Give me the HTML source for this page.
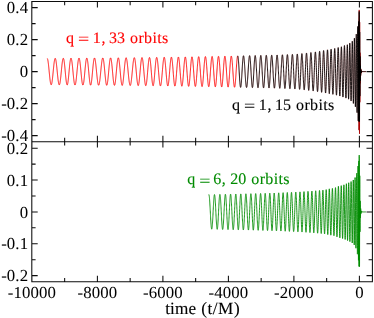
<!DOCTYPE html>
<html lang="en"><head><meta charset="utf-8"><title>waveforms</title>
<style>html,body{margin:0;padding:0;background:#fff}svg{display:block}</style></head>
<body>
<svg width="374" height="318" viewBox="0 0 374 318">
<rect width="374" height="318" fill="#fff"/>
<path d="M47.20 58.48L47.26 58.50L47.33 58.54L47.39 58.62L47.45 58.73L47.51 58.87L47.58 59.05L47.64 59.25L47.70 59.48L47.76 59.75L47.83 60.04L47.89 60.36L47.95 60.71L48.01 61.08L48.08 61.48L48.14 61.90L48.20 62.35L48.26 62.82L48.33 63.31L48.39 63.83L48.45 64.36L48.51 64.90L48.58 65.47L48.64 66.05L48.70 66.64L48.76 67.25L48.83 67.86L48.89 68.49L48.95 69.12L49.01 69.76L49.08 70.40L49.14 71.05L49.20 71.70L49.26 72.34L49.33 72.99L49.39 73.63L49.45 74.27L49.51 74.90L49.58 75.52L49.64 76.13L49.70 76.74L49.76 77.33L49.83 77.90L49.89 78.46L49.95 79.01L50.01 79.53L50.08 80.04L50.14 80.53L50.20 80.99L50.26 81.43L50.33 81.85L50.39 82.25L50.45 82.62L50.51 82.96L50.58 83.27L50.64 83.56L50.70 83.81L50.76 84.04L50.83 84.24L50.89 84.41L50.95 84.54L51.01 84.65L51.08 84.72L51.14 84.77L51.20 84.78L51.26 84.75L51.33 84.70L51.39 84.62L51.45 84.50L51.51 84.35L51.58 84.18L51.64 83.97L51.70 83.73L51.76 83.46L51.83 83.17L51.89 82.85L51.95 82.50L52.01 82.12L52.08 81.72L52.14 81.29L52.20 80.84L52.26 80.37L52.33 79.88L52.39 79.36L52.45 78.83L52.51 78.28L52.58 77.72L52.64 77.14L52.70 76.55L52.76 75.94L52.83 75.33L52.89 74.70L52.95 74.07L53.01 73.44L53.08 72.79L53.14 72.15L53.20 71.50L53.26 70.86L53.33 70.21L53.39 69.57L53.45 68.94L53.51 68.31L53.58 67.69L53.64 67.07L53.70 66.47L53.76 65.88L53.83 65.31L53.89 64.75L53.95 64.20L54.01 63.68L54.08 63.17L54.14 62.68L54.20 62.22L54.26 61.77L54.33 61.35L54.39 60.96L54.45 60.58L54.51 60.24L54.58 59.92L54.64 59.63L54.70 59.37L54.76 59.14L54.83 58.94L54.89 58.77L54.95 58.63L55.01 58.52L55.08 58.44L55.14 58.39L55.20 58.37L55.26 58.39L55.33 58.43L55.39 58.51L55.45 58.62L55.51 58.76L55.58 58.93L55.64 59.13L55.70 59.36L55.76 59.61L55.83 59.90L55.89 60.21L55.95 60.55L56.01 60.92L56.08 61.31L56.14 61.72L56.20 62.16L56.26 62.62L56.33 63.10L56.39 63.60L56.45 64.12L56.51 64.66L56.58 65.21L56.64 65.78L56.70 66.36L56.76 66.95L56.83 67.55L56.89 68.17L56.95 68.79L57.01 69.41L57.08 70.05L57.14 70.68L57.20 71.32L57.26 71.96L57.33 72.59L57.39 73.23L57.45 73.86L57.51 74.48L57.58 75.10L57.64 75.71L57.70 76.32L57.76 76.91L57.83 77.48L57.89 78.05L57.95 78.60L58.01 79.13L58.08 79.65L58.14 80.15L58.20 80.62L58.26 81.08L58.33 81.52L58.39 81.93L58.45 82.32L58.51 82.68L58.58 83.02L58.64 83.33L58.70 83.62L58.76 83.87L58.83 84.10L58.89 84.30L58.95 84.47L59.01 84.61L59.08 84.73L59.14 84.81L59.20 84.86L59.26 84.88L59.33 84.87L59.39 84.82L59.45 84.75L59.51 84.65L59.58 84.52L59.64 84.35L59.70 84.16L59.76 83.94L59.83 83.69L59.89 83.41L59.95 83.10L60.01 82.77L60.08 82.41L60.14 82.02L60.20 81.62L60.26 81.18L60.33 80.73L60.39 80.25L60.45 79.75L60.51 79.24L60.58 78.70L60.64 78.15L60.70 77.59L60.76 77.00L60.83 76.41L60.89 75.80L60.95 75.19L61.01 74.56L61.08 73.93L61.14 73.29L61.20 72.65L61.26 72.00L61.33 71.36L61.39 70.71L61.45 70.07L61.51 69.43L61.58 68.79L61.64 68.16L61.70 67.54L61.76 66.92L61.83 66.32L61.89 65.73L61.95 65.15L62.01 64.59L62.08 64.04L62.14 63.52L62.20 63.01L62.26 62.52L62.33 62.05L62.39 61.61L62.45 61.19L62.51 60.79L62.58 60.42L62.64 60.08L62.70 59.76L62.76 59.48L62.83 59.22L62.89 58.99L62.95 58.79L63.01 58.63L63.08 58.49L63.14 58.39L63.20 58.32L63.26 58.29L63.33 58.28L63.39 58.31L63.45 58.37L63.51 58.47L63.58 58.60L63.64 58.76L63.70 58.95L63.76 59.17L63.83 59.43L63.89 59.72L63.95 60.03L64.01 60.38L64.08 60.76L64.14 61.16L64.20 61.59L64.26 62.05L64.33 62.53L64.39 63.03L64.45 63.56L64.51 64.11L64.58 64.68L64.64 65.26L64.70 65.87L64.76 66.49L64.83 67.12L64.89 67.76L64.95 68.42L65.01 69.08L65.08 69.75L65.14 70.43L65.20 71.11L65.26 71.79L65.33 72.47L65.39 73.15L65.45 73.82L65.51 74.49L65.58 75.16L65.64 75.81L65.70 76.45L65.76 77.09L65.83 77.70L65.89 78.30L65.95 78.89L66.01 79.45L66.08 80.00L66.14 80.52L66.20 81.02L66.26 81.49L66.33 81.94L66.39 82.36L66.45 82.76L66.51 83.12L66.58 83.45L66.64 83.75L66.70 84.02L66.76 84.26L66.83 84.46L66.89 84.63L66.95 84.77L67.01 84.87L67.08 84.93L67.14 84.96L67.20 84.95L67.26 84.91L67.33 84.83L67.39 84.72L67.45 84.57L67.51 84.39L67.58 84.17L67.64 83.92L67.70 83.64L67.76 83.33L67.83 82.98L67.89 82.61L67.95 82.20L68.01 81.77L68.08 81.31L68.14 80.82L68.20 80.31L68.26 79.78L68.33 79.22L68.39 78.65L68.45 78.06L68.51 77.45L68.58 76.82L68.64 76.18L68.70 75.53L68.76 74.87L68.83 74.20L68.89 73.52L68.95 72.84L69.01 72.16L69.08 71.47L69.14 70.79L69.20 70.11L69.26 69.43L69.33 68.76L69.39 68.09L69.45 67.44L69.51 66.79L69.58 66.16L69.64 65.55L69.70 64.95L69.76 64.36L69.83 63.80L69.89 63.26L69.95 62.74L70.01 62.24L70.08 61.77L70.14 61.32L70.20 60.90L70.26 60.50L70.33 60.14L70.39 59.80L70.45 59.50L70.51 59.22L70.58 58.98L70.64 58.77L70.70 58.59L70.76 58.45L70.83 58.34L70.89 58.26L70.95 58.22L71.01 58.20L71.08 58.23L71.14 58.28L71.20 58.37L71.26 58.50L71.33 58.65L71.39 58.84L71.45 59.06L71.51 59.30L71.58 59.58L71.64 59.89L71.70 60.23L71.76 60.60L71.83 60.99L71.89 61.41L71.95 61.85L72.01 62.32L72.08 62.81L72.14 63.32L72.20 63.85L72.26 64.39L72.33 64.96L72.39 65.54L72.45 66.14L72.51 66.75L72.58 67.37L72.64 68.00L72.70 68.64L72.76 69.29L72.83 69.94L72.89 70.59L72.95 71.25L73.01 71.91L73.08 72.57L73.14 73.22L73.20 73.87L73.26 74.52L73.33 75.15L73.39 75.78L73.45 76.40L73.51 77.01L73.58 77.60L73.64 78.18L73.70 78.75L73.76 79.29L73.83 79.82L73.89 80.33L73.95 80.82L74.01 81.28L74.08 81.73L74.14 82.14L74.20 82.54L74.26 82.90L74.33 83.24L74.39 83.56L74.45 83.84L74.51 84.09L74.58 84.32L74.64 84.51L74.70 84.68L74.76 84.81L74.83 84.91L74.89 84.98L74.95 85.02L75.01 85.03L75.08 85.00L75.14 84.95L75.20 84.86L75.26 84.74L75.33 84.59L75.39 84.41L75.45 84.19L75.51 83.95L75.58 83.68L75.64 83.38L75.70 83.05L75.76 82.70L75.83 82.31L75.89 81.91L75.95 81.48L76.01 81.02L76.08 80.54L76.14 80.04L76.20 79.52L76.26 78.99L76.33 78.43L76.39 77.86L76.45 77.27L76.51 76.67L76.58 76.06L76.64 75.43L76.70 74.80L76.76 74.16L76.83 73.51L76.89 72.86L76.95 72.20L77.01 71.54L77.08 70.89L77.14 70.23L77.20 69.58L77.26 68.93L77.33 68.29L77.39 67.65L77.45 67.03L77.51 66.41L77.58 65.81L77.64 65.22L77.70 64.64L77.76 64.09L77.83 63.55L77.89 63.03L77.95 62.53L78.01 62.05L78.08 61.59L78.14 61.16L78.20 60.76L78.26 60.38L78.33 60.02L78.39 59.70L78.45 59.40L78.51 59.13L78.58 58.90L78.64 58.69L78.70 58.52L78.76 58.38L78.83 58.27L78.89 58.19L78.95 58.15L79.01 58.14L79.08 58.16L79.14 58.22L79.20 58.30L79.26 58.43L79.33 58.58L79.39 58.77L79.45 58.99L79.51 59.24L79.58 59.52L79.64 59.83L79.70 60.17L79.76 60.54L79.83 60.94L79.89 61.36L79.95 61.81L80.01 62.28L80.08 62.78L80.14 63.30L80.20 63.84L80.26 64.40L80.33 64.98L80.39 65.57L80.45 66.18L80.51 66.81L80.58 67.44L80.64 68.09L80.70 68.74L80.76 69.41L80.83 70.08L80.89 70.75L80.95 71.42L81.01 72.10L81.08 72.77L81.14 73.45L81.20 74.11L81.26 74.77L81.33 75.43L81.39 76.07L81.45 76.71L81.51 77.33L81.58 77.93L81.64 78.52L81.70 79.09L81.76 79.65L81.83 80.18L81.89 80.69L81.95 81.18L82.01 81.65L82.08 82.09L82.14 82.50L82.20 82.89L82.26 83.25L82.33 83.57L82.39 83.87L82.45 84.14L82.51 84.37L82.58 84.58L82.64 84.75L82.70 84.88L82.76 84.99L82.83 85.06L82.89 85.09L82.95 85.09L83.01 85.06L83.08 84.99L83.14 84.89L83.20 84.75L83.26 84.58L83.33 84.38L83.39 84.14L83.45 83.88L83.51 83.58L83.58 83.25L83.64 82.89L83.70 82.50L83.76 82.08L83.83 81.64L83.89 81.17L83.95 80.68L84.01 80.17L84.08 79.63L84.14 79.07L84.20 78.49L84.26 77.90L84.33 77.28L84.39 76.66L84.45 76.02L84.51 75.37L84.58 74.71L84.64 74.04L84.70 73.36L84.76 72.68L84.83 72.00L84.89 71.32L84.95 70.63L85.01 69.95L85.08 69.28L85.14 68.61L85.20 67.94L85.26 67.29L85.33 66.65L85.39 66.02L85.45 65.40L85.51 64.80L85.58 64.22L85.64 63.65L85.70 63.11L85.76 62.59L85.83 62.09L85.89 61.62L85.95 61.17L86.01 60.74L86.08 60.35L86.14 59.98L86.20 59.65L86.26 59.34L86.33 59.07L86.39 58.83L86.45 58.62L86.51 58.44L86.58 58.30L86.64 58.19L86.70 58.12L86.76 58.08L86.83 58.08L86.89 58.11L86.95 58.18L87.01 58.28L87.08 58.41L87.14 58.58L87.20 58.78L87.26 59.02L87.33 59.29L87.39 59.59L87.45 59.92L87.51 60.28L87.58 60.68L87.64 61.10L87.70 61.55L87.76 62.03L87.83 62.53L87.89 63.05L87.95 63.60L88.01 64.17L88.08 64.76L88.14 65.37L88.20 65.99L88.26 66.63L88.33 67.29L88.39 67.95L88.45 68.63L88.51 69.31L88.58 70.00L88.64 70.70L88.70 71.39L88.76 72.09L88.83 72.79L88.89 73.48L88.95 74.17L89.01 74.85L89.08 75.52L89.14 76.19L89.20 76.84L89.26 77.48L89.33 78.10L89.39 78.70L89.45 79.29L89.51 79.85L89.58 80.40L89.64 80.92L89.70 81.41L89.76 81.88L89.83 82.32L89.89 82.74L89.95 83.12L90.01 83.47L90.08 83.79L90.14 84.08L90.20 84.34L90.26 84.56L90.33 84.75L90.39 84.90L90.45 85.02L90.51 85.10L90.58 85.14L90.64 85.15L90.70 85.12L90.76 85.06L90.83 84.96L90.89 84.83L90.95 84.66L91.01 84.45L91.08 84.22L91.14 83.95L91.20 83.64L91.26 83.31L91.33 82.94L91.39 82.54L91.45 82.12L91.51 81.67L91.58 81.19L91.64 80.69L91.70 80.16L91.76 79.61L91.83 79.04L91.89 78.45L91.95 77.84L92.01 77.22L92.08 76.58L92.14 75.93L92.20 75.27L92.26 74.60L92.33 73.93L92.39 73.25L92.45 72.56L92.51 71.87L92.58 71.18L92.64 70.49L92.70 69.81L92.76 69.13L92.83 68.46L92.89 67.80L92.95 67.14L93.01 66.50L93.08 65.88L93.14 65.26L93.20 64.67L93.26 64.09L93.33 63.53L93.39 62.99L93.45 62.48L93.51 61.99L93.58 61.52L93.64 61.08L93.70 60.66L93.76 60.28L93.83 59.92L93.89 59.59L93.95 59.29L94.01 59.02L94.08 58.78L94.14 58.57L94.20 58.40L94.26 58.26L94.33 58.15L94.39 58.07L94.45 58.03L94.51 58.02L94.58 58.04L94.64 58.10L94.70 58.19L94.76 58.31L94.83 58.46L94.89 58.64L94.95 58.85L95.01 59.09L95.08 59.36L95.14 59.66L95.20 59.99L95.26 60.34L95.33 60.72L95.39 61.12L95.45 61.55L95.51 62.00L95.58 62.47L95.64 62.97L95.70 63.48L95.76 64.01L95.83 64.55L95.89 65.12L95.95 65.69L96.01 66.28L96.08 66.88L96.14 67.49L96.20 68.11L96.26 68.74L96.33 69.37L96.39 70.01L96.45 70.65L96.51 71.29L96.58 71.93L96.64 72.57L96.70 73.21L96.76 73.84L96.83 74.47L96.89 75.09L96.95 75.71L97.01 76.31L97.08 76.90L97.14 77.48L97.20 78.05L97.26 78.61L97.33 79.14L97.39 79.66L97.45 80.17L97.51 80.65L97.58 81.12L97.64 81.56L97.70 81.98L97.76 82.38L97.83 82.76L97.89 83.11L97.95 83.43L98.01 83.73L98.08 84.01L98.14 84.25L98.20 84.47L98.26 84.66L98.33 84.83L98.39 84.96L98.45 85.07L98.51 85.14L98.58 85.19L98.64 85.21L98.70 85.20L98.76 85.16L98.83 85.09L98.89 84.99L98.95 84.86L99.01 84.70L99.08 84.51L99.14 84.30L99.20 84.06L99.26 83.79L99.33 83.50L99.39 83.18L99.45 82.83L99.51 82.46L99.58 82.07L99.64 81.65L99.70 81.21L99.76 80.75L99.83 80.28L99.89 79.78L99.95 79.26L100.01 78.73L100.08 78.18L100.14 77.61L100.20 77.03L100.26 76.44L100.33 75.84L100.39 75.23L100.45 74.61L100.51 73.99L100.58 73.36L100.64 72.72L100.70 72.08L100.76 71.44L100.83 70.80L100.89 70.16L100.95 69.52L101.01 68.89L101.08 68.26L101.14 67.64L101.20 67.03L101.26 66.43L101.33 65.84L101.39 65.26L101.45 64.69L101.51 64.14L101.58 63.61L101.64 63.09L101.70 62.59L101.76 62.11L101.83 61.66L101.89 61.22L101.95 60.81L102.01 60.42L102.08 60.06L102.14 59.72L102.20 59.42L102.26 59.13L102.33 58.88L102.39 58.66L102.45 58.47L102.51 58.30L102.58 58.17L102.64 58.07L102.70 58.00L102.76 57.97L102.83 57.96L102.89 57.99L102.95 58.05L103.01 58.15L103.08 58.27L103.14 58.43L103.20 58.62L103.26 58.84L103.33 59.10L103.39 59.38L103.45 59.69L103.51 60.03L103.58 60.40L103.64 60.80L103.70 61.23L103.76 61.68L103.83 62.15L103.89 62.65L103.95 63.17L104.01 63.71L104.08 64.27L104.14 64.85L104.20 65.45L104.26 66.06L104.33 66.69L104.39 67.33L104.45 67.98L104.51 68.64L104.58 69.31L104.64 69.98L104.70 70.66L104.76 71.34L104.83 72.02L104.89 72.70L104.95 73.38L105.01 74.06L105.08 74.73L105.14 75.39L105.20 76.04L105.26 76.68L105.33 77.31L105.39 77.93L105.45 78.53L105.51 79.11L105.58 79.68L105.64 80.22L105.70 80.74L105.76 81.24L105.83 81.72L105.89 82.17L105.95 82.59L106.01 82.99L106.08 83.35L106.14 83.69L106.20 84.00L106.26 84.27L106.33 84.51L106.39 84.72L106.45 84.90L106.51 85.04L106.58 85.15L106.64 85.22L106.70 85.26L106.76 85.26L106.83 85.23L106.89 85.17L106.95 85.06L107.01 84.93L107.08 84.76L107.14 84.55L107.20 84.31L107.26 84.04L107.33 83.74L107.39 83.40L107.45 83.04L107.51 82.65L107.58 82.22L107.64 81.77L107.70 81.29L107.76 80.79L107.83 80.27L107.89 79.72L107.95 79.15L108.01 78.56L108.08 77.95L108.14 77.33L108.20 76.69L108.26 76.04L108.33 75.37L108.39 74.70L108.45 74.02L108.51 73.33L108.58 72.64L108.64 71.94L108.70 71.25L108.76 70.55L108.83 69.86L108.89 69.17L108.95 68.49L109.01 67.81L109.08 67.15L109.14 66.50L109.20 65.86L109.26 65.23L109.33 64.62L109.39 64.03L109.45 63.46L109.51 62.91L109.58 62.39L109.64 61.89L109.70 61.41L109.76 60.96L109.83 60.53L109.89 60.14L109.95 59.77L110.01 59.44L110.08 59.13L110.14 58.86L110.20 58.62L110.26 58.42L110.33 58.24L110.39 58.11L110.45 58.01L110.51 57.94L110.58 57.91L110.64 57.91L110.70 57.95L110.76 58.02L110.83 58.13L110.89 58.27L110.95 58.45L111.01 58.66L111.08 58.91L111.14 59.18L111.20 59.49L111.26 59.83L111.33 60.21L111.39 60.61L111.45 61.04L111.51 61.49L111.58 61.98L111.64 62.48L111.70 63.02L111.76 63.57L111.83 64.15L111.89 64.74L111.95 65.36L112.01 65.99L112.08 66.63L112.14 67.29L112.20 67.96L112.26 68.63L112.33 69.32L112.39 70.01L112.45 70.71L112.51 71.41L112.58 72.11L112.64 72.81L112.70 73.50L112.76 74.19L112.83 74.88L112.89 75.55L112.95 76.22L113.01 76.87L113.08 77.51L113.14 78.14L113.20 78.74L113.26 79.33L113.33 79.90L113.39 80.45L113.45 80.98L113.51 81.48L113.58 81.95L113.64 82.40L113.70 82.82L113.76 83.21L113.83 83.57L113.89 83.89L113.95 84.19L114.01 84.45L114.08 84.68L114.14 84.88L114.20 85.04L114.26 85.16L114.33 85.25L114.39 85.31L114.45 85.33L114.51 85.31L114.58 85.26L114.64 85.17L114.70 85.04L114.76 84.88L114.83 84.69L114.89 84.46L114.95 84.20L115.01 83.90L115.08 83.57L115.14 83.22L115.20 82.83L115.26 82.41L115.33 81.96L115.39 81.49L115.45 80.99L115.51 80.46L115.58 79.91L115.64 79.35L115.70 78.76L115.76 78.15L115.83 77.52L115.89 76.88L115.95 76.23L116.01 75.56L116.08 74.88L116.14 74.20L116.20 73.51L116.26 72.81L116.33 72.11L116.39 71.41L116.45 70.71L116.51 70.01L116.58 69.31L116.64 68.63L116.70 67.95L116.76 67.27L116.83 66.62L116.89 65.97L116.95 65.34L117.01 64.72L117.08 64.12L117.14 63.55L117.20 62.99L117.26 62.45L117.33 61.94L117.39 61.46L117.45 61.00L117.51 60.57L117.58 60.16L117.64 59.79L117.70 59.45L117.76 59.13L117.83 58.85L117.89 58.61L117.95 58.39L118.01 58.21L118.08 58.07L118.14 57.96L118.20 57.89L118.26 57.85L118.33 57.84L118.39 57.87L118.45 57.94L118.51 58.04L118.58 58.18L118.64 58.35L118.70 58.55L118.76 58.79L118.83 59.07L118.89 59.37L118.95 59.70L119.01 60.07L119.08 60.47L119.14 60.89L119.20 61.34L119.26 61.82L119.33 62.33L119.39 62.86L119.45 63.41L119.51 63.98L119.58 64.57L119.64 65.18L119.70 65.81L119.76 66.45L119.83 67.11L119.89 67.77L119.95 68.45L120.01 69.13L120.08 69.82L120.14 70.52L120.20 71.22L120.26 71.92L120.33 72.62L120.39 73.31L120.45 74.01L120.51 74.69L120.58 75.37L120.64 76.04L120.70 76.70L120.76 77.34L120.83 77.97L120.89 78.58L120.95 79.17L121.01 79.75L121.08 80.30L121.14 80.83L121.20 81.34L121.26 81.82L121.33 82.28L121.39 82.71L121.45 83.11L121.51 83.48L121.58 83.82L121.64 84.13L121.70 84.40L121.76 84.65L121.83 84.86L121.89 85.03L121.95 85.18L122.01 85.28L122.08 85.35L122.14 85.39L122.20 85.39L122.26 85.36L122.33 85.29L122.39 85.18L122.45 85.04L122.51 84.87L122.58 84.66L122.64 84.42L122.70 84.15L122.76 83.85L122.83 83.51L122.89 83.14L122.95 82.75L123.01 82.33L123.08 81.87L123.14 81.40L123.20 80.90L123.26 80.37L123.33 79.83L123.39 79.26L123.45 78.67L123.51 78.07L123.58 77.45L123.64 76.81L123.70 76.16L123.76 75.51L123.83 74.84L123.89 74.16L123.95 73.48L124.01 72.79L124.08 72.10L124.14 71.41L124.20 70.72L124.26 70.03L124.33 69.35L124.39 68.67L124.45 68.00L124.51 67.34L124.58 66.69L124.64 66.05L124.70 65.43L124.76 64.82L124.83 64.23L124.89 63.66L124.95 63.11L125.01 62.57L125.08 62.07L125.14 61.58L125.20 61.12L125.26 60.69L125.33 60.28L125.39 59.90L125.45 59.55L125.51 59.23L125.58 58.94L125.64 58.68L125.70 58.45L125.76 58.25L125.83 58.09L125.89 57.96L125.95 57.86L126.01 57.80L126.08 57.77L126.14 57.77L126.20 57.81L126.26 57.88L126.33 57.98L126.39 58.11L126.45 58.28L126.51 58.48L126.58 58.71L126.64 58.96L126.70 59.25L126.76 59.57L126.83 59.92L126.89 60.29L126.95 60.69L127.01 61.11L127.08 61.56L127.14 62.03L127.20 62.52L127.26 63.04L127.33 63.57L127.39 64.12L127.45 64.69L127.51 65.27L127.58 65.87L127.64 66.48L127.70 67.10L127.76 67.73L127.83 68.37L127.89 69.02L127.95 69.67L128.01 70.33L128.07 70.99L128.14 71.65L128.20 72.31L128.26 72.96L128.32 73.62L128.39 74.27L128.45 74.91L128.51 75.55L128.57 76.17L128.64 76.79L128.70 77.39L128.76 77.98L128.82 78.56L128.89 79.12L128.95 79.66L129.01 80.19L129.07 80.69L129.14 81.18L129.20 81.64L129.26 82.08L129.32 82.50L129.39 82.89L129.45 83.26L129.51 83.60L129.57 83.92L129.64 84.21L129.70 84.47L129.76 84.70L129.82 84.90L129.89 85.07L129.95 85.21L130.01 85.33L130.07 85.41L130.14 85.46L130.20 85.48L130.26 85.47L130.32 85.42L130.39 85.35L130.45 85.25L130.51 85.11L130.57 84.95L130.64 84.75L130.70 84.53L130.76 84.28L130.82 84.00L130.89 83.69L130.95 83.35L131.01 82.99L131.07 82.60L131.14 82.19L131.20 81.75L131.26 81.29L131.32 80.81L131.39 80.31L131.45 79.78L131.51 79.24L131.57 78.68L131.64 78.11L131.70 77.52L131.76 76.91L131.82 76.30L131.89 75.67L131.95 75.03L132.01 74.39L132.07 73.74L132.14 73.08L132.20 72.42L132.26 71.75L132.32 71.09L132.39 70.43L132.45 69.76L132.51 69.11L132.57 68.45L132.64 67.81L132.70 67.17L132.76 66.54L132.82 65.92L132.89 65.32L132.95 64.73L133.01 64.15L133.07 63.59L133.14 63.05L133.20 62.53L133.26 62.03L133.32 61.55L133.39 61.09L133.45 60.66L133.51 60.26L133.57 59.88L133.64 59.53L133.70 59.20L133.76 58.91L133.82 58.64L133.89 58.41L133.95 58.21L134.01 58.04L134.07 57.90L134.14 57.79L134.20 57.72L134.26 57.68L134.32 57.68L134.39 57.71L134.45 57.77L134.51 57.87L134.57 58.00L134.64 58.17L134.70 58.37L134.76 58.60L134.82 58.86L134.89 59.16L134.95 59.48L135.01 59.84L135.07 60.23L135.14 60.64L135.20 61.08L135.26 61.55L135.32 62.05L135.39 62.57L135.45 63.11L135.51 63.67L135.57 64.26L135.64 64.86L135.70 65.48L135.76 66.12L135.82 66.77L135.89 67.43L135.95 68.11L136.01 68.79L136.07 69.48L136.14 70.18L136.20 70.88L136.26 71.58L136.32 72.29L136.39 72.99L136.45 73.69L136.51 74.39L136.57 75.08L136.64 75.76L136.70 76.43L136.76 77.08L136.82 77.73L136.89 78.36L136.95 78.97L137.01 79.56L137.07 80.13L137.14 80.68L137.20 81.21L137.26 81.72L137.32 82.19L137.39 82.64L137.45 83.06L137.51 83.46L137.57 83.82L137.64 84.15L137.70 84.45L137.76 84.71L137.82 84.94L137.89 85.13L137.95 85.29L138.01 85.42L138.07 85.50L138.14 85.56L138.20 85.57L138.26 85.55L138.32 85.49L138.39 85.39L138.45 85.26L138.51 85.10L138.57 84.89L138.64 84.65L138.70 84.38L138.76 84.07L138.82 83.73L138.89 83.36L138.95 82.96L139.01 82.53L139.07 82.06L139.14 81.57L139.20 81.06L139.26 80.51L139.32 79.95L139.39 79.36L139.45 78.75L139.51 78.12L139.57 77.48L139.64 76.81L139.70 76.14L139.76 75.45L139.82 74.75L139.89 74.05L139.95 73.33L140.01 72.61L140.07 71.89L140.14 71.17L140.20 70.45L140.26 69.73L140.32 69.02L140.39 68.31L140.45 67.61L140.51 66.92L140.57 66.25L140.64 65.59L140.70 64.94L140.76 64.31L140.82 63.70L140.89 63.12L140.95 62.55L141.01 62.01L141.07 61.50L141.14 61.01L141.20 60.55L141.26 60.12L141.32 59.72L141.39 59.35L141.45 59.01L141.51 58.71L141.57 58.44L141.64 58.21L141.70 58.01L141.76 57.85L141.82 57.73L141.89 57.64L141.95 57.59L142.01 57.58L142.07 57.61L142.14 57.67L142.20 57.77L142.26 57.91L142.32 58.08L142.39 58.29L142.45 58.54L142.51 58.82L142.57 59.13L142.64 59.48L142.70 59.86L142.76 60.27L142.82 60.71L142.89 61.19L142.95 61.69L143.01 62.21L143.07 62.76L143.14 63.34L143.20 63.94L143.26 64.56L143.32 65.19L143.39 65.85L143.45 66.52L143.51 67.20L143.57 67.90L143.64 68.61L143.70 69.32L143.76 70.04L143.82 70.77L143.89 71.50L143.95 72.23L144.01 72.95L144.07 73.68L144.14 74.40L144.20 75.11L144.26 75.81L144.32 76.50L144.39 77.18L144.45 77.84L144.51 78.49L144.57 79.11L144.64 79.72L144.70 80.31L144.76 80.87L144.82 81.41L144.89 81.92L144.95 82.40L145.01 82.86L145.07 83.28L145.14 83.67L145.20 84.03L145.26 84.36L145.32 84.65L145.39 84.91L145.45 85.13L145.51 85.31L145.57 85.46L145.64 85.56L145.70 85.63L145.76 85.67L145.82 85.66L145.89 85.61L145.95 85.53L146.01 85.41L146.07 85.25L146.14 85.05L146.20 84.82L146.26 84.55L146.32 84.24L146.39 83.90L146.45 83.53L146.51 83.12L146.57 82.68L146.64 82.21L146.70 81.71L146.76 81.18L146.82 80.63L146.89 80.05L146.95 79.45L147.01 78.82L147.07 78.18L147.14 77.51L147.20 76.83L147.26 76.14L147.32 75.43L147.39 74.71L147.45 73.98L147.51 73.24L147.57 72.50L147.64 71.76L147.70 71.02L147.76 70.28L147.82 69.54L147.89 68.80L147.95 68.08L148.01 67.36L148.07 66.65L148.14 65.96L148.20 65.29L148.26 64.63L148.32 63.99L148.39 63.37L148.45 62.77L148.51 62.20L148.57 61.65L148.64 61.14L148.70 60.65L148.76 60.19L148.82 59.77L148.89 59.37L148.95 59.02L149.01 58.69L149.07 58.41L149.14 58.16L149.20 57.95L149.26 57.78L149.32 57.64L149.39 57.55L149.45 57.50L149.51 57.48L149.57 57.51L149.64 57.58L149.70 57.69L149.76 57.83L149.82 58.02L149.89 58.25L149.95 58.52L150.01 58.82L150.07 59.16L150.14 59.54L150.20 59.96L150.26 60.40L150.32 60.89L150.39 61.40L150.45 61.94L150.51 62.51L150.57 63.11L150.64 63.74L150.70 64.39L150.76 65.06L150.82 65.75L150.89 66.46L150.95 67.18L151.01 67.92L151.07 68.67L151.14 69.43L151.20 70.20L151.26 70.97L151.32 71.74L151.39 72.51L151.45 73.28L151.51 74.05L151.57 74.81L151.64 75.56L151.70 76.30L151.76 77.02L151.82 77.73L151.89 78.42L151.95 79.09L152.01 79.74L152.07 80.37L152.14 80.96L152.20 81.53L152.26 82.07L152.32 82.58L152.39 83.06L152.45 83.50L152.51 83.90L152.57 84.27L152.64 84.60L152.70 84.89L152.76 85.14L152.82 85.35L152.89 85.52L152.95 85.64L153.01 85.72L153.07 85.76L153.14 85.76L153.20 85.71L153.26 85.62L153.32 85.49L153.39 85.32L153.45 85.10L153.51 84.85L153.57 84.55L153.64 84.21L153.70 83.84L153.76 83.43L153.82 82.98L153.89 82.50L153.95 81.99L154.01 81.44L154.07 80.86L154.14 80.26L154.20 79.63L154.26 78.98L154.32 78.30L154.39 77.61L154.45 76.89L154.51 76.16L154.57 75.42L154.64 74.67L154.70 73.91L154.76 73.14L154.82 72.36L154.89 71.59L154.95 70.81L155.01 70.04L155.07 69.27L155.14 68.51L155.20 67.76L155.26 67.02L155.32 66.29L155.39 65.58L155.45 64.89L155.51 64.22L155.57 63.57L155.64 62.95L155.70 62.35L155.76 61.78L155.82 61.24L155.89 60.73L155.95 60.25L156.01 59.80L156.07 59.39L156.14 59.02L156.20 58.68L156.26 58.38L156.32 58.12L156.39 57.89L156.45 57.71L156.51 57.57L156.57 57.46L156.64 57.40L156.70 57.38L156.76 57.40L156.82 57.46L156.89 57.56L156.95 57.70L157.01 57.88L157.07 58.10L157.14 58.35L157.20 58.64L157.26 58.97L157.32 59.34L157.39 59.74L157.45 60.17L157.51 60.63L157.57 61.12L157.64 61.64L157.70 62.19L157.76 62.77L157.82 63.37L157.89 63.99L157.95 64.63L158.01 65.29L158.07 65.97L158.14 66.66L158.20 67.37L158.26 68.09L158.32 68.81L158.39 69.55L158.45 70.29L158.51 71.03L158.57 71.77L158.64 72.52L158.70 73.26L158.76 73.99L158.82 74.72L158.89 75.44L158.95 76.15L159.01 76.85L159.07 77.53L159.14 78.20L159.20 78.85L159.26 79.47L159.32 80.08L159.39 80.67L159.45 81.23L159.51 81.76L159.57 82.27L159.64 82.74L159.70 83.19L159.76 83.61L159.82 83.99L159.89 84.34L159.95 84.66L160.01 84.94L160.07 85.18L160.14 85.39L160.20 85.56L160.26 85.70L160.32 85.79L160.39 85.85L160.45 85.87L160.51 85.85L160.57 85.80L160.64 85.70L160.70 85.57L160.76 85.40L160.82 85.19L160.89 84.95L160.95 84.67L161.01 84.36L161.07 84.01L161.14 83.62L161.20 83.21L161.26 82.76L161.32 82.28L161.39 81.78L161.45 81.25L161.51 80.69L161.57 80.10L161.64 79.49L161.70 78.86L161.76 78.21L161.82 77.55L161.89 76.86L161.95 76.16L162.01 75.45L162.07 74.73L162.14 74.00L162.20 73.26L162.26 72.52L162.32 71.77L162.39 71.03L162.45 70.28L162.51 69.54L162.57 68.80L162.64 68.07L162.70 67.35L162.76 66.64L162.82 65.94L162.89 65.26L162.95 64.59L163.01 63.95L163.07 63.32L163.14 62.72L163.20 62.14L163.26 61.59L163.32 61.06L163.39 60.56L163.45 60.10L163.51 59.66L163.57 59.26L163.64 58.89L163.70 58.56L163.76 58.26L163.82 58.00L163.89 57.78L163.95 57.60L164.01 57.46L164.07 57.35L164.14 57.29L164.20 57.27L164.26 57.29L164.32 57.35L164.39 57.45L164.45 57.59L164.51 57.78L164.57 58.00L164.64 58.26L164.70 58.56L164.76 58.90L164.82 59.27L164.89 59.68L164.95 60.12L165.01 60.60L165.07 61.11L165.14 61.65L165.20 62.22L165.26 62.82L165.32 63.44L165.39 64.09L165.45 64.76L165.51 65.44L165.57 66.15L165.64 66.88L165.70 67.61L165.76 68.36L165.82 69.12L165.89 69.89L165.95 70.66L166.01 71.44L166.07 72.22L166.14 72.99L166.20 73.76L166.26 74.53L166.32 75.28L166.39 76.03L166.45 76.77L166.51 77.49L166.57 78.19L166.64 78.87L166.70 79.53L166.76 80.17L166.82 80.79L166.89 81.37L166.95 81.93L167.01 82.46L167.07 82.96L167.14 83.42L167.20 83.85L167.26 84.24L167.32 84.60L167.39 84.91L167.45 85.19L167.51 85.43L167.57 85.62L167.64 85.78L167.70 85.89L167.76 85.96L167.82 85.98L167.89 85.97L167.95 85.91L168.01 85.81L168.07 85.66L168.14 85.48L168.20 85.25L168.26 84.98L168.32 84.67L168.39 84.32L168.45 83.93L168.51 83.51L168.57 83.05L168.64 82.55L168.70 82.02L168.76 81.47L168.82 80.88L168.89 80.26L168.95 79.61L169.01 78.95L169.07 78.26L169.14 77.54L169.20 76.82L169.26 76.07L169.32 75.31L169.39 74.54L169.45 73.76L169.51 72.97L169.57 72.18L169.64 71.39L169.70 70.60L169.76 69.81L169.82 69.02L169.89 68.25L169.95 67.48L170.01 66.72L170.07 65.98L170.14 65.26L170.20 64.55L170.26 63.87L170.32 63.21L170.39 62.58L170.45 61.97L170.51 61.39L170.57 60.84L170.64 60.33L170.70 59.85L170.76 59.40L170.82 58.99L170.89 58.62L170.95 58.29L171.01 58.00L171.07 57.76L171.14 57.55L171.20 57.39L171.26 57.27L171.32 57.19L171.39 57.16L171.45 57.17L171.51 57.23L171.57 57.33L171.64 57.47L171.70 57.66L171.76 57.89L171.82 58.16L171.89 58.48L171.95 58.83L172.01 59.23L172.07 59.66L172.14 60.13L172.20 60.64L172.26 61.17L172.32 61.75L172.39 62.35L172.45 62.98L172.51 63.64L172.57 64.32L172.64 65.03L172.70 65.76L172.76 66.50L172.82 67.26L172.89 68.04L172.95 68.82L173.01 69.62L173.07 70.42L173.14 71.23L173.20 72.04L173.26 72.84L173.32 73.65L173.39 74.44L173.45 75.23L173.51 76.01L173.57 76.77L173.64 77.52L173.70 78.25L173.76 78.96L173.82 79.65L173.89 80.31L173.95 80.94L174.01 81.55L174.07 82.12L174.14 82.67L174.20 83.17L174.26 83.64L174.32 84.08L174.39 84.47L174.45 84.83L174.51 85.14L174.57 85.41L174.64 85.63L174.70 85.82L174.76 85.95L174.82 86.05L174.89 86.09L174.95 86.09L175.01 86.05L175.07 85.96L175.14 85.82L175.20 85.64L175.26 85.41L175.32 85.15L175.39 84.83L175.45 84.48L175.51 84.08L175.57 83.65L175.64 83.18L175.70 82.67L175.76 82.12L175.82 81.54L175.89 80.93L175.95 80.29L176.01 79.62L176.07 78.93L176.14 78.21L176.20 77.47L176.26 76.72L176.32 75.94L176.39 75.16L176.45 74.36L176.51 73.55L176.57 72.73L176.64 71.92L176.70 71.10L176.76 70.28L176.82 69.46L176.89 68.66L176.95 67.86L177.01 67.07L177.07 66.30L177.14 65.54L177.20 64.81L177.26 64.09L177.32 63.40L177.39 62.74L177.45 62.10L177.51 61.49L177.57 60.92L177.64 60.38L177.70 59.87L177.76 59.40L177.82 58.98L177.89 58.59L177.95 58.24L178.01 57.93L178.07 57.67L178.14 57.46L178.20 57.29L178.26 57.16L178.32 57.08L178.39 57.05L178.45 57.06L178.51 57.12L178.57 57.22L178.64 57.38L178.70 57.57L178.76 57.81L178.82 58.10L178.89 58.43L178.95 58.80L179.01 59.21L179.07 59.66L179.14 60.15L179.20 60.68L179.26 61.24L179.32 61.84L179.39 62.46L179.45 63.12L179.51 63.80L179.57 64.51L179.64 65.24L179.70 65.99L179.76 66.76L179.82 67.54L179.89 68.34L179.95 69.15L180.01 69.96L180.07 70.78L180.14 71.61L180.20 72.43L180.26 73.26L180.32 74.07L180.39 74.88L180.45 75.68L180.51 76.47L180.57 77.24L180.64 77.99L180.70 78.72L180.76 79.43L180.82 80.12L180.89 80.78L180.95 81.41L181.01 82.00L181.07 82.57L181.14 83.10L181.20 83.59L181.26 84.04L181.32 84.46L181.39 84.83L181.45 85.16L181.51 85.45L181.57 85.69L181.64 85.89L181.70 86.04L181.76 86.14L181.82 86.20L181.89 86.21L181.95 86.17L182.01 86.09L182.07 85.96L182.14 85.78L182.20 85.56L182.26 85.29L182.32 84.98L182.39 84.63L182.45 84.23L182.51 83.79L182.57 83.31L182.64 82.79L182.70 82.24L182.76 81.65L182.82 81.03L182.89 80.38L182.95 79.70L183.01 78.99L183.07 78.26L183.14 77.50L183.20 76.73L183.26 75.94L183.32 75.13L183.39 74.32L183.45 73.49L183.51 72.66L183.57 71.82L183.64 70.98L183.70 70.15L183.76 69.32L183.82 68.49L183.89 67.68L183.95 66.88L184.01 66.09L184.07 65.32L184.14 64.57L184.20 63.85L184.26 63.14L184.32 62.47L184.39 61.83L184.45 61.22L184.51 60.64L184.57 60.10L184.64 59.59L184.70 59.13L184.76 58.70L184.82 58.32L184.89 57.99L184.95 57.69L185.01 57.45L185.07 57.25L185.14 57.10L185.20 56.99L185.26 56.94L185.32 56.93L185.39 56.97L185.45 57.07L185.51 57.21L185.57 57.40L185.64 57.63L185.70 57.92L185.76 58.25L185.82 58.62L185.89 59.04L185.95 59.50L186.01 60.00L186.07 60.54L186.14 61.12L186.20 61.74L186.26 62.39L186.32 63.07L186.39 63.78L186.45 64.52L186.51 65.28L186.57 66.06L186.64 66.86L186.70 67.68L186.76 68.51L186.82 69.36L186.89 70.21L186.95 71.07L187.01 71.93L187.07 72.78L187.14 73.64L187.20 74.49L187.26 75.33L187.32 76.15L187.39 76.96L187.45 77.76L187.51 78.53L187.57 79.28L187.64 80.00L187.70 80.69L187.76 81.36L187.82 81.99L187.89 82.58L187.95 83.14L188.01 83.66L188.07 84.13L188.14 84.56L188.20 84.95L188.26 85.29L188.32 85.59L188.39 85.84L188.45 86.03L188.51 86.18L188.57 86.28L188.64 86.33L188.70 86.32L188.76 86.27L188.82 86.16L188.89 86.00L188.95 85.80L189.01 85.54L189.07 85.24L189.14 84.89L189.20 84.49L189.26 84.05L189.32 83.56L189.39 83.04L189.45 82.47L189.51 81.86L189.57 81.22L189.64 80.55L189.70 79.85L189.76 79.11L189.82 78.35L189.89 77.57L189.95 76.76L190.01 75.94L190.07 75.11L190.14 74.26L190.20 73.40L190.26 72.53L190.32 71.66L190.39 70.79L190.45 69.93L190.51 69.07L190.57 68.22L190.64 67.38L190.70 66.55L190.76 65.74L190.82 64.96L190.89 64.19L190.95 63.45L191.01 62.74L191.07 62.06L191.14 61.42L191.20 60.80L191.26 60.23L191.32 59.69L191.39 59.20L191.45 58.75L191.51 58.34L191.57 57.98L191.64 57.66L191.70 57.40L191.76 57.18L191.82 57.01L191.89 56.89L191.95 56.83L192.01 56.81L192.07 56.85L192.14 56.93L192.20 57.07L192.26 57.25L192.32 57.49L192.39 57.77L192.45 58.10L192.51 58.48L192.57 58.90L192.64 59.37L192.70 59.87L192.76 60.42L192.82 61.01L192.89 61.63L192.95 62.29L193.01 62.98L193.07 63.70L193.14 64.45L193.20 65.22L193.26 66.01L193.32 66.82L193.39 67.65L193.45 68.50L193.51 69.35L193.57 70.21L193.64 71.08L193.70 71.95L193.76 72.81L193.82 73.68L193.89 74.53L193.95 75.38L194.01 76.21L194.07 77.03L194.14 77.83L194.20 78.61L194.26 79.36L194.32 80.09L194.39 80.79L194.45 81.46L194.51 82.09L194.57 82.69L194.64 83.25L194.70 83.77L194.76 84.24L194.82 84.68L194.89 85.07L194.95 85.41L195.01 85.71L195.07 85.95L195.14 86.15L195.20 86.30L195.26 86.40L195.32 86.45L195.39 86.44L195.45 86.39L195.51 86.28L195.57 86.12L195.64 85.92L195.70 85.66L195.76 85.36L195.82 85.01L195.89 84.61L195.95 84.17L196.01 83.68L196.07 83.16L196.14 82.59L196.20 81.99L196.26 81.35L196.32 80.67L196.39 79.97L196.45 79.24L196.51 78.48L196.57 77.69L196.64 76.89L196.70 76.06L196.76 75.23L196.82 74.37L196.89 73.51L196.95 72.65L197.01 71.77L197.07 70.90L197.14 70.03L197.20 69.17L197.26 68.31L197.32 67.47L197.39 66.64L197.45 65.82L197.51 65.03L197.57 64.26L197.64 63.51L197.70 62.79L197.76 62.10L197.82 61.44L197.89 60.82L197.95 60.24L198.01 59.69L198.07 59.19L198.14 58.72L198.20 58.31L198.26 57.93L198.32 57.61L198.39 57.33L198.45 57.10L198.51 56.92L198.57 56.79L198.64 56.72L198.70 56.69L198.76 56.71L198.82 56.79L198.89 56.92L198.95 57.09L199.01 57.32L199.07 57.59L199.14 57.92L199.20 58.29L199.26 58.71L199.32 59.17L199.39 59.67L199.45 60.22L199.51 60.80L199.57 61.42L199.64 62.08L199.70 62.77L199.76 63.49L199.82 64.24L199.89 65.01L199.95 65.80L200.01 66.62L200.07 67.45L200.14 68.30L200.20 69.16L200.26 70.03L200.32 70.90L200.39 71.78L200.45 72.65L200.51 73.52L200.57 74.39L200.64 75.24L200.70 76.09L200.76 76.91L200.82 77.72L200.89 78.51L200.95 79.28L201.01 80.02L201.07 80.73L201.14 81.41L201.20 82.05L201.26 82.66L201.32 83.23L201.39 83.77L201.45 84.26L201.51 84.70L201.57 85.10L201.64 85.46L201.70 85.77L201.76 86.03L201.82 86.24L201.89 86.40L201.95 86.51L202.01 86.56L202.07 86.57L202.14 86.52L202.20 86.43L202.26 86.28L202.32 86.08L202.39 85.84L202.45 85.54L202.51 85.20L202.57 84.80L202.64 84.37L202.70 83.89L202.76 83.36L202.82 82.80L202.89 82.20L202.95 81.56L203.01 80.89L203.07 80.18L203.14 79.45L203.20 78.69L203.26 77.90L203.32 77.09L203.39 76.27L203.45 75.43L203.51 74.57L203.57 73.70L203.64 72.83L203.70 71.95L203.76 71.07L203.82 70.19L203.89 69.32L203.95 68.46L204.01 67.60L204.07 66.76L204.14 65.94L204.20 65.13L204.26 64.35L204.32 63.59L204.39 62.86L204.45 62.16L204.51 61.49L204.57 60.85L204.64 60.26L204.70 59.70L204.76 59.18L204.82 58.71L204.89 58.28L204.95 57.89L205.01 57.55L205.07 57.26L205.14 57.02L205.20 56.83L205.26 56.69L205.32 56.60L205.39 56.56L205.45 56.58L205.51 56.64L205.57 56.76L205.64 56.93L205.70 57.15L205.76 57.41L205.82 57.73L205.89 58.09L205.95 58.50L206.01 58.96L206.07 59.45L206.14 59.99L206.20 60.57L206.26 61.19L206.32 61.84L206.39 62.52L206.45 63.23L206.51 63.98L206.57 64.75L206.64 65.54L206.70 66.35L206.76 67.18L206.82 68.02L206.89 68.88L206.95 69.75L207.01 70.62L207.07 71.50L207.14 72.37L207.20 73.25L207.26 74.12L207.32 74.98L207.39 75.83L207.45 76.66L207.51 77.48L207.57 78.27L207.64 79.05L207.70 79.80L207.76 80.52L207.82 81.22L207.89 81.88L207.95 82.50L208.01 83.09L208.07 83.64L208.14 84.15L208.20 84.62L208.26 85.04L208.32 85.42L208.39 85.75L208.45 86.03L208.51 86.27L208.57 86.45L208.64 86.59L208.70 86.67L208.76 86.70L208.82 86.68L208.89 86.61L208.95 86.49L209.01 86.32L209.07 86.10L209.14 85.83L209.20 85.51L209.26 85.14L209.32 84.73L209.39 84.27L209.45 83.76L209.51 83.22L209.57 82.64L209.64 82.01L209.70 81.36L209.76 80.66L209.82 79.94L209.89 79.19L209.95 78.41L210.01 77.61L210.07 76.78L210.14 75.94L210.20 75.08L210.26 74.21L210.32 73.33L210.39 72.44L210.45 71.55L210.51 70.66L210.57 69.77L210.64 68.89L210.70 68.02L210.76 67.16L210.82 66.31L210.89 65.48L210.95 64.67L211.01 63.89L211.07 63.13L211.14 62.40L211.20 61.70L211.26 61.04L211.32 60.41L211.39 59.82L211.45 59.28L211.51 58.77L211.57 58.31L211.64 57.90L211.70 57.54L211.76 57.22L211.82 56.96L211.89 56.75L211.95 56.59L212.01 56.49L212.07 56.44L212.14 56.44L212.20 56.50L212.26 56.61L212.32 56.78L212.39 57.00L212.45 57.28L212.51 57.60L212.57 57.98L212.64 58.41L212.70 58.89L212.76 59.41L212.82 59.98L212.89 60.59L212.95 61.24L213.01 61.94L213.07 62.66L213.14 63.42L213.20 64.22L213.26 65.04L213.32 65.88L213.39 66.75L213.45 67.63L213.51 68.53L213.57 69.45L213.64 70.37L213.70 71.29L213.76 72.22L213.82 73.15L213.89 74.07L213.95 74.99L214.01 75.89L214.07 76.77L214.14 77.64L214.20 78.48L214.26 79.30L214.32 80.09L214.39 80.85L214.45 81.58L214.51 82.26L214.57 82.91L214.64 83.52L214.70 84.08L214.76 84.59L214.82 85.06L214.89 85.47L214.95 85.83L215.01 86.14L215.07 86.39L215.14 86.59L215.20 86.72L215.26 86.81L215.32 86.83L215.39 86.80L215.45 86.70L215.51 86.55L215.57 86.35L215.64 86.08L215.70 85.77L215.76 85.39L215.82 84.97L215.89 84.49L215.95 83.97L216.01 83.39L216.07 82.77L216.14 82.11L216.20 81.41L216.26 80.67L216.32 79.90L216.39 79.09L216.45 78.26L216.51 77.40L216.57 76.52L216.64 75.61L216.70 74.70L216.76 73.77L216.82 72.83L216.89 71.89L216.95 70.95L217.01 70.01L217.07 69.07L217.14 68.15L217.20 67.24L217.26 66.34L217.32 65.47L217.39 64.62L217.45 63.79L217.51 63.00L217.57 62.23L217.64 61.51L217.70 60.82L217.76 60.17L217.82 59.57L217.89 59.01L217.95 58.50L218.01 58.04L218.07 57.63L218.14 57.27L218.20 56.97L218.26 56.73L218.32 56.53L218.39 56.40L218.45 56.33L218.51 56.31L218.57 56.35L218.64 56.44L218.70 56.60L218.76 56.81L218.82 57.07L218.89 57.39L218.95 57.77L219.01 58.19L219.07 58.67L219.14 59.19L219.20 59.77L219.26 60.38L219.32 61.04L219.39 61.74L219.45 62.48L219.51 63.25L219.57 64.05L219.64 64.88L219.70 65.74L219.76 66.62L219.82 67.51L219.89 68.43L219.95 69.35L220.01 70.29L220.07 71.22L220.14 72.16L220.20 73.10L220.26 74.04L220.32 74.96L220.39 75.87L220.45 76.77L220.51 77.64L220.57 78.50L220.64 79.32L220.70 80.12L220.76 80.89L220.82 81.62L220.89 82.31L220.95 82.97L221.01 83.58L221.07 84.15L221.14 84.67L221.20 85.14L221.26 85.56L221.32 85.92L221.39 86.24L221.45 86.49L221.51 86.70L221.57 86.84L221.64 86.93L221.70 86.96L221.76 86.93L221.82 86.85L221.89 86.70L221.95 86.50L222.01 86.25L222.07 85.94L222.14 85.57L222.20 85.15L222.26 84.69L222.32 84.17L222.39 83.60L222.45 82.99L222.51 82.34L222.57 81.64L222.64 80.91L222.70 80.14L222.76 79.34L222.82 78.52L222.89 77.66L222.95 76.78L223.01 75.89L223.07 74.97L223.14 74.04L223.20 73.11L223.26 72.17L223.32 71.22L223.39 70.28L223.45 69.34L223.51 68.41L223.57 67.49L223.64 66.59L223.70 65.71L223.76 64.84L223.82 64.01L223.89 63.20L223.95 62.42L224.01 61.68L224.07 60.98L224.14 60.31L224.20 59.69L224.26 59.11L224.32 58.58L224.39 58.10L224.45 57.66L224.51 57.29L224.57 56.96L224.64 56.69L224.70 56.48L224.76 56.32L224.82 56.22L224.89 56.18L224.95 56.19L225.01 56.27L225.07 56.40L225.14 56.59L225.20 56.83L225.26 57.13L225.32 57.49L225.39 57.90L225.45 58.36L225.51 58.87L225.57 59.43L225.64 60.03L225.70 60.68L225.76 61.37L225.82 62.10L225.89 62.86L225.95 63.66L226.01 64.49L226.07 65.34L226.14 66.22L226.20 67.11L226.26 68.03L226.32 68.96L226.39 69.90L226.45 70.84L226.51 71.79L226.57 72.74L226.64 73.68L226.70 74.62L226.76 75.54L226.82 76.45L226.89 77.34L226.95 78.21L227.01 79.06L227.07 79.88L227.14 80.66L227.20 81.42L227.26 82.13L227.32 82.81L227.39 83.44L227.45 84.03L227.51 84.57L227.57 85.07L227.64 85.51L227.70 85.90L227.76 86.24L227.82 86.52L227.89 86.75L227.95 86.92L228.01 87.03L228.07 87.09L228.14 87.08L228.20 87.02L228.26 86.90L228.32 86.72L228.39 86.48L228.45 86.19L228.51 85.85L228.57 85.45L228.64 84.99L228.70 84.49L228.76 83.94L228.82 83.34L228.89 82.70L228.95 82.02L229.01 81.29L229.07 80.53L229.14 79.74L229.20 78.91L229.26 78.06L229.32 77.18L229.39 76.29L229.45 75.37L229.51 74.44L229.57 73.50L229.64 72.55L229.70 71.60L229.76 70.65L229.82 69.70L229.89 68.76L229.95 67.83L230.01 66.91L230.07 66.01L230.14 65.13L230.20 64.28L230.26 63.45L230.32 62.65L230.39 61.89L230.45 61.16L230.51 60.48L230.57 59.83L230.64 59.23L230.70 58.67L230.76 58.17L230.82 57.71L230.89 57.31L230.95 56.96L231.01 56.66L231.07 56.42L231.14 56.24L231.20 56.12L231.26 56.05L231.32 56.05L231.39 56.10L231.45 56.21L231.51 56.37L231.57 56.60L231.64 56.88L231.70 57.21L231.76 57.60L231.82 58.04L231.89 58.53L231.95 59.07L232.01 59.65L232.07 60.28L232.14 60.95L232.20 61.65L232.26 62.40L232.32 63.18L232.39 63.98L232.45 64.82L232.51 65.68L232.57 66.56L232.64 67.46L232.70 68.38L232.76 69.31L232.82 70.24L232.89 71.18L232.95 72.12L233.01 73.06L233.07 74.00L233.14 74.92L233.20 75.84L233.26 76.73L233.32 77.61L233.39 78.47L233.45 79.30L233.51 80.11L233.57 80.88L233.64 81.62L233.70 82.33L233.76 82.99L233.82 83.62L233.89 84.20L233.95 84.73L234.01 85.22L234.07 85.66L234.14 86.04L234.20 86.38L234.26 86.66L234.32 86.88L234.39 87.05L234.45 87.17L234.51 87.22L234.57 87.22L234.64 87.16L234.70 87.04L234.76 86.87L234.82 86.64L234.89 86.36L234.95 86.01L235.01 85.62L235.07 85.17L235.14 84.68L235.20 84.13L235.26 83.54L235.32 82.90L235.39 82.22L235.45 81.49L235.51 80.73L235.57 79.94L235.64 79.11L235.70 78.25L235.76 77.37L235.82 76.47L235.89 75.54L235.95 74.60L236.01 73.64L236.07 72.68L236.14 71.71L236.20 70.74L236.26 69.77L236.32 68.81L236.39 67.85L236.45 66.91L236.51 65.99L236.57 65.08L236.64 64.20L236.70 63.35L236.76 62.53L236.82 61.75L236.89 61.00L236.95 60.29L237.01 59.63L237.07 59.01L237.14 58.44L237.20 57.92L237.26 57.46L237.32 57.06L237.39 56.71L237.45 56.42L237.51 56.20L237.57 56.04L237.64 55.94L237.70 55.90L237.76 55.94" fill="none" stroke="#ff0000" stroke-width="0.95" stroke-linejoin="round"/>
<path d="M237.70 55.90L237.76 55.94L237.82 56.03L237.89 56.20L237.95 56.42L238.01 56.72L238.07 57.07L238.14 57.49L238.20 57.98L238.26 58.52L238.32 59.12L238.39 59.78L238.45 60.49L238.51 61.25L238.57 62.05L238.64 62.91L238.70 63.80L238.76 64.73L238.82 65.69L238.89 66.68L238.95 67.69L239.01 68.72L239.07 69.77L239.14 70.83L239.20 71.89L239.26 72.96L239.32 74.02L239.39 75.07L239.45 76.10L239.51 77.12L239.57 78.11L239.64 79.07L239.70 80.00L239.76 80.89L239.82 81.74L239.89 82.54L239.95 83.29L240.01 83.99L240.07 84.62L240.14 85.20L240.20 85.72L240.26 86.16L240.32 86.54L240.39 86.85L240.45 87.09L240.51 87.25L240.57 87.34L240.64 87.35L240.70 87.29L240.76 87.16L240.82 86.95L240.89 86.66L240.95 86.31L241.01 85.88L241.07 85.39L241.14 84.83L241.20 84.21L241.26 83.53L241.32 82.79L241.39 82.00L241.45 81.16L241.51 80.28L241.57 79.35L241.64 78.39L241.70 77.40L241.76 76.38L241.82 75.33L241.89 74.27L241.95 73.20L242.01 72.12L242.07 71.04L242.14 69.97L242.20 68.90L242.26 67.85L242.32 66.81L242.39 65.80L242.45 64.81L242.51 63.86L242.57 62.94L242.64 62.07L242.70 61.24L242.76 60.46L242.82 59.73L242.89 59.05L242.95 58.43L243.01 57.88L243.07 57.38L243.14 56.95L243.20 56.59L243.26 56.29L243.32 56.06L243.39 55.90L243.45 55.81L243.51 55.79L243.57 55.83L243.64 55.95L243.70 56.13L243.76 56.38L243.82 56.69L243.89 57.07L243.95 57.51L244.01 58.01L244.07 58.56L244.14 59.17L244.20 59.83L244.26 60.54L244.32 61.29L244.39 62.09L244.45 62.92L244.51 63.79L244.57 64.69L244.64 65.62L244.70 66.57L244.76 67.55L244.82 68.53L244.89 69.53L244.95 70.54L245.01 71.55L245.07 72.56L245.14 73.57L245.20 74.56L245.26 75.55L245.32 76.52L245.39 77.46L245.45 78.39L245.51 79.28L245.57 80.15L245.64 80.98L245.70 81.77L245.76 82.52L245.82 83.23L245.89 83.89L245.95 84.50L246.01 85.06L246.07 85.56L246.14 86.01L246.20 86.41L246.26 86.74L246.32 87.01L246.39 87.22L246.45 87.37L246.51 87.45L246.57 87.48L246.64 87.43L246.70 87.33L246.76 87.16L246.82 86.93L246.89 86.64L246.95 86.28L247.01 85.87L247.07 85.40L247.14 84.88L247.20 84.30L247.26 83.66L247.32 82.98L247.39 82.26L247.45 81.48L247.51 80.67L247.57 79.82L247.64 78.94L247.70 78.02L247.76 77.08L247.82 76.11L247.89 75.13L247.95 74.13L248.01 73.11L248.07 72.09L248.14 71.07L248.20 70.04L248.26 69.02L248.32 68.01L248.39 67.02L248.45 66.04L248.51 65.08L248.57 64.15L248.64 63.25L248.70 62.38L248.76 61.55L248.82 60.77L248.89 60.02L248.95 59.33L249.01 58.69L249.07 58.10L249.14 57.57L249.20 57.10L249.26 56.69L249.32 56.35L249.39 56.08L249.45 55.87L249.51 55.73L249.57 55.67L249.64 55.68L249.70 55.75L249.76 55.90L249.82 56.13L249.89 56.42L249.95 56.78L250.01 57.21L250.07 57.71L250.14 58.28L250.20 58.91L250.26 59.60L250.32 60.34L250.39 61.14L250.45 62.00L250.51 62.89L250.57 63.83L250.64 64.81L250.70 65.83L250.76 66.87L250.82 67.93L250.89 69.02L250.95 70.12L251.01 71.23L251.07 72.34L251.14 73.45L251.20 74.55L251.26 75.64L251.32 76.71L251.39 77.76L251.45 78.77L251.51 79.76L251.57 80.70L251.64 81.60L251.70 82.45L251.76 83.25L251.82 83.99L251.89 84.67L251.95 85.29L252.01 85.84L252.07 86.32L252.14 86.72L252.20 87.05L252.26 87.31L252.32 87.48L252.39 87.58L252.45 87.59L252.51 87.52L252.57 87.38L252.64 87.15L252.70 86.85L252.76 86.47L252.82 86.01L252.89 85.48L252.95 84.89L253.01 84.22L253.07 83.49L253.14 82.70L253.20 81.85L253.26 80.95L253.32 80.01L253.39 79.02L253.45 77.99L253.51 76.93L253.57 75.85L253.64 74.74L253.70 73.61L253.76 72.48L253.82 71.34L253.89 70.21L253.95 69.08L254.01 67.96L254.07 66.86L254.14 65.79L254.20 64.75L254.26 63.74L254.32 62.77L254.39 61.84L254.45 60.96L254.51 60.14L254.57 59.38L254.64 58.67L254.70 58.03L254.76 57.46L254.82 56.96L254.89 56.54L254.95 56.18L255.01 55.91L255.07 55.71L255.14 55.59L255.20 55.55L255.26 55.59L255.32 55.70L255.39 55.90L255.45 56.17L255.51 56.52L255.57 56.94L255.64 57.43L255.70 58.00L255.76 58.63L255.82 59.32L255.89 60.07L255.95 60.88L256.01 61.75L256.07 62.66L256.14 63.61L256.20 64.61L256.26 65.63L256.32 66.69L256.39 67.77L256.45 68.87L256.51 69.99L256.57 71.11L256.64 72.23L256.70 73.35L256.76 74.47L256.82 75.56L256.89 76.64L256.95 77.70L257.01 78.73L257.07 79.72L257.14 80.67L257.20 81.57L257.26 82.43L257.32 83.24L257.39 83.99L257.45 84.68L257.51 85.30L257.57 85.86L257.64 86.35L257.70 86.77L257.76 87.11L257.82 87.38L257.89 87.56L257.95 87.68L258.01 87.71L258.07 87.66L258.14 87.54L258.20 87.34L258.26 87.06L258.32 86.70L258.39 86.27L258.45 85.77L258.51 85.20L258.57 84.56L258.64 83.86L258.70 83.10L258.76 82.28L258.82 81.41L258.89 80.49L258.95 79.52L259.01 78.52L259.07 77.48L259.14 76.41L259.20 75.32L259.26 74.21L259.32 73.09L259.39 71.96L259.45 70.82L259.51 69.69L259.57 68.57L259.64 67.46L259.70 66.38L259.76 65.32L259.82 64.28L259.89 63.29L259.95 62.34L260.01 61.43L260.07 60.57L260.14 59.76L260.20 59.02L260.26 58.33L260.32 57.71L260.39 57.16L260.45 56.69L260.51 56.28L260.57 55.96L260.64 55.71L260.70 55.54L260.76 55.44L260.82 55.44L260.89 55.51L260.95 55.66L261.01 55.89L261.07 56.20L261.14 56.59L261.20 57.05L261.26 57.59L261.32 58.20L261.39 58.87L261.45 59.61L261.51 60.41L261.57 61.27L261.64 62.18L261.70 63.13L261.76 64.13L261.82 65.17L261.89 66.24L261.95 67.34L262.01 68.46L262.07 69.59L262.14 70.74L262.20 71.89L262.26 73.04L262.32 74.18L262.39 75.31L262.45 76.42L262.51 77.51L262.57 78.57L262.64 79.59L262.70 80.58L262.76 81.52L262.82 82.41L262.89 83.24L262.95 84.02L263.01 84.73L263.07 85.37L263.14 85.95L263.20 86.46L263.26 86.88L263.32 87.23L263.39 87.51L263.45 87.70L263.51 87.81L263.57 87.83L263.64 87.78L263.70 87.64L263.76 87.42L263.82 87.11L263.89 86.73L263.95 86.28L264.01 85.74L264.07 85.14L264.14 84.46L264.20 83.72L264.26 82.91L264.32 82.05L264.39 81.14L264.45 80.17L264.51 79.16L264.57 78.11L264.64 77.03L264.70 75.92L264.76 74.79L264.82 73.64L264.89 72.47L264.95 71.31L265.01 70.14L265.07 68.99L265.14 67.84L265.20 66.71L265.26 65.61L265.32 64.54L265.39 63.51L265.45 62.51L265.51 61.57L265.57 60.67L265.64 59.83L265.70 59.05L265.76 58.34L265.82 57.69L265.89 57.12L265.95 56.62L266.01 56.19L266.07 55.85L266.14 55.59L266.20 55.41L266.26 55.32L266.32 55.31L266.39 55.38L266.45 55.54L266.51 55.78L266.57 56.11L266.64 56.51L266.70 57.00L266.76 57.56L266.82 58.20L266.89 58.90L266.95 59.67L267.01 60.51L267.07 61.40L267.14 62.35L267.20 63.35L267.26 64.39L267.32 65.46L267.39 66.58L267.45 67.71L267.51 68.87L267.57 70.05L267.64 71.23L267.70 72.42L267.76 73.60L267.82 74.77L267.89 75.93L267.95 77.06L268.01 78.16L268.07 79.23L268.14 80.26L268.20 81.25L268.26 82.18L268.32 83.06L268.39 83.88L268.45 84.64L268.51 85.32L268.57 85.93L268.64 86.47L268.70 86.93L268.76 87.31L268.82 87.60L268.89 87.81L268.95 87.93L269.01 87.97L269.07 87.92L269.14 87.78L269.20 87.56L269.26 87.25L269.32 86.86L269.39 86.38L269.45 85.83L269.51 85.21L269.57 84.51L269.64 83.74L269.70 82.90L269.76 82.01L269.82 81.06L269.89 80.06L269.95 79.02L270.01 77.93L270.07 76.81L270.14 75.67L270.20 74.50L270.26 73.32L270.32 72.12L270.39 70.93L270.45 69.73L270.51 68.55L270.57 67.38L270.64 66.24L270.70 65.12L270.76 64.04L270.82 63.00L270.89 62.00L270.95 61.06L271.01 60.17L271.07 59.34L271.14 58.57L271.20 57.88L271.26 57.26L271.32 56.71L271.39 56.24L271.45 55.86L271.51 55.55L271.57 55.34L271.64 55.20L271.70 55.16L271.76 55.20L271.82 55.33L271.89 55.54L271.95 55.84L272.01 56.22L272.07 56.69L272.14 57.23L272.20 57.85L272.26 58.54L272.32 59.30L272.39 60.12L272.45 61.01L272.51 61.95L272.57 62.94L272.64 63.97L272.70 65.05L272.76 66.16L272.82 67.30L272.89 68.47L272.95 69.65L273.01 70.84L273.07 72.03L273.14 73.22L273.20 74.41L273.26 75.58L273.32 76.73L273.39 77.85L273.45 78.94L273.51 79.99L273.57 81.00L273.64 81.96L273.70 82.86L273.76 83.71L273.82 84.49L273.89 85.20L273.95 85.84L274.01 86.41L274.07 86.90L274.14 87.31L274.20 87.64L274.26 87.88L274.32 88.04L274.39 88.11L274.45 88.10L274.51 88.00L274.57 87.81L274.64 87.53L274.70 87.18L274.76 86.74L274.82 86.22L274.89 85.62L274.95 84.95L275.01 84.20L275.07 83.40L275.14 82.52L275.20 81.59L275.26 80.61L275.32 79.58L275.39 78.51L275.45 77.40L275.51 76.25L275.57 75.09L275.64 73.90L275.70 72.70L275.76 71.50L275.82 70.29L275.89 69.09L275.95 67.91L276.01 66.74L276.07 65.60L276.14 64.48L276.20 63.41L276.26 62.38L276.32 61.40L276.39 60.47L276.45 59.60L276.51 58.80L276.57 58.06L276.64 57.39L276.70 56.80L276.76 56.29L276.82 55.86L276.89 55.52L276.95 55.26L277.01 55.09L277.07 55.01L277.14 55.01L277.20 55.11L277.26 55.29L277.32 55.57L277.39 55.93L277.45 56.37L277.51 56.89L277.57 57.50L277.64 58.18L277.70 58.93L277.76 59.75L277.82 60.63L277.89 61.58L277.95 62.57L278.01 63.62L278.07 64.71L278.14 65.83L278.20 66.99L278.26 68.17L278.32 69.37L278.39 70.59L278.45 71.81L278.51 73.03L278.57 74.24L278.64 75.43L278.70 76.61L278.76 77.76L278.82 78.88L278.89 79.96L278.95 81.00L279.01 81.98L279.07 82.91L279.14 83.78L279.20 84.58L279.26 85.32L279.32 85.98L279.39 86.56L279.45 87.06L279.51 87.48L279.57 87.82L279.64 88.06L279.70 88.22L279.76 88.29L279.82 88.26L279.89 88.15L279.95 87.94L280.01 87.65L280.07 87.27L280.14 86.80L280.20 86.25L280.26 85.62L280.32 84.91L280.39 84.12L280.45 83.27L280.51 82.35L280.57 81.38L280.64 80.34L280.70 79.26L280.76 78.14L280.82 76.97L280.89 75.78L280.95 74.56L281.01 73.33L281.07 72.08L281.14 70.83L281.20 69.58L281.26 68.34L281.32 67.12L281.39 65.93L281.45 64.76L281.51 63.63L281.57 62.55L281.64 61.51L281.70 60.53L281.76 59.61L281.82 58.76L281.89 57.98L281.95 57.28L282.01 56.66L282.07 56.12L282.14 55.68L282.20 55.32L282.26 55.06L282.32 54.89L282.39 54.82L282.45 54.85L282.51 54.97L282.57 55.19L282.64 55.51L282.70 55.93L282.76 56.43L282.82 57.03L282.89 57.72L282.95 58.49L283.01 59.33L283.07 60.26L283.14 61.25L283.20 62.30L283.26 63.42L283.32 64.58L283.39 65.79L283.45 67.03L283.51 68.30L283.57 69.60L283.64 70.91L283.70 72.22L283.76 73.54L283.82 74.84L283.89 76.12L283.95 77.38L284.01 78.60L284.07 79.78L284.14 80.91L284.20 81.99L284.26 83.00L284.32 83.94L284.39 84.81L284.45 85.60L284.51 86.30L284.57 86.90L284.64 87.42L284.70 87.83L284.76 88.15L284.82 88.36L284.89 88.46L284.95 88.46L285.01 88.36L285.07 88.15L285.14 87.84L285.20 87.42L285.26 86.91L285.32 86.30L285.39 85.59L285.45 84.80L285.51 83.92L285.57 82.97L285.64 81.95L285.70 80.86L285.76 79.71L285.82 78.51L285.89 77.26L285.95 75.98L286.01 74.68L286.07 73.35L286.14 72.01L286.20 70.67L286.26 69.34L286.32 68.01L286.39 66.72L286.45 65.45L286.51 64.22L286.57 63.04L286.64 61.91L286.70 60.84L286.76 59.83L286.82 58.91L286.89 58.06L286.95 57.29L287.01 56.62L287.07 56.04L287.14 55.55L287.20 55.17L287.26 54.88L287.32 54.70L287.39 54.63L287.45 54.65L287.51 54.79L287.57 55.02L287.64 55.36L287.70 55.80L287.76 56.34L287.82 56.97L287.89 57.69L287.95 58.49L288.01 59.38L288.07 60.34L288.14 61.37L288.20 62.47L288.26 63.62L288.32 64.81L288.39 66.06L288.45 67.33L288.51 68.63L288.57 69.95L288.64 71.28L288.70 72.62L288.76 73.94L288.82 75.26L288.89 76.55L288.95 77.81L289.01 79.03L289.07 80.21L289.14 81.33L289.20 82.40L289.26 83.40L289.32 84.33L289.39 85.18L289.45 85.95L289.51 86.63L289.57 87.22L289.64 87.71L289.70 88.11L289.76 88.40L289.82 88.59L289.89 88.68L289.95 88.66L290.01 88.54L290.07 88.31L290.14 87.98L290.20 87.55L290.26 87.02L290.32 86.40L290.39 85.69L290.45 84.88L290.51 84.00L290.57 83.04L290.64 82.01L290.70 80.91L290.76 79.76L290.82 78.55L290.89 77.30L290.95 76.01L291.01 74.70L291.07 73.37L291.14 72.02L291.20 70.67L291.26 69.33L291.32 68.00L291.39 66.69L291.45 65.41L291.51 64.17L291.57 62.97L291.64 61.83L291.70 60.74L291.76 59.73L291.82 58.78L291.89 57.92L291.95 57.14L292.01 56.45L292.07 55.85L292.14 55.36L292.20 54.96L292.26 54.67L292.32 54.48L292.39 54.40L292.45 54.43L292.51 54.57L292.57 54.81L292.64 55.16L292.70 55.62L292.76 56.17L292.82 56.82L292.89 57.56L292.95 58.40L293.01 59.31L293.07 60.30L293.14 61.36L293.20 62.49L293.26 63.68L293.32 64.91L293.39 66.19L293.45 67.50L293.51 68.84L293.57 70.19L293.64 71.56L293.70 72.92L293.76 74.28L293.82 75.63L293.89 76.94L293.95 78.23L294.01 79.47L294.07 80.67L294.14 81.81L294.20 82.89L294.26 83.89L294.32 84.82L294.39 85.67L294.45 86.43L294.51 87.10L294.57 87.67L294.64 88.13L294.70 88.50L294.76 88.75L294.82 88.90L294.89 88.94L294.95 88.87L295.01 88.69L295.07 88.40L295.14 88.00L295.20 87.50L295.26 86.89L295.32 86.19L295.39 85.39L295.45 84.50L295.51 83.53L295.57 82.48L295.64 81.36L295.70 80.17L295.76 78.93L295.82 77.64L295.89 76.30L295.95 74.94L296.01 73.55L296.07 72.14L296.14 70.73L296.20 69.33L296.26 67.93L296.32 66.56L296.39 65.22L296.45 63.92L296.51 62.67L296.57 61.47L296.64 60.34L296.70 59.29L296.76 58.31L296.82 57.42L296.89 56.63L296.95 55.93L297.01 55.34L297.07 54.86L297.14 54.49L297.20 54.23L297.26 54.10L297.32 54.08L297.39 54.18L297.45 54.41L297.51 54.75L297.57 55.21L297.64 55.78L297.70 56.47L297.76 57.26L297.82 58.16L297.89 59.15L297.95 60.23L298.01 61.39L298.07 62.63L298.14 63.93L298.20 65.29L298.26 66.70L298.32 68.15L298.39 69.62L298.45 71.11L298.51 72.61L298.57 74.10L298.64 75.58L298.70 77.03L298.76 78.44L298.82 79.80L298.89 81.11L298.95 82.35L299.01 83.51L299.07 84.59L299.14 85.57L299.20 86.46L299.26 87.23L299.32 87.89L299.39 88.43L299.45 88.85L299.51 89.14L299.57 89.30L299.64 89.33L299.70 89.23L299.76 89.00L299.82 88.64L299.89 88.15L299.95 87.54L300.01 86.81L300.07 85.97L300.14 85.01L300.20 83.96L300.26 82.82L300.32 81.59L300.39 80.29L300.45 78.92L300.51 77.49L300.57 76.02L300.64 74.52L300.70 72.99L300.76 71.46L300.82 69.92L300.89 68.40L300.95 66.89L301.01 65.43L301.07 64.00L301.14 62.64L301.20 61.34L301.26 60.11L301.32 58.97L301.39 57.92L301.45 56.98L301.51 56.14L301.57 55.41L301.64 54.80L301.70 54.32L301.76 53.96L301.82 53.73L301.89 53.63L301.95 53.67L302.01 53.83L302.07 54.12L302.14 54.54L302.20 55.08L302.26 55.75L302.32 56.52L302.39 57.41L302.45 58.40L302.51 59.49L302.57 60.66L302.64 61.91L302.70 63.24L302.76 64.62L302.82 66.06L302.89 67.53L302.95 69.04L303.01 70.56L303.07 72.09L303.14 73.62L303.20 75.14L303.26 76.63L303.32 78.09L303.39 79.50L303.45 80.86L303.51 82.15L303.57 83.37L303.64 84.50L303.70 85.54L303.76 86.48L303.82 87.32L303.89 88.04L303.95 88.65L304.01 89.13L304.07 89.49L304.14 89.72L304.20 89.82L304.26 89.79L304.32 89.63L304.39 89.34L304.45 88.92L304.51 88.37L304.57 87.70L304.64 86.91L304.70 86.02L304.76 85.01L304.82 83.91L304.89 82.72L304.95 81.44L305.01 80.09L305.07 78.68L305.14 77.21L305.20 75.70L305.26 74.16L305.32 72.59L305.39 71.02L305.45 69.45L305.51 67.89L305.57 66.35L305.64 64.86L305.70 63.41L305.76 62.02L305.82 60.69L305.89 59.45L305.95 58.29L306.01 57.24L306.07 56.28L306.14 55.45L306.20 54.73L306.26 54.13L306.32 53.67L306.39 53.34L306.45 53.15L306.51 53.10L306.57 53.19L306.64 53.43L306.70 53.80L306.76 54.31L306.82 54.95L306.89 55.73L306.95 56.63L307.01 57.65L307.07 58.78L307.14 60.01L307.20 61.33L307.26 62.74L307.32 64.22L307.39 65.77L307.45 67.36L307.51 68.98L307.57 70.63L307.64 72.30L307.70 73.95L307.76 75.60L307.82 77.21L307.89 78.78L307.95 80.30L308.01 81.74L308.07 83.11L308.14 84.39L308.20 85.57L308.26 86.63L308.32 87.58L308.39 88.40L308.45 89.08L308.51 89.62L308.57 90.02L308.64 90.27L308.70 90.37L308.76 90.31L308.82 90.11L308.89 89.75L308.95 89.25L309.01 88.60L309.07 87.82L309.14 86.90L309.20 85.86L309.26 84.70L309.32 83.44L309.39 82.08L309.45 80.63L309.51 79.11L309.57 77.53L309.64 75.90L309.70 74.24L309.76 72.55L309.82 70.86L309.89 69.17L309.95 67.50L310.01 65.86L310.07 64.27L310.14 62.74L310.20 61.27L310.26 59.89L310.32 58.61L310.39 57.42L310.45 56.35L310.51 55.40L310.57 54.58L310.64 53.89L310.70 53.34L310.76 52.94L310.82 52.68L310.89 52.56L310.95 52.60L311.01 52.79L311.07 53.11L311.14 53.59L311.20 54.20L311.26 54.94L311.32 55.81L311.39 56.80L311.45 57.90L311.51 59.11L311.57 60.41L311.64 61.80L311.70 63.26L311.76 64.78L311.82 66.35L311.89 67.97L311.95 69.61L312.01 71.26L312.07 72.92L312.14 74.57L312.20 76.20L312.26 77.79L312.32 79.34L312.39 80.83L312.45 82.25L312.51 83.60L312.57 84.86L312.64 86.02L312.70 87.07L312.76 88.01L312.82 88.83L312.89 89.52L312.95 90.08L313.01 90.50L313.07 90.78L313.14 90.92L313.20 90.92L313.26 90.77L313.32 90.48L313.39 90.05L313.45 89.48L313.51 88.78L313.57 87.94L313.64 86.98L313.70 85.91L313.76 84.73L313.82 83.44L313.89 82.06L313.95 80.60L314.01 79.07L314.07 77.48L314.14 75.85L314.20 74.17L314.26 72.48L314.32 70.77L314.39 69.07L314.45 67.38L314.51 65.72L314.57 64.10L314.64 62.53L314.70 61.03L314.76 59.62L314.82 58.29L314.89 57.06L314.95 55.94L315.01 54.95L315.07 54.08L315.14 53.35L315.20 52.77L315.26 52.34L315.32 52.06L315.39 51.94L315.45 51.97L315.51 52.17L315.57 52.53L315.64 53.05L315.70 53.72L315.76 54.54L315.82 55.50L315.89 56.60L315.95 57.83L316.01 59.17L316.07 60.62L316.14 62.17L316.20 63.80L316.26 65.49L316.32 67.25L316.39 69.04L316.45 70.86L316.51 72.69L316.57 74.51L316.64 76.31L316.70 78.08L316.76 79.79L316.82 81.44L316.89 83.01L316.95 84.48L317.01 85.84L317.07 87.08L317.14 88.19L317.20 89.16L317.26 89.97L317.32 90.63L317.39 91.12L317.45 91.45L317.51 91.60L317.57 91.57L317.64 91.37L317.70 90.99L317.76 90.44L317.82 89.73L317.89 88.85L317.95 87.81L318.01 86.63L318.07 85.32L318.14 83.88L318.20 82.33L318.26 80.68L318.32 78.94L318.39 77.14L318.45 75.28L318.51 73.39L318.57 71.47L318.64 69.56L318.70 67.66L318.76 65.79L318.82 63.98L318.89 62.23L318.95 60.56L319.01 58.99L319.07 57.53L319.14 56.19L319.20 55.00L319.26 53.95L319.32 53.07L319.39 52.35L319.45 51.81L319.51 51.44L319.57 51.27L319.64 51.27L319.70 51.47L319.76 51.85L319.82 52.41L319.89 53.16L319.95 54.07L320.01 55.15L320.07 56.39L320.14 57.77L320.20 59.28L320.26 60.91L320.32 62.65L320.39 64.47L320.45 66.36L320.51 68.31L320.57 70.29L320.64 72.28L320.70 74.28L320.76 76.25L320.82 78.18L320.89 80.06L320.95 81.85L321.01 83.55L321.07 85.14L321.14 86.60L321.20 87.92L321.26 89.09L321.32 90.09L321.39 90.91L321.45 91.55L321.51 92.00L321.57 92.25L321.64 92.30L321.70 92.15L321.76 91.80L321.82 91.25L321.89 90.51L321.95 89.58L322.01 88.48L322.07 87.21L322.14 85.79L322.20 84.23L322.26 82.54L322.32 80.74L322.39 78.85L322.45 76.88L322.51 74.86L322.57 72.81L322.64 70.74L322.70 68.68L322.76 66.64L322.82 64.65L322.89 62.72L322.95 60.88L323.01 59.15L323.07 57.53L323.14 56.05L323.20 54.72L323.26 53.56L323.32 52.57L323.39 51.77L323.45 51.17L323.51 50.77L323.57 50.57L323.64 50.58L323.70 50.80L323.76 51.22L323.82 51.84L323.89 52.66L323.95 53.67L324.01 54.85L324.07 56.20L324.14 57.70L324.20 59.34L324.26 61.10L324.32 62.97L324.39 64.92L324.45 66.94L324.51 69.01L324.57 71.11L324.64 73.21L324.70 75.31L324.76 77.36L324.82 79.37L324.89 81.30L324.95 83.13L325.01 84.86L325.07 86.46L325.14 87.91L325.20 89.20L325.26 90.33L325.32 91.26L325.39 92.01L325.45 92.55L325.51 92.88L325.57 93.00L325.64 92.91L325.70 92.60L325.76 92.09L325.82 91.36L325.89 90.44L325.95 89.32L326.01 88.02L326.07 86.55L326.14 84.92L326.20 83.16L326.26 81.27L326.32 79.28L326.39 77.21L326.45 75.07L326.51 72.89L326.57 70.69L326.64 68.50L326.70 66.33L326.76 64.22L326.82 62.17L326.89 60.22L326.95 58.38L327.01 56.68L327.07 55.13L327.14 53.76L327.20 52.57L327.26 51.58L327.32 50.81L327.39 50.26L327.45 49.94L327.51 49.86L327.57 50.02L327.64 50.41L327.70 51.05L327.76 51.91L327.82 53.00L327.89 54.30L327.95 55.81L328.01 57.50L328.07 59.35L328.14 61.36L328.20 63.48L328.26 65.71L328.32 68.01L328.39 70.36L328.45 72.73L328.51 75.10L328.57 77.43L328.64 79.69L328.70 81.87L328.76 83.93L328.82 85.84L328.89 87.59L328.95 89.15L329.01 90.51L329.07 91.64L329.14 92.53L329.20 93.17L329.26 93.54L329.32 93.66L329.39 93.50L329.45 93.08L329.51 92.40L329.57 91.46L329.64 90.28L329.70 88.87L329.76 87.25L329.82 85.43L329.89 83.44L329.95 81.31L330.01 79.06L330.07 76.71L330.14 74.30L330.20 71.86L330.26 69.41L330.32 66.98L330.39 64.62L330.45 62.33L330.51 60.16L330.57 58.12L330.64 56.25L330.70 54.56L330.76 53.08L330.82 51.82L330.89 50.80L330.95 50.02L331.01 49.51L331.07 49.26L331.14 49.27L331.20 49.55L331.26 50.10L331.32 50.89L331.39 51.94L331.45 53.22L331.51 54.71L331.57 56.41L331.64 58.29L331.70 60.32L331.76 62.49L331.82 64.77L331.89 67.13L331.95 69.55L332.01 72.00L332.07 74.44L332.14 76.85L332.20 79.20L332.26 81.46L332.32 83.61L332.39 85.62L332.45 87.47L332.51 89.13L332.57 90.59L332.64 91.82L332.70 92.82L332.76 93.57L332.82 94.06L332.89 94.29L332.95 94.25L333.01 93.94L333.07 93.37L333.14 92.54L333.20 91.46L333.26 90.14L333.32 88.60L333.39 86.86L333.45 84.93L333.51 82.84L333.57 80.62L333.64 78.28L333.70 75.86L333.76 73.39L333.82 70.88L333.89 68.39L333.95 65.93L334.01 63.53L334.07 61.22L334.14 59.03L334.20 56.99L334.26 55.13L334.32 53.46L334.39 52.00L334.45 50.78L334.51 49.81L334.57 49.10L334.64 48.67L334.70 48.51L334.76 48.64L334.82 49.05L334.89 49.73L334.95 50.68L335.01 51.88L335.07 53.33L335.14 55.00L335.20 56.87L335.26 58.93L335.32 61.14L335.39 63.48L335.45 65.92L335.51 68.44L335.57 71.00L335.64 73.57L335.70 76.12L335.76 78.62L335.82 81.04L335.89 83.35L335.95 85.52L336.01 87.52L336.07 89.34L336.14 90.94L336.20 92.30L336.26 93.42L336.32 94.27L336.39 94.84L336.45 95.12L336.51 95.12L336.57 94.82L336.64 94.23L336.70 93.36L336.76 92.21L336.82 90.80L336.89 89.15L336.95 87.27L337.01 85.18L337.07 82.92L337.14 80.50L337.20 77.96L337.26 75.34L337.32 72.65L337.39 69.95L337.45 67.25L337.51 64.61L337.57 62.04L337.64 59.60L337.70 57.30L337.76 55.18L337.82 53.28L337.89 51.61L337.95 50.20L338.01 49.08L338.07 48.26L338.14 47.76L338.20 47.57L338.26 47.73L338.32 48.21L338.39 49.02L338.45 50.14L338.51 51.58L338.57 53.30L338.64 55.29L338.70 57.51L338.76 59.95L338.82 62.56L338.89 65.31L338.95 68.16L339.01 71.07L339.07 73.99L339.14 76.89L339.20 79.72L339.26 82.44L339.32 85.01L339.39 87.38L339.45 89.53L339.51 91.41L339.57 93.00L339.64 94.27L339.70 95.20L339.76 95.78L339.82 95.99L339.89 95.84L339.95 95.31L340.01 94.41L340.07 93.17L340.14 91.59L340.20 89.70L340.26 87.52L340.32 85.10L340.39 82.46L340.45 79.65L340.51 76.70L340.57 73.67L340.64 70.60L340.70 67.54L340.76 64.54L340.82 61.64L340.89 58.90L340.95 56.34L341.01 54.03L341.07 51.98L341.14 50.24L341.20 48.83L341.26 47.78L341.32 47.10L341.39 46.81L341.45 46.91L341.51 47.40L341.57 48.27L341.64 49.52L341.70 51.11L341.76 53.04L341.82 55.27L341.89 57.77L341.95 60.50L342.01 63.41L342.07 66.47L342.14 69.61L342.20 72.80L342.26 75.98L342.32 79.09L342.39 82.10L342.45 84.94L342.51 87.58L342.57 89.96L342.64 92.05L342.70 93.81L342.76 95.21L342.82 96.23L342.89 96.84L342.95 97.04L343.01 96.82L343.07 96.17L343.14 95.12L343.20 93.67L343.26 91.84L343.32 89.67L343.39 87.19L343.45 84.44L343.51 81.46L343.57 78.31L343.64 75.03L343.70 71.69L343.76 68.33L343.82 65.02L343.89 61.81L343.95 58.75L344.01 55.91L344.07 53.33L344.14 51.06L344.20 49.13L344.26 47.59L344.32 46.46L344.39 45.77L344.45 45.52L344.51 45.73L344.57 46.38L344.64 47.48L344.70 48.99L344.76 50.89L344.82 53.15L344.89 55.73L344.95 58.58L345.01 61.66L345.07 64.92L345.14 68.29L345.20 71.73L345.26 75.17L345.32 78.55L345.39 81.82L345.45 84.93L345.51 87.80L345.57 90.41L345.64 92.69L345.70 94.61L345.76 96.14L345.82 97.24L345.89 97.88L345.95 98.07L346.01 97.78L346.07 97.02L346.14 95.79L346.20 94.13L346.26 92.04L346.32 89.57L346.39 86.76L346.45 83.64L346.51 80.29L346.57 76.75L346.64 73.10L346.70 69.39L346.76 65.71L346.82 62.12L346.89 58.70L346.95 55.51L347.01 52.63L347.07 50.11L347.14 48.02L347.20 46.41L347.26 45.32L347.32 44.78L347.39 44.81L347.45 45.43L347.51 46.65L347.57 48.44L347.64 50.79L347.70 53.65L347.76 56.96L347.82 60.66L347.89 64.65L347.95 68.86L348.01 73.16L348.07 77.46L348.14 81.65L348.20 85.60L348.26 89.22L348.32 92.40L348.39 95.05L348.45 97.10L348.51 98.47L348.57 99.14L348.64 99.07L348.70 98.26L348.76 96.72L348.82 94.50L348.89 91.64L348.95 88.24L349.01 84.37L349.07 80.15L349.14 75.69L349.20 71.11L349.26 66.53L349.32 62.09L349.39 57.89L349.45 54.05L349.51 50.68L349.57 47.85L349.64 45.65L349.70 44.11L349.76 43.28L349.82 43.16L349.89 43.75L349.95 45.04L350.01 46.97L350.07 49.50L350.14 52.56L350.20 56.07L350.26 59.95L350.32 64.11L350.39 68.45L350.45 72.86L350.51 77.25L350.57 81.52L350.64 85.57L350.70 89.30L350.76 92.63L350.82 95.48L350.89 97.79L350.95 99.50L351.01 100.57L351.07 100.96L351.14 100.67L351.20 99.68L351.26 98.03L351.32 95.73L351.39 92.83L351.45 89.40L351.51 85.51L351.57 81.24L351.64 76.69L351.70 71.97L351.76 67.20L351.82 62.50L351.89 57.99L351.95 53.79L352.01 50.03L352.07 46.81L352.14 44.24L352.20 42.41L352.26 41.40L352.32 41.25L352.39 41.99L352.45 43.63L352.51 46.14L352.57 49.46L352.64 53.52L352.70 58.19L352.76 63.34L352.82 68.82L352.89 74.45L352.95 80.04L353.01 85.42L353.07 90.38L353.14 94.74L353.20 98.35L353.26 101.07L353.32 102.77L353.39 103.39L353.45 102.87L353.51 101.22L353.57 98.48L353.64 94.73L353.70 90.10L353.76 84.74L353.82 78.84L353.89 72.61L353.95 66.30L354.01 60.13L354.07 54.35L354.14 49.17L354.20 44.81L354.26 41.44L354.32 39.21L354.39 38.21L354.45 38.49L354.51 40.04L354.57 42.79L354.64 46.65L354.70 51.48L354.76 57.08L354.82 63.27L354.89 69.82L354.95 76.49L355.01 83.03L355.07 89.20L355.14 94.75L355.20 99.47L355.26 103.14L355.32 105.61L355.39 106.75L355.45 106.46L355.51 104.73L355.57 101.56L355.64 97.05L355.70 91.35L355.76 84.65L355.82 77.22L355.89 69.38L355.95 61.48L356.00 55.38L356.01 53.91L356.02 52.47L356.04 51.06L356.05 49.69L356.06 48.36L356.07 47.07L356.07 47.07L356.09 45.82L356.10 44.62L356.11 43.47L356.12 42.38L356.14 41.34L356.14 41.34L356.15 40.36L356.16 39.45L356.17 38.60L356.19 37.81L356.20 37.10L356.20 37.10L356.21 36.46L356.22 35.89L356.24 35.40L356.25 34.99L356.26 34.66L356.26 34.66L356.27 34.41L356.29 34.24L356.30 34.16L356.31 34.16L356.32 34.25L356.32 34.25L356.34 34.43L356.35 34.69L356.36 35.04L356.37 35.48L356.39 36.00L356.39 36.00L356.40 36.61L356.41 37.31L356.42 38.09L356.44 38.95L356.45 39.89L356.45 39.89L356.46 40.92L356.47 42.02L356.49 43.20L356.50 44.46L356.51 45.79L356.51 45.79L356.52 47.18L356.54 48.65L356.55 50.18L356.56 51.77L356.57 53.42L356.57 53.42L356.59 55.12L356.60 56.88L356.61 58.68L356.62 60.52L356.64 62.40L356.64 62.40L356.65 64.32L356.66 66.26L356.67 68.23L356.69 70.22L356.70 72.23L356.70 72.23L356.71 74.24L356.72 76.26L356.74 78.28L356.75 80.29L356.76 82.29L356.76 82.29L356.77 84.28L356.79 86.24L356.80 88.17L356.81 90.07L356.82 91.92L356.82 91.92L356.84 93.74L356.85 95.50L356.86 97.20L356.87 98.84L356.89 100.42L356.89 100.42L356.90 101.92L356.91 103.34L356.92 104.68L356.94 105.93L356.95 107.09L356.95 107.09L356.96 108.14L356.97 109.10L356.99 109.95L357.00 110.68L357.01 111.30L357.01 111.30L357.02 111.81L357.04 112.19L357.05 112.45L357.06 112.58L357.07 112.58L357.07 112.58L357.09 112.46L357.10 112.20L357.11 111.80L357.12 111.28L357.14 110.62L357.14 110.62L357.15 109.83L357.16 108.90L357.17 107.84L357.19 106.66L357.20 105.34L357.20 105.34L357.21 103.91L357.22 102.35L357.24 100.67L357.25 98.88L357.26 96.98L357.26 96.98L357.27 94.98L357.29 92.88L357.30 90.69L357.31 88.41L357.32 86.05L357.32 86.05L357.34 83.63L357.35 81.14L357.36 78.60L357.37 76.01L357.39 73.38L357.39 73.38L357.40 70.73L357.41 68.07L357.42 65.39L357.44 62.72L357.45 60.07L357.45 60.07L357.46 57.44L357.47 54.84L357.49 52.30L357.50 49.81L357.51 47.39L357.51 47.39L357.52 45.05L357.54 42.81L357.55 40.67L357.56 38.64L357.57 36.73L357.57 36.73L357.59 34.96L357.60 33.33L357.61 31.85L357.62 30.54L357.64 29.39L357.64 29.39L357.65 28.43L357.66 27.65L357.67 27.06L357.69 26.67L357.70 26.48L357.70 26.48L357.71 26.50L357.72 26.72L357.74 27.16L357.75 27.80L357.76 28.66L357.76 28.66L357.77 29.72L357.79 30.99L357.80 32.46L357.81 34.13L357.82 35.99L357.82 35.99L357.84 38.04L357.85 40.27L357.86 42.67L357.87 45.23L357.89 47.95L357.89 47.95L357.90 50.81L357.91 53.79L357.92 56.90L357.94 60.10L357.95 63.40L357.95 63.40L357.96 66.77L357.97 70.19L357.99 73.65L358.00 77.14L358.01 80.62L358.01 80.62L358.02 84.09L358.04 87.52L358.05 90.90L358.06 94.19L358.07 97.39L358.07 97.39L358.09 100.47L358.10 103.41L358.11 106.19L358.12 108.79L358.14 111.18L358.14 111.18L358.15 113.35L358.16 115.29L358.17 116.96L358.19 118.36L358.20 119.47L358.20 119.47L358.21 120.27L358.22 120.75L358.24 120.90L358.25 120.71L358.26 120.17L358.26 120.17L358.27 119.28L358.29 118.04L358.30 116.44L358.31 114.49L358.32 112.18L358.32 112.18L358.34 109.54L358.35 106.58L358.36 103.30L358.37 99.72L358.39 95.88L358.39 95.88L358.40 91.78L358.41 87.46L358.42 82.95L358.44 78.29L358.45 73.51L358.45 73.51L358.46 68.64L358.47 63.74L358.49 58.85L358.50 54.02L358.51 49.29L358.51 49.29L358.52 44.71L358.54 40.33L358.55 36.21L358.56 32.39L358.57 28.92L358.57 28.92L358.59 25.85L358.60 23.23L358.61 21.10L358.62 19.50L358.64 18.45L358.64 18.45L358.65 18.00L358.66 18.17L358.67 19.00L358.69 20.55L358.70 22.87L358.70 22.87L358.71 25.98L358.72 29.88L358.74 34.58L358.75 40.02" fill="none" stroke="#ff0000" stroke-opacity="0.2" stroke-width="1.1" stroke-linejoin="round"/>
<path d="M358.70 22.87L358.71 25.98L358.72 29.88L358.74 34.58L358.75 40.02L358.76 46.16L358.76 46.16L358.77 52.93L358.79 60.21L358.80 67.88L358.81 75.79L358.82 83.79L358.82 83.79L358.84 91.69L358.85 99.32L358.86 106.48L358.87 112.99L358.89 118.66L358.89 118.66L358.90 123.34L358.91 126.88L358.92 129.17L358.94 130.12L358.95 129.69L358.95 129.69L358.96 127.85L358.97 124.64L358.99 120.12L359.00 114.40L359.01 107.61L359.01 107.61L359.02 99.92L359.04 91.53L359.05 82.64L359.06 73.49L359.07 64.30L359.07 64.30L359.09 55.28L359.10 46.67L359.11 38.65L359.12 31.40L359.14 25.05L359.14 25.05L359.15 19.72L359.16 15.51L359.17 12.46L359.19 10.60L359.20 9.92L359.20 9.92L359.21 10.39L359.22 11.98L359.24 14.67L359.25 18.39L359.26 23.06L359.26 23.06L359.27 28.60L359.29 34.90L359.30 41.84L359.31 49.30L359.32 57.13L359.32 57.13L359.34 65.19L359.35 73.34L359.36 81.44L359.37 89.35L359.39 96.94L359.39 96.94L359.40 104.08L359.41 110.66L359.42 116.57L359.44 121.73L359.45 126.04L359.45 126.04L359.46 129.45L359.47 131.90L359.49 133.37L359.50 133.84L359.51 132.51L359.51 132.51L359.52 128.64L359.54 122.41L359.55 114.08L359.56 103.99L359.57 92.57L359.57 92.57L359.59 80.31L359.60 67.72L359.61 55.80L359.62 45.26L359.64 36.44L359.64 36.44L359.65 29.60L359.66 24.91L359.67 22.43L359.69 22.13L359.70 23.88L359.70 23.88L359.71 27.49L359.72 32.71L359.74 39.21L359.75 46.65L359.76 54.67L359.76 54.67L359.77 62.90L359.79 70.99L359.80 78.62L359.81 85.49L359.82 91.38L359.82 91.38L359.84 96.09L359.85 99.51L359.86 101.57L359.87 102.27L359.89 101.67L359.89 101.67L359.90 99.86L359.91 96.99L359.92 93.25L359.94 88.85L359.95 84.00L359.95 84.00L359.96 78.94L359.97 73.88L359.99 69.03L360.00 64.58L360.01 60.69L360.01 60.69L360.02 57.49L360.04 55.06L360.05 53.46L360.06 52.70L360.07 52.77L360.07 52.77L360.09 53.62L360.10 55.15L360.11 57.27L360.12 59.85L360.14 62.75L360.14 62.75L360.15 65.85L360.16 69.00L360.17 72.06L360.19 74.92L360.20 77.47L360.20 77.47L360.21 79.62L360.22 81.31L360.24 82.50L360.25 83.17L360.26 83.32L360.26 83.32L360.27 82.97L360.29 82.18L360.30 81.00L360.31 79.51L360.32 77.78L360.32 77.78L360.34 75.90L360.35 73.96L360.36 72.03L360.37 70.21L360.39 68.55L360.39 68.55L360.40 67.12L360.41 65.96L360.42 65.11L360.44 64.57L360.45 64.35L360.45 64.35L360.46 64.45L360.47 64.84L360.49 65.48L360.50 66.33L360.51 67.35L360.51 67.35L360.52 68.49L360.54 69.68L360.55 70.88L360.56 72.04L360.57 73.11L360.57 73.11L360.59 74.05L360.60 74.83L360.61 75.43L360.62 75.84L360.64 76.05L360.64 76.05L360.65 76.07L360.66 75.89L360.67 75.55L360.69 75.07L360.70 74.48L360.70 74.48L360.71 73.80L360.72 73.07L360.74 72.33L360.75 71.60L360.76 70.92L360.76 70.92L360.77 70.30L360.79 69.78L360.80 69.36L360.81 69.06L360.82 68.88L360.82 68.88L360.84 68.83L360.85 68.89L360.86 69.06L360.87 69.33L360.89 69.67L360.89 69.67L360.90 70.07L360.91 70.51L360.92 70.97L360.94 71.43L360.95 71.86L360.95 71.86L360.96 72.26L360.97 72.61L360.99 72.90L361.00 73.11L361.01 73.25L361.01 73.25L361.02 73.31L361.04 73.30L361.05 73.22L361.06 73.07L361.07 72.88L361.07 72.88L361.09 72.64L361.10 72.38L361.11 72.10L361.12 71.81L361.14 71.54L361.14 71.54L361.15 71.28L361.16 71.05L361.17 70.86L361.19 70.71L361.20 70.61L361.20 70.61L361.21 70.55L361.22 70.54L361.24 70.58L361.25 70.65L361.26 70.76L361.26 70.76L361.27 70.90L361.29 71.05L361.30 71.22L361.31 71.40L361.32 71.57L361.32 71.57L361.34 71.74L361.35 71.89L361.36 72.01L361.37 72.12L361.39 72.19L361.39 72.19L361.40 72.24L361.41 72.26L361.42 72.24L361.44 72.21L361.45 72.15L361.45 72.15L361.46 72.07L361.47 71.98L361.49 71.87L361.51 71.66L361.57 71.25L361.64 71.25L361.70 71.54L361.76 71.81L361.82 71.83L361.89 71.65L361.95 71.48L362.01 71.45L362.07 71.56L362.14 71.67L362.20 71.69L362.26 71.63L362.32 71.56L362.39 71.54L362.45 71.58L362.51 71.62L362.57 71.64L362.64 71.62L362.70 71.59L362.76 71.58L362.82 71.59L362.89 71.61L362.95 71.61L363.01 71.61L363.07 71.60L363.14 71.59L363.20 71.59L363.26 71.60L363.32 71.61L363.39 71.60L363.45 71.60L363.51 71.60L363.57 71.60L363.64 71.60L363.70 71.60L363.76 71.60L363.82 71.60L363.89 71.60L363.95 71.60L364.01 71.60L364.07 71.60L364.14 71.60L364.20 71.60L364.26 71.60L364.32 71.60L364.39 71.60L364.45 71.60L364.51 71.60L364.57 71.60L364.64 71.60L364.70 71.60L364.76 71.60L364.82 71.60L364.89 71.60L364.95 71.60L365.01 71.60L365.07 71.60L365.14 71.60L365.20 71.60L365.26 71.60L365.32 71.60L365.39 71.60L365.45 71.60L365.51 71.60L365.57 71.60L365.64 71.60L365.70 71.60L365.76 71.60L365.82 71.60L365.89 71.60L365.95 71.60" fill="none" stroke="#a80000" stroke-width="0.85" stroke-linejoin="round"/>
<path d="M237.70 55.90L237.76 55.94L237.82 56.03L237.89 56.20L237.95 56.42L238.01 56.72L238.07 57.07L238.14 57.49L238.20 57.98L238.26 58.52L238.32 59.12L238.39 59.78L238.45 60.49L238.51 61.25L238.57 62.05L238.64 62.91L238.70 63.80L238.76 64.73L238.82 65.69L238.89 66.68L238.95 67.69L239.01 68.72L239.07 69.77L239.14 70.83L239.20 71.89L239.26 72.96L239.32 74.02L239.39 75.07L239.45 76.10L239.51 77.12L239.57 78.11L239.64 79.07L239.70 80.00L239.76 80.89L239.82 81.74L239.89 82.54L239.95 83.29L240.01 83.99L240.07 84.62L240.14 85.20L240.20 85.72L240.26 86.16L240.32 86.54L240.39 86.85L240.45 87.09L240.51 87.25L240.57 87.34L240.64 87.35L240.70 87.29L240.76 87.16L240.82 86.95L240.89 86.66L240.95 86.31L241.01 85.88L241.07 85.39L241.14 84.83L241.20 84.21L241.26 83.53L241.32 82.79L241.39 82.00L241.45 81.16L241.51 80.28L241.57 79.35L241.64 78.39L241.70 77.40L241.76 76.38L241.82 75.33L241.89 74.27L241.95 73.20L242.01 72.12L242.07 71.04L242.14 69.97L242.20 68.90L242.26 67.85L242.32 66.81L242.39 65.80L242.45 64.81L242.51 63.86L242.57 62.94L242.64 62.07L242.70 61.24L242.76 60.46L242.82 59.73L242.89 59.05L242.95 58.43L243.01 57.88L243.07 57.38L243.14 56.95L243.20 56.59L243.26 56.29L243.32 56.06L243.39 55.90L243.45 55.81L243.51 55.79L243.57 55.83L243.64 55.95L243.70 56.13L243.76 56.38L243.82 56.69L243.89 57.07L243.95 57.51L244.01 58.01L244.07 58.56L244.14 59.17L244.20 59.83L244.26 60.54L244.32 61.29L244.39 62.09L244.45 62.92L244.51 63.79L244.57 64.69L244.64 65.62L244.70 66.57L244.76 67.55L244.82 68.53L244.89 69.53L244.95 70.54L245.01 71.55L245.07 72.56L245.14 73.57L245.20 74.56L245.26 75.55L245.32 76.52L245.39 77.46L245.45 78.39L245.51 79.28L245.57 80.15L245.64 80.98L245.70 81.77L245.76 82.52L245.82 83.23L245.89 83.89L245.95 84.50L246.01 85.06L246.07 85.56L246.14 86.01L246.20 86.41L246.26 86.74L246.32 87.01L246.39 87.22L246.45 87.37L246.51 87.45L246.57 87.48L246.64 87.43L246.70 87.33L246.76 87.16L246.82 86.93L246.89 86.64L246.95 86.28L247.01 85.87L247.07 85.40L247.14 84.88L247.20 84.30L247.26 83.66L247.32 82.98L247.39 82.26L247.45 81.48L247.51 80.67L247.57 79.82L247.64 78.94L247.70 78.02L247.76 77.08L247.82 76.11L247.89 75.13L247.95 74.13L248.01 73.11L248.07 72.09L248.14 71.07L248.20 70.04L248.26 69.02L248.32 68.01L248.39 67.02L248.45 66.04L248.51 65.08L248.57 64.15L248.64 63.25L248.70 62.38L248.76 61.55L248.82 60.77L248.89 60.02L248.95 59.33L249.01 58.69L249.07 58.10L249.14 57.57L249.20 57.10L249.26 56.69L249.32 56.35L249.39 56.08L249.45 55.87L249.51 55.73L249.57 55.67L249.64 55.68L249.70 55.75L249.76 55.90L249.82 56.13L249.89 56.42L249.95 56.78L250.01 57.21L250.07 57.71L250.14 58.28L250.20 58.91L250.26 59.60L250.32 60.34L250.39 61.14L250.45 62.00L250.51 62.89L250.57 63.83L250.64 64.81L250.70 65.83L250.76 66.87L250.82 67.93L250.89 69.02L250.95 70.12L251.01 71.23L251.07 72.34L251.14 73.45L251.20 74.55L251.26 75.64L251.32 76.71L251.39 77.76L251.45 78.77L251.51 79.76L251.57 80.70L251.64 81.60L251.70 82.45L251.76 83.25L251.82 83.99L251.89 84.67L251.95 85.29L252.01 85.84L252.07 86.32L252.14 86.72L252.20 87.05L252.26 87.31L252.32 87.48L252.39 87.58L252.45 87.59L252.51 87.52L252.57 87.38L252.64 87.15L252.70 86.85L252.76 86.47L252.82 86.01L252.89 85.48L252.95 84.89L253.01 84.22L253.07 83.49L253.14 82.70L253.20 81.85L253.26 80.95L253.32 80.01L253.39 79.02L253.45 77.99L253.51 76.93L253.57 75.85L253.64 74.74L253.70 73.61L253.76 72.48L253.82 71.34L253.89 70.21L253.95 69.08L254.01 67.96L254.07 66.86L254.14 65.79L254.20 64.75L254.26 63.74L254.32 62.77L254.39 61.84L254.45 60.96L254.51 60.14L254.57 59.38L254.64 58.67L254.70 58.03L254.76 57.46L254.82 56.96L254.89 56.54L254.95 56.18L255.01 55.91L255.07 55.71L255.14 55.59L255.20 55.55L255.26 55.59L255.32 55.70L255.39 55.90L255.45 56.17L255.51 56.52L255.57 56.94L255.64 57.43L255.70 58.00L255.76 58.63L255.82 59.32L255.89 60.07L255.95 60.88L256.01 61.75L256.07 62.66L256.14 63.61L256.20 64.61L256.26 65.63L256.32 66.69L256.39 67.77L256.45 68.87L256.51 69.99L256.57 71.11L256.64 72.23L256.70 73.35L256.76 74.47L256.82 75.56L256.89 76.64L256.95 77.70L257.01 78.73L257.07 79.72L257.14 80.67L257.20 81.57L257.26 82.43L257.32 83.24L257.39 83.99L257.45 84.68L257.51 85.30L257.57 85.86L257.64 86.35L257.70 86.77L257.76 87.11L257.82 87.38L257.89 87.56L257.95 87.68L258.01 87.71L258.07 87.66L258.14 87.54L258.20 87.34L258.26 87.06L258.32 86.70L258.39 86.27L258.45 85.77L258.51 85.20L258.57 84.56L258.64 83.86L258.70 83.10L258.76 82.28L258.82 81.41L258.89 80.49L258.95 79.52L259.01 78.52L259.07 77.48L259.14 76.41L259.20 75.32L259.26 74.21L259.32 73.09L259.39 71.96L259.45 70.82L259.51 69.69L259.57 68.57L259.64 67.46L259.70 66.38L259.76 65.32L259.82 64.28L259.89 63.29L259.95 62.34L260.01 61.43L260.07 60.57L260.14 59.76L260.20 59.02L260.26 58.33L260.32 57.71L260.39 57.16L260.45 56.69L260.51 56.28L260.57 55.96L260.64 55.71L260.70 55.54L260.76 55.44L260.82 55.44L260.89 55.51L260.95 55.66L261.01 55.89L261.07 56.20L261.14 56.59L261.20 57.05L261.26 57.59L261.32 58.20L261.39 58.87L261.45 59.61L261.51 60.41L261.57 61.27L261.64 62.18L261.70 63.13L261.76 64.13L261.82 65.17L261.89 66.24L261.95 67.34L262.01 68.46L262.07 69.59L262.14 70.74L262.20 71.89L262.26 73.04L262.32 74.18L262.39 75.31L262.45 76.42L262.51 77.51L262.57 78.57L262.64 79.59L262.70 80.58L262.76 81.52L262.82 82.41L262.89 83.24L262.95 84.02L263.01 84.73L263.07 85.37L263.14 85.95L263.20 86.46L263.26 86.88L263.32 87.23L263.39 87.51L263.45 87.70L263.51 87.81L263.57 87.83L263.64 87.78L263.70 87.64L263.76 87.42L263.82 87.11L263.89 86.73L263.95 86.28L264.01 85.74L264.07 85.14L264.14 84.46L264.20 83.72L264.26 82.91L264.32 82.05L264.39 81.14L264.45 80.17L264.51 79.16L264.57 78.11L264.64 77.03L264.70 75.92L264.76 74.79L264.82 73.64L264.89 72.47L264.95 71.31L265.01 70.14L265.07 68.99L265.14 67.84L265.20 66.71L265.26 65.61L265.32 64.54L265.39 63.51L265.45 62.51L265.51 61.57L265.57 60.67L265.64 59.83L265.70 59.05L265.76 58.34L265.82 57.69L265.89 57.12L265.95 56.62L266.01 56.19L266.07 55.85L266.14 55.59L266.20 55.41L266.26 55.32L266.32 55.31L266.39 55.38L266.45 55.54L266.51 55.78L266.57 56.11L266.64 56.51L266.70 57.00L266.76 57.56L266.82 58.20L266.89 58.90L266.95 59.67L267.01 60.51L267.07 61.40L267.14 62.35L267.20 63.35L267.26 64.39L267.32 65.46L267.39 66.58L267.45 67.71L267.51 68.87L267.57 70.05L267.64 71.23L267.70 72.42L267.76 73.60L267.82 74.77L267.89 75.93L267.95 77.06L268.01 78.16L268.07 79.23L268.14 80.26L268.20 81.25L268.26 82.18L268.32 83.06L268.39 83.88L268.45 84.64L268.51 85.32L268.57 85.93L268.64 86.47L268.70 86.93L268.76 87.31L268.82 87.60L268.89 87.81L268.95 87.93L269.01 87.97L269.07 87.92L269.14 87.78L269.20 87.56L269.26 87.25L269.32 86.86L269.39 86.38L269.45 85.83L269.51 85.21L269.57 84.51L269.64 83.74L269.70 82.90L269.76 82.01L269.82 81.06L269.89 80.06L269.95 79.02L270.01 77.93L270.07 76.81L270.14 75.67L270.20 74.50L270.26 73.32L270.32 72.12L270.39 70.93L270.45 69.73L270.51 68.55L270.57 67.38L270.64 66.24L270.70 65.12L270.76 64.04L270.82 63.00L270.89 62.00L270.95 61.06L271.01 60.17L271.07 59.34L271.14 58.57L271.20 57.88L271.26 57.26L271.32 56.71L271.39 56.24L271.45 55.86L271.51 55.55L271.57 55.34L271.64 55.20L271.70 55.16L271.76 55.20L271.82 55.33L271.89 55.54L271.95 55.84L272.01 56.22L272.07 56.69L272.14 57.23L272.20 57.85L272.26 58.54L272.32 59.30L272.39 60.12L272.45 61.01L272.51 61.95L272.57 62.94L272.64 63.97L272.70 65.05L272.76 66.16L272.82 67.30L272.89 68.47L272.95 69.65L273.01 70.84L273.07 72.03L273.14 73.22L273.20 74.41L273.26 75.58L273.32 76.73L273.39 77.85L273.45 78.94L273.51 79.99L273.57 81.00L273.64 81.96L273.70 82.86L273.76 83.71L273.82 84.49L273.89 85.20L273.95 85.84L274.01 86.41L274.07 86.90L274.14 87.31L274.20 87.64L274.26 87.88L274.32 88.04L274.39 88.11L274.45 88.10L274.51 88.00L274.57 87.81L274.64 87.53L274.70 87.18L274.76 86.74L274.82 86.22L274.89 85.62L274.95 84.95L275.01 84.20L275.07 83.40L275.14 82.52L275.20 81.59L275.26 80.61L275.32 79.58L275.39 78.51L275.45 77.40L275.51 76.25L275.57 75.09L275.64 73.90L275.70 72.70L275.76 71.50L275.82 70.29L275.89 69.09L275.95 67.91L276.01 66.74L276.07 65.60L276.14 64.48L276.20 63.41L276.26 62.38L276.32 61.40L276.39 60.47L276.45 59.60L276.51 58.80L276.57 58.06L276.64 57.39L276.70 56.80L276.76 56.29L276.82 55.86L276.89 55.52L276.95 55.26L277.01 55.09L277.07 55.01L277.14 55.01L277.20 55.11L277.26 55.29L277.32 55.57L277.39 55.93L277.45 56.37L277.51 56.89L277.57 57.50L277.64 58.18L277.70 58.93L277.76 59.75L277.82 60.63L277.89 61.58L277.95 62.57L278.01 63.62L278.07 64.71L278.14 65.83L278.20 66.99L278.26 68.17L278.32 69.37L278.39 70.59L278.45 71.81L278.51 73.03L278.57 74.24L278.64 75.43L278.70 76.61L278.76 77.76L278.82 78.88L278.89 79.96L278.95 81.00L279.01 81.98L279.07 82.91L279.14 83.78L279.20 84.58L279.26 85.32L279.32 85.98L279.39 86.56L279.45 87.06L279.51 87.48L279.57 87.82L279.64 88.06L279.70 88.22L279.76 88.29L279.82 88.26L279.89 88.15L279.95 87.94L280.01 87.65L280.07 87.27L280.14 86.80L280.20 86.25L280.26 85.62L280.32 84.91L280.39 84.12L280.45 83.27L280.51 82.35L280.57 81.38L280.64 80.34L280.70 79.26L280.76 78.14L280.82 76.97L280.89 75.78L280.95 74.56L281.01 73.33L281.07 72.08L281.14 70.83L281.20 69.58L281.26 68.34L281.32 67.12L281.39 65.93L281.45 64.76L281.51 63.63L281.57 62.55L281.64 61.51L281.70 60.53L281.76 59.61L281.82 58.76L281.89 57.98L281.95 57.28L282.01 56.66L282.07 56.12L282.14 55.68L282.20 55.32L282.26 55.06L282.32 54.89L282.39 54.82L282.45 54.85L282.51 54.97L282.57 55.19L282.64 55.51L282.70 55.93L282.76 56.43L282.82 57.03L282.89 57.72L282.95 58.49L283.01 59.33L283.07 60.26L283.14 61.25L283.20 62.30L283.26 63.42L283.32 64.58L283.39 65.79L283.45 67.03L283.51 68.30L283.57 69.60L283.64 70.91L283.70 72.22L283.76 73.54L283.82 74.84L283.89 76.12L283.95 77.38L284.01 78.60L284.07 79.78L284.14 80.91L284.20 81.99L284.26 83.00L284.32 83.94L284.39 84.81L284.45 85.60L284.51 86.30L284.57 86.90L284.64 87.42L284.70 87.83L284.76 88.15L284.82 88.36L284.89 88.46L284.95 88.46L285.01 88.36L285.07 88.15L285.14 87.84L285.20 87.42L285.26 86.91L285.32 86.30L285.39 85.59L285.45 84.80L285.51 83.92L285.57 82.97L285.64 81.95L285.70 80.86L285.76 79.71L285.82 78.51L285.89 77.26L285.95 75.98L286.01 74.68L286.07 73.35L286.14 72.01L286.20 70.67L286.26 69.34L286.32 68.01L286.39 66.72L286.45 65.45L286.51 64.22L286.57 63.04L286.64 61.91L286.70 60.84L286.76 59.83L286.82 58.91L286.89 58.06L286.95 57.29L287.01 56.62L287.07 56.04L287.14 55.55L287.20 55.17L287.26 54.88L287.32 54.70L287.39 54.63L287.45 54.65L287.51 54.79L287.57 55.02L287.64 55.36L287.70 55.80L287.76 56.34L287.82 56.97L287.89 57.69L287.95 58.49L288.01 59.38L288.07 60.34L288.14 61.37L288.20 62.47L288.26 63.62L288.32 64.81L288.39 66.06L288.45 67.33L288.51 68.63L288.57 69.95L288.64 71.28L288.70 72.62L288.76 73.94L288.82 75.26L288.89 76.55L288.95 77.81L289.01 79.03L289.07 80.21L289.14 81.33L289.20 82.40L289.26 83.40L289.32 84.33L289.39 85.18L289.45 85.95L289.51 86.63L289.57 87.22L289.64 87.71L289.70 88.11L289.76 88.40L289.82 88.59L289.89 88.68L289.95 88.66L290.01 88.54L290.07 88.31L290.14 87.98L290.20 87.55L290.26 87.02L290.32 86.40L290.39 85.69L290.45 84.88L290.51 84.00L290.57 83.04L290.64 82.01L290.70 80.91L290.76 79.76L290.82 78.55L290.89 77.30L290.95 76.01L291.01 74.70L291.07 73.37L291.14 72.02L291.20 70.67L291.26 69.33L291.32 68.00L291.39 66.69L291.45 65.41L291.51 64.17L291.57 62.97L291.64 61.83L291.70 60.74L291.76 59.73L291.82 58.78L291.89 57.92L291.95 57.14L292.01 56.45L292.07 55.85L292.14 55.36L292.20 54.96L292.26 54.67L292.32 54.48L292.39 54.40L292.45 54.43L292.51 54.57L292.57 54.81L292.64 55.16L292.70 55.62L292.76 56.17L292.82 56.82L292.89 57.56L292.95 58.40L293.01 59.31L293.07 60.30L293.14 61.36L293.20 62.49L293.26 63.68L293.32 64.91L293.39 66.19L293.45 67.50L293.51 68.84L293.57 70.19L293.64 71.56L293.70 72.92L293.76 74.28L293.82 75.63L293.89 76.94L293.95 78.23L294.01 79.47L294.07 80.67L294.14 81.81L294.20 82.89L294.26 83.89L294.32 84.82L294.39 85.67L294.45 86.43L294.51 87.10L294.57 87.67L294.64 88.13L294.70 88.50L294.76 88.75L294.82 88.90L294.89 88.94L294.95 88.87L295.01 88.69L295.07 88.40L295.14 88.00L295.20 87.50L295.26 86.89L295.32 86.19L295.39 85.39L295.45 84.50L295.51 83.53L295.57 82.48L295.64 81.36L295.70 80.17L295.76 78.93L295.82 77.64L295.89 76.30L295.95 74.94L296.01 73.55L296.07 72.14L296.14 70.73L296.20 69.33L296.26 67.93L296.32 66.56L296.39 65.22L296.45 63.92L296.51 62.67L296.57 61.47L296.64 60.34L296.70 59.29L296.76 58.31L296.82 57.42L296.89 56.63L296.95 55.93L297.01 55.34L297.07 54.86L297.14 54.49L297.20 54.23L297.26 54.10L297.32 54.08L297.39 54.18L297.45 54.41L297.51 54.75L297.57 55.21L297.64 55.78L297.70 56.47L297.76 57.26L297.82 58.16L297.89 59.15L297.95 60.23L298.01 61.39L298.07 62.63L298.14 63.93L298.20 65.29L298.26 66.70L298.32 68.15L298.39 69.62L298.45 71.11L298.51 72.61L298.57 74.10L298.64 75.58L298.70 77.03L298.76 78.44L298.82 79.80L298.89 81.11L298.95 82.35L299.01 83.51L299.07 84.59L299.14 85.57L299.20 86.46L299.26 87.23L299.32 87.89L299.39 88.43L299.45 88.85L299.51 89.14L299.57 89.30L299.64 89.33L299.70 89.23L299.76 89.00L299.82 88.64L299.89 88.15L299.95 87.54L300.01 86.81L300.07 85.97L300.14 85.01L300.20 83.96L300.26 82.82L300.32 81.59L300.39 80.29L300.45 78.92L300.51 77.49L300.57 76.02L300.64 74.52L300.70 72.99L300.76 71.46L300.82 69.92L300.89 68.40L300.95 66.89L301.01 65.43L301.07 64.00L301.14 62.64L301.20 61.34L301.26 60.11L301.32 58.97L301.39 57.92L301.45 56.98L301.51 56.14L301.57 55.41L301.64 54.80L301.70 54.32L301.76 53.96L301.82 53.73L301.89 53.63L301.95 53.67L302.01 53.83L302.07 54.12L302.14 54.54L302.20 55.08L302.26 55.75L302.32 56.52L302.39 57.41L302.45 58.40L302.51 59.49L302.57 60.66L302.64 61.91L302.70 63.24L302.76 64.62L302.82 66.06L302.89 67.53L302.95 69.04L303.01 70.56L303.07 72.09L303.14 73.62L303.20 75.14L303.26 76.63L303.32 78.09L303.39 79.50L303.45 80.86L303.51 82.15L303.57 83.37L303.64 84.50L303.70 85.54L303.76 86.48L303.82 87.32L303.89 88.04L303.95 88.65L304.01 89.13L304.07 89.49L304.14 89.72L304.20 89.82L304.26 89.79L304.32 89.63L304.39 89.34L304.45 88.92L304.51 88.37L304.57 87.70L304.64 86.91L304.70 86.02L304.76 85.01L304.82 83.91L304.89 82.72L304.95 81.44L305.01 80.09L305.07 78.68L305.14 77.21L305.20 75.70L305.26 74.16L305.32 72.59L305.39 71.02L305.45 69.45L305.51 67.89L305.57 66.35L305.64 64.86L305.70 63.41L305.76 62.02L305.82 60.69L305.89 59.45L305.95 58.29L306.01 57.24L306.07 56.28L306.14 55.45L306.20 54.73L306.26 54.13L306.32 53.67L306.39 53.34L306.45 53.15L306.51 53.10L306.57 53.19L306.64 53.43L306.70 53.80L306.76 54.31L306.82 54.95L306.89 55.73L306.95 56.63L307.01 57.65L307.07 58.78L307.14 60.01L307.20 61.33L307.26 62.74L307.32 64.22L307.39 65.77L307.45 67.36L307.51 68.98L307.57 70.63L307.64 72.30L307.70 73.95L307.76 75.60L307.82 77.21L307.89 78.78L307.95 80.30L308.01 81.74L308.07 83.11L308.14 84.39L308.20 85.57L308.26 86.63L308.32 87.58L308.39 88.40L308.45 89.08L308.51 89.62L308.57 90.02L308.64 90.27L308.70 90.37L308.76 90.31L308.82 90.11L308.89 89.75L308.95 89.25L309.01 88.60L309.07 87.82L309.14 86.90L309.20 85.86L309.26 84.70L309.32 83.44L309.39 82.08L309.45 80.63L309.51 79.11L309.57 77.53L309.64 75.90L309.70 74.24L309.76 72.55L309.82 70.86L309.89 69.17L309.95 67.50L310.01 65.86L310.07 64.27L310.14 62.74L310.20 61.27L310.26 59.89L310.32 58.61L310.39 57.42L310.45 56.35L310.51 55.40L310.57 54.58L310.64 53.89L310.70 53.34L310.76 52.94L310.82 52.68L310.89 52.56L310.95 52.60L311.01 52.79L311.07 53.11L311.14 53.59L311.20 54.20L311.26 54.94L311.32 55.81L311.39 56.80L311.45 57.90L311.51 59.11L311.57 60.41L311.64 61.80L311.70 63.26L311.76 64.78L311.82 66.35L311.89 67.97L311.95 69.61L312.01 71.26L312.07 72.92L312.14 74.57L312.20 76.20L312.26 77.79L312.32 79.34L312.39 80.83L312.45 82.25L312.51 83.60L312.57 84.86L312.64 86.02L312.70 87.07L312.76 88.01L312.82 88.83L312.89 89.52L312.95 90.08L313.01 90.50L313.07 90.78L313.14 90.92L313.20 90.92L313.26 90.77L313.32 90.48L313.39 90.05L313.45 89.48L313.51 88.78L313.57 87.94L313.64 86.98L313.70 85.91L313.76 84.73L313.82 83.44L313.89 82.06L313.95 80.60L314.01 79.07L314.07 77.48L314.14 75.85L314.20 74.17L314.26 72.48L314.32 70.77L314.39 69.07L314.45 67.38L314.51 65.72L314.57 64.10L314.64 62.53L314.70 61.03L314.76 59.62L314.82 58.29L314.89 57.06L314.95 55.94L315.01 54.95L315.07 54.08L315.14 53.35L315.20 52.77L315.26 52.34L315.32 52.06L315.39 51.94L315.45 51.97L315.51 52.17L315.57 52.53L315.64 53.05L315.70 53.72L315.76 54.54L315.82 55.50L315.89 56.60L315.95 57.83L316.01 59.17L316.07 60.62L316.14 62.17L316.20 63.80L316.26 65.49L316.32 67.25L316.39 69.04L316.45 70.86L316.51 72.69L316.57 74.51L316.64 76.31L316.70 78.08L316.76 79.79L316.82 81.44L316.89 83.01L316.95 84.48L317.01 85.84L317.07 87.08L317.14 88.19L317.20 89.16L317.26 89.97L317.32 90.63L317.39 91.12L317.45 91.45L317.51 91.60L317.57 91.57L317.64 91.37L317.70 90.99L317.76 90.44L317.82 89.73L317.89 88.85L317.95 87.81L318.01 86.63L318.07 85.32L318.14 83.88L318.20 82.33L318.26 80.68L318.32 78.94L318.39 77.14L318.45 75.28L318.51 73.39L318.57 71.47L318.64 69.56L318.70 67.66L318.76 65.79L318.82 63.98L318.89 62.23L318.95 60.56L319.01 58.99L319.07 57.53L319.14 56.19L319.20 55.00L319.26 53.95L319.32 53.07L319.39 52.35L319.45 51.81L319.51 51.44L319.57 51.27L319.64 51.27L319.70 51.47L319.76 51.85L319.82 52.41L319.89 53.16L319.95 54.07L320.01 55.15L320.07 56.39L320.14 57.77L320.20 59.28L320.26 60.91L320.32 62.65L320.39 64.47L320.45 66.36L320.51 68.31L320.57 70.29L320.64 72.28L320.70 74.28L320.76 76.25L320.82 78.18L320.89 80.06L320.95 81.85L321.01 83.55L321.07 85.14L321.14 86.60L321.20 87.92L321.26 89.09L321.32 90.09L321.39 90.91L321.45 91.55L321.51 92.00L321.57 92.25L321.64 92.30L321.70 92.15L321.76 91.80L321.82 91.25L321.89 90.51L321.95 89.58L322.01 88.48L322.07 87.21L322.14 85.79L322.20 84.23L322.26 82.54L322.32 80.74L322.39 78.85L322.45 76.88L322.51 74.86L322.57 72.81L322.64 70.74L322.70 68.68L322.76 66.64L322.82 64.65L322.89 62.72L322.95 60.88L323.01 59.15L323.07 57.53L323.14 56.05L323.20 54.72L323.26 53.56L323.32 52.57L323.39 51.77L323.45 51.17L323.51 50.77L323.57 50.57L323.64 50.58L323.70 50.80L323.76 51.22L323.82 51.84L323.89 52.66L323.95 53.67L324.01 54.85L324.07 56.20L324.14 57.70L324.20 59.34L324.26 61.10L324.32 62.97L324.39 64.92L324.45 66.94L324.51 69.01L324.57 71.11L324.64 73.21L324.70 75.31L324.76 77.36L324.82 79.37L324.89 81.30L324.95 83.13L325.01 84.86L325.07 86.46L325.14 87.91L325.20 89.20L325.26 90.33L325.32 91.26L325.39 92.01L325.45 92.55L325.51 92.88L325.57 93.00L325.64 92.91L325.70 92.60L325.76 92.09L325.82 91.36L325.89 90.44L325.95 89.32L326.01 88.02L326.07 86.55L326.14 84.92L326.20 83.16L326.26 81.27L326.32 79.28L326.39 77.21L326.45 75.07L326.51 72.89L326.57 70.69L326.64 68.50L326.70 66.33L326.76 64.22L326.82 62.17L326.89 60.22L326.95 58.38L327.01 56.68L327.07 55.13L327.14 53.76L327.20 52.57L327.26 51.58L327.32 50.81L327.39 50.26L327.45 49.94L327.51 49.86L327.57 50.02L327.64 50.41L327.70 51.05L327.76 51.91L327.82 53.00L327.89 54.30L327.95 55.81L328.01 57.50L328.07 59.35L328.14 61.36L328.20 63.48L328.26 65.71L328.32 68.01L328.39 70.36L328.45 72.73L328.51 75.10L328.57 77.43L328.64 79.69L328.70 81.87L328.76 83.93L328.82 85.84L328.89 87.59L328.95 89.15L329.01 90.51L329.07 91.64L329.14 92.53L329.20 93.17L329.26 93.54L329.32 93.66L329.39 93.50L329.45 93.08L329.51 92.40L329.57 91.46L329.64 90.28L329.70 88.87L329.76 87.25L329.82 85.43L329.89 83.44L329.95 81.31L330.01 79.06L330.07 76.71L330.14 74.30L330.20 71.86L330.26 69.41L330.32 66.98L330.39 64.62L330.45 62.33L330.51 60.16L330.57 58.12L330.64 56.25L330.70 54.56L330.76 53.08L330.82 51.82L330.89 50.80L330.95 50.02L331.01 49.51L331.07 49.26L331.14 49.27L331.20 49.55L331.26 50.10L331.32 50.89L331.39 51.94L331.45 53.22L331.51 54.71L331.57 56.41L331.64 58.29L331.70 60.32L331.76 62.49L331.82 64.77L331.89 67.13L331.95 69.55L332.01 72.00L332.07 74.44L332.14 76.85L332.20 79.20L332.26 81.46L332.32 83.61L332.39 85.62L332.45 87.47L332.51 89.13L332.57 90.59L332.64 91.82L332.70 92.82L332.76 93.57L332.82 94.06L332.89 94.29L332.95 94.25L333.01 93.94L333.07 93.37L333.14 92.54L333.20 91.46L333.26 90.14L333.32 88.60L333.39 86.86L333.45 84.93L333.51 82.84L333.57 80.62L333.64 78.28L333.70 75.86L333.76 73.39L333.82 70.88L333.89 68.39L333.95 65.93L334.01 63.53L334.07 61.22L334.14 59.03L334.20 56.99L334.26 55.13L334.32 53.46L334.39 52.00L334.45 50.78L334.51 49.81L334.57 49.10L334.64 48.67L334.70 48.51L334.76 48.64L334.82 49.05L334.89 49.73L334.95 50.68L335.01 51.88L335.07 53.33L335.14 55.00L335.20 56.87L335.26 58.93L335.32 61.14L335.39 63.48L335.45 65.92L335.51 68.44L335.57 71.00L335.64 73.57L335.70 76.12L335.76 78.62L335.82 81.04L335.89 83.35L335.95 85.52L336.01 87.52L336.07 89.34L336.14 90.94L336.20 92.30L336.26 93.42L336.32 94.27L336.39 94.84L336.45 95.12L336.51 95.12L336.57 94.82L336.64 94.23L336.70 93.36L336.76 92.21L336.82 90.80L336.89 89.15L336.95 87.27L337.01 85.18L337.07 82.92L337.14 80.50L337.20 77.96L337.26 75.34L337.32 72.65L337.39 69.95L337.45 67.25L337.51 64.61L337.57 62.04L337.64 59.60L337.70 57.30L337.76 55.18L337.82 53.28L337.89 51.61L337.95 50.20L338.01 49.08L338.07 48.26L338.14 47.76L338.20 47.57L338.26 47.73L338.32 48.21L338.39 49.02L338.45 50.14L338.51 51.58L338.57 53.30L338.64 55.29L338.70 57.51L338.76 59.95L338.82 62.56L338.89 65.31L338.95 68.16L339.01 71.07L339.07 73.99L339.14 76.89L339.20 79.72L339.26 82.44L339.32 85.01L339.39 87.38L339.45 89.53L339.51 91.41L339.57 93.00L339.64 94.27L339.70 95.20L339.76 95.78L339.82 95.99L339.89 95.84L339.95 95.31L340.01 94.41L340.07 93.17L340.14 91.59L340.20 89.70L340.26 87.52L340.32 85.10L340.39 82.46L340.45 79.65L340.51 76.70L340.57 73.67L340.64 70.60L340.70 67.54L340.76 64.54L340.82 61.64L340.89 58.90L340.95 56.34L341.01 54.03L341.07 51.98L341.14 50.24L341.20 48.83L341.26 47.78L341.32 47.10L341.39 46.81L341.45 46.91L341.51 47.40L341.57 48.27L341.64 49.52L341.70 51.11L341.76 53.04L341.82 55.27L341.89 57.77L341.95 60.50L342.01 63.41L342.07 66.47L342.14 69.61L342.20 72.80L342.26 75.98L342.32 79.09L342.39 82.10L342.45 84.94L342.51 87.58L342.57 89.96L342.64 92.05L342.70 93.81L342.76 95.21L342.82 96.23L342.89 96.84L342.95 97.04L343.01 96.82L343.07 96.17L343.14 95.12L343.20 93.67L343.26 91.84L343.32 89.67L343.39 87.19L343.45 84.44L343.51 81.46L343.57 78.31L343.64 75.03L343.70 71.69L343.76 68.33L343.82 65.02L343.89 61.81L343.95 58.75L344.01 55.91L344.07 53.33L344.14 51.06L344.20 49.13L344.26 47.59L344.32 46.46L344.39 45.77L344.45 45.52L344.51 45.73L344.57 46.38L344.64 47.48L344.70 48.99L344.76 50.89L344.82 53.15L344.89 55.73L344.95 58.58L345.01 61.66L345.07 64.92L345.14 68.29L345.20 71.73L345.26 75.17L345.32 78.55L345.39 81.82L345.45 84.93L345.51 87.80L345.57 90.41L345.64 92.69L345.70 94.61L345.76 96.14L345.82 97.24L345.89 97.88L345.95 98.07L346.01 97.78L346.07 97.02L346.14 95.79L346.20 94.13L346.26 92.04L346.32 89.57L346.39 86.76L346.45 83.64L346.51 80.29L346.57 76.75L346.64 73.10L346.70 69.39L346.76 65.71L346.82 62.12L346.89 58.70L346.95 55.51L347.01 52.63L347.07 50.11L347.14 48.02L347.20 46.41L347.26 45.32L347.32 44.78L347.39 44.81L347.45 45.43L347.51 46.65L347.57 48.44L347.64 50.79L347.70 53.65L347.76 56.96L347.82 60.66L347.89 64.65L347.95 68.86L348.01 73.16L348.07 77.46L348.14 81.65L348.20 85.60L348.26 89.22L348.32 92.40L348.39 95.05L348.45 97.10L348.51 98.47L348.57 99.14L348.64 99.07L348.70 98.26L348.76 96.72L348.82 94.50L348.89 91.64L348.95 88.24L349.01 84.37L349.07 80.15L349.14 75.69L349.20 71.11L349.26 66.53L349.32 62.09L349.39 57.89L349.45 54.05L349.51 50.68L349.57 47.85L349.64 45.65L349.70 44.11L349.76 43.28L349.82 43.16L349.89 43.75L349.95 45.04L350.01 46.97L350.07 49.50L350.14 52.56L350.20 56.07L350.26 59.95L350.32 64.11L350.39 68.45L350.45 72.86L350.51 77.25L350.57 81.52L350.64 85.57L350.70 89.30L350.76 92.63L350.82 95.48L350.89 97.79L350.95 99.50L351.01 100.57L351.07 100.96L351.14 100.67L351.20 99.68L351.26 98.03L351.32 95.73L351.39 92.83L351.45 89.40L351.51 85.51L351.57 81.24L351.64 76.69L351.70 71.97L351.76 67.20L351.82 62.50L351.89 57.99L351.95 53.79L352.01 50.03L352.07 46.81L352.14 44.24L352.20 42.41L352.26 41.40L352.32 41.25L352.39 41.99L352.45 43.63L352.51 46.14L352.57 49.46L352.64 53.52L352.70 58.19L352.76 63.34L352.82 68.82L352.89 74.45L352.95 80.04L353.01 85.42L353.07 90.38L353.14 94.74L353.20 98.35L353.26 101.07L353.32 102.77L353.39 103.39L353.45 102.87L353.51 101.22L353.57 98.48L353.64 94.73L353.70 90.10L353.76 84.74L353.82 78.84L353.89 72.61L353.95 66.30L354.01 60.13L354.07 54.35L354.14 49.17L354.20 44.81L354.26 41.44L354.32 39.21L354.39 38.21L354.45 38.49L354.51 40.04L354.57 42.79L354.64 46.65L354.70 51.48L354.76 57.08L354.82 63.27L354.89 69.82L354.95 76.49L355.01 83.03L355.07 89.20L355.14 94.75L355.20 99.47L355.26 103.14L355.32 105.61L355.39 106.75L355.45 106.46L355.51 104.73L355.57 101.56L355.64 97.05L355.70 91.35L355.76 84.65L355.82 77.22L355.89 69.38L355.95 61.48L356.00 55.38L356.01 53.91L356.02 52.47L356.04 51.06L356.05 49.69L356.06 48.36L356.07 47.07L356.07 47.07L356.09 45.82L356.10 44.62L356.11 43.47L356.12 42.38L356.14 41.34L356.14 41.34L356.15 40.36L356.16 39.45L356.17 38.60L356.19 37.81L356.20 37.10L356.20 37.10L356.21 36.46L356.22 35.89L356.24 35.40L356.25 34.99L356.26 34.66L356.26 34.66L356.27 34.41L356.29 34.24L356.30 34.16L356.31 34.16L356.32 34.25L356.32 34.25L356.34 34.43L356.35 34.69L356.36 35.04L356.37 35.48L356.39 36.00L356.39 36.00L356.40 36.61L356.41 37.31L356.42 38.09L356.44 38.95L356.45 39.89L356.45 39.89L356.46 40.92L356.47 42.02L356.49 43.20L356.50 44.46L356.51 45.79L356.51 45.79L356.52 47.18L356.54 48.65L356.55 50.18L356.56 51.77L356.57 53.42L356.57 53.42L356.59 55.12L356.60 56.88L356.61 58.68L356.62 60.52L356.64 62.40L356.64 62.40L356.65 64.32L356.66 66.26L356.67 68.23L356.69 70.22L356.70 72.23L356.70 72.23L356.71 74.24L356.72 76.26L356.74 78.28L356.75 80.29L356.76 82.29L356.76 82.29L356.77 84.28L356.79 86.24L356.80 88.17L356.81 90.07L356.82 91.92L356.82 91.92L356.84 93.74L356.85 95.50L356.86 97.20L356.87 98.84L356.89 100.42L356.89 100.42L356.90 101.92L356.91 103.34L356.92 104.68L356.94 105.93L356.95 107.09L356.95 107.09L356.96 108.14L356.97 109.10L356.99 109.95L357.00 110.68L357.01 111.30L357.01 111.30L357.02 111.81L357.04 112.19L357.05 112.45L357.06 112.58L357.07 112.58L357.07 112.58L357.09 112.46L357.10 112.20L357.11 111.80L357.12 111.28L357.14 110.62L357.14 110.62L357.15 109.83L357.16 108.90L357.17 107.84L357.19 106.66L357.20 105.34L357.20 105.34L357.21 103.91L357.22 102.35L357.24 100.67L357.25 98.88L357.26 96.98L357.26 96.98L357.27 94.98L357.29 92.88L357.30 90.69L357.31 88.41L357.32 86.05L357.32 86.05L357.34 83.63L357.35 81.14L357.36 78.60L357.37 76.01L357.39 73.38L357.39 73.38L357.40 70.73L357.41 68.07L357.42 65.39L357.44 62.72L357.45 60.07L357.45 60.07L357.46 57.44L357.47 54.84L357.49 52.30L357.50 49.81L357.51 47.39L357.51 47.39L357.52 45.05L357.54 42.81L357.55 40.67L357.56 38.64L357.57 36.73L357.57 36.73L357.59 34.96L357.60 33.33L357.61 31.85L357.62 30.54L357.64 29.39L357.64 29.39L357.65 28.43L357.66 27.65L357.67 27.06L357.69 26.67L357.70 26.48L357.70 26.48L357.71 26.50L357.72 26.72L357.74 27.16L357.75 27.80L357.76 28.66L357.76 28.66L357.77 29.72L357.79 30.99L357.80 32.46L357.81 34.13L357.82 35.99L357.82 35.99L357.84 38.04L357.85 40.27L357.86 42.67L357.87 45.23L357.89 47.95L357.89 47.95L357.90 50.81L357.91 53.79L357.92 56.90L357.94 60.10L357.95 63.40L357.95 63.40L357.96 66.77L357.97 70.19L357.99 73.65L358.00 77.14L358.01 80.62L358.01 80.62L358.02 84.09L358.04 87.52L358.05 90.90L358.06 94.19L358.07 97.39L358.07 97.39L358.09 100.47L358.10 103.41L358.11 106.19L358.12 108.79L358.14 111.18L358.14 111.18L358.15 113.35L358.16 115.29L358.17 116.96L358.19 118.36L358.20 119.47L358.20 119.47L358.21 120.27L358.22 120.75L358.24 120.90L358.25 120.71L358.26 120.17L358.26 120.17L358.27 119.28L358.29 118.04L358.30 116.44L358.31 114.49L358.32 112.18L358.32 112.18L358.34 109.54L358.35 106.58L358.36 103.30L358.37 99.72L358.39 95.88L358.39 95.88L358.40 91.78L358.41 87.46L358.42 82.95L358.44 78.29L358.45 73.51L358.45 73.51L358.46 68.64L358.47 63.74L358.49 58.85L358.50 54.02L358.51 49.41L358.51 49.41L358.52 45.00L358.54 40.83L358.55 36.97L358.56 33.44L358.57 30.29L358.57 30.29L358.59 27.57L358.60 25.31L358.61 23.54L358.62 22.29L358.64 21.58L358.64 21.58L358.65 21.45L358.66 21.89L358.67 22.94L358.69 24.66L358.70 27.05L358.70 27.05L358.71 30.13L358.72 33.91L358.74 38.34L358.75 43.40L358.76 49.03L358.76 49.03L358.77 55.13L358.79 61.61L358.80 68.35L358.81 75.23L358.82 82.09L358.82 82.09L358.84 88.79L358.85 95.16L358.86 101.27L358.87 106.83L358.89 111.69L358.89 111.69L358.90 115.71L358.91 118.76L358.92 120.75L358.94 121.60L358.95 121.26L358.95 121.26L358.96 119.73L358.97 117.01L358.99 113.17L359.00 108.30L359.01 102.50L359.01 102.50L359.02 95.92L359.04 88.73L359.05 81.10L359.06 73.24L359.07 65.18L359.07 65.18L359.09 57.10L359.10 49.21L359.11 41.69L359.12 34.71L359.14 28.44L359.14 28.44L359.15 23.01L359.16 18.53L359.17 15.08L359.19 12.71L359.20 11.46L359.20 11.46L359.21 12.53L359.22 14.66L359.24 17.79L359.25 21.83L359.26 26.69L359.26 26.69L359.27 32.24L359.29 38.37L359.30 44.95L359.31 51.85L359.32 58.93L359.32 58.93L359.34 66.05L359.35 73.09L359.36 79.93L359.37 86.44L359.39 92.53L359.39 92.53L359.40 98.10L359.41 103.08L359.42 107.58L359.44 111.70L359.45 115.15L359.45 115.15L359.46 117.88L359.47 119.84L359.49 121.02L359.50 121.39L359.51 120.33L359.51 120.33L359.52 117.24L359.54 112.25L359.55 105.58L359.56 97.51L359.57 88.38L359.57 88.38L359.59 78.57L359.60 68.50L359.61 58.96L359.62 50.53L359.64 43.47L359.64 43.47L359.65 38.00L359.66 34.25L359.67 32.27L359.69 32.02L359.70 33.42L359.70 33.42L359.71 36.32L359.72 40.49L359.74 45.69L359.75 51.64L359.76 58.06L359.76 58.06L359.77 64.64L359.79 71.11L359.80 77.22L359.81 82.72L359.82 87.42L359.82 87.42L359.84 91.19L359.85 93.93L359.86 95.58L359.87 96.14L359.89 95.65L359.89 95.65L359.90 94.21L359.91 91.91L359.92 88.92L359.94 85.40L359.95 81.52L359.95 81.52L359.96 77.47L359.97 73.42L359.99 69.54L360.00 65.98L360.01 62.87L360.01 62.87L360.02 60.31L360.04 58.37L360.05 57.09L360.06 56.48L360.07 56.54L360.07 56.54L360.09 57.21L360.10 58.44L360.11 60.13L360.12 62.20L360.14 64.52L360.14 64.52L360.15 67.00L360.16 69.52L360.17 71.97L360.19 74.26L360.20 76.29L360.20 76.29L360.21 78.02L360.22 79.37L360.24 80.32L360.25 80.85L360.26 80.97L360.26 80.97L360.27 80.70L360.29 80.07L360.30 79.12L360.31 77.93L360.32 76.54L360.32 76.54L360.34 75.04L360.35 73.48L360.36 71.95L360.37 70.49L360.39 69.16L360.39 69.16L360.40 68.02L360.41 67.09L360.42 66.40L360.44 65.98L360.45 65.80L360.45 65.80L360.46 65.88L360.47 66.19L360.49 66.70L360.50 67.39L360.51 68.20L360.51 68.20L360.52 69.11L360.54 70.06L360.55 71.02L360.56 71.95L360.57 72.80L360.57 72.80L360.59 73.56L360.60 74.19L360.61 74.67L360.62 74.99L360.64 75.16L360.64 75.16L360.65 75.17L360.66 75.03L360.67 74.76L360.69 74.38L360.70 73.90L360.70 73.90L360.71 73.36L360.72 72.78L360.74 72.18L360.75 71.60L360.76 71.05L360.76 71.05L360.77 70.56L360.79 70.14L360.80 69.81L360.81 69.57L360.82 69.43L360.82 69.43L360.84 69.38L360.85 69.43L360.86 69.57L360.87 69.78L360.89 70.06L360.89 70.06L360.90 70.38L360.91 70.73L360.92 71.10L360.94 71.46L360.95 71.81L360.95 71.81L360.96 72.13L360.97 72.41L360.99 72.64L361.00 72.81L361.01 72.92L361.01 72.92L361.02 72.97L361.04 72.96L361.05 72.89L361.06 72.78L361.07 72.62L361.07 72.62L361.09 72.43L361.10 72.22L361.11 72.00L361.12 71.77L361.14 71.55L361.14 71.55L361.15 71.34L361.16 71.16L361.17 71.01L361.19 70.89L361.20 70.81L361.20 70.81L361.21 70.76L361.22 70.75L361.24 70.78L361.25 70.84L361.26 70.93L361.26 70.93L361.27 71.04L361.29 71.16L361.30 71.30L361.31 71.44L361.32 71.58L361.32 71.58L361.34 71.71L361.35 71.83L361.36 71.93L361.37 72.01L361.39 72.07L361.39 72.07L361.40 72.11L361.41 72.12L361.42 72.12L361.44 72.09L361.45 72.04L361.45 72.04L361.46 71.98L361.47 71.90L361.49 71.82L361.51 71.65L361.57 71.32L361.64 71.32L361.70 71.55L361.76 71.76L361.82 71.78L361.89 71.64L361.95 71.51L362.01 71.48L362.07 71.57L362.14 71.65L362.20 71.67L362.26 71.63L362.32 71.57L362.39 71.55L362.45 71.58L362.51 71.62L362.57 71.63L362.64 71.61L362.70 71.59L362.76 71.58L362.82 71.59L362.89 71.60L362.95 71.61L363.01 71.61L363.07 71.60L363.14 71.59L363.20 71.60L363.26 71.60L363.32 71.60L363.39 71.60L363.45 71.60L363.51 71.60L363.57 71.60L363.64 71.60L363.70 71.60L363.76 71.60L363.82 71.60L363.89 71.60L363.95 71.60L364.01 71.60L364.07 71.60L364.14 71.60L364.20 71.60L364.26 71.60L364.32 71.60L364.39 71.60L364.45 71.60L364.51 71.60L364.57 71.60L364.64 71.60L364.70 71.60L364.76 71.60L364.82 71.60L364.89 71.60L364.95 71.60L365.01 71.60L365.07 71.60L365.14 71.60L365.20 71.60L365.26 71.60L365.32 71.60L365.39 71.60L365.45 71.60L365.51 71.60L365.57 71.60L365.64 71.60L365.70 71.60L365.76 71.60L365.82 71.60L365.89 71.60L365.95 71.60" fill="none" stroke="#000" stroke-width="0.88" stroke-linejoin="round"/>
<path d="M208.70 195.12L208.76 194.90L208.82 194.76L208.89 194.70L208.95 194.73L209.01 194.83L209.07 195.01L209.14 195.28L209.20 195.62L209.26 196.05L209.32 196.54L209.39 197.11L209.45 197.76L209.51 198.47L209.57 199.24L209.64 200.08L209.70 200.97L209.76 201.91L209.82 202.91L209.89 203.94L209.95 205.02L210.01 206.13L210.07 207.27L210.14 208.43L210.20 209.61L210.26 210.80L210.32 212.00L210.39 213.20L210.45 214.39L210.51 215.57L210.57 216.73L210.64 217.87L210.70 218.99L210.76 220.07L210.82 221.11L210.89 222.10L210.95 223.05L211.01 223.94L211.07 224.78L211.14 225.55L211.20 226.26L211.26 226.89L211.32 227.46L211.39 227.95L211.45 228.36L211.51 228.69L211.57 228.93L211.64 229.10L211.70 229.18L211.76 229.17L211.82 229.08L211.89 228.91L211.95 228.65L212.01 228.31L212.07 227.88L212.14 227.38L212.20 226.80L212.26 226.15L212.32 225.42L212.39 224.63L212.45 223.78L212.51 222.86L212.57 221.89L212.64 220.87L212.70 219.80L212.76 218.70L212.82 217.56L212.89 216.39L212.95 215.20L213.01 213.99L213.07 212.77L213.14 211.54L213.20 210.32L213.26 209.10L213.32 207.89L213.39 206.71L213.45 205.55L213.51 204.42L213.57 203.33L213.64 202.28L213.70 201.28L213.76 200.33L213.82 199.44L213.89 198.61L213.95 197.85L214.01 197.16L214.07 196.55L214.14 196.01L214.20 195.55L214.26 195.18L214.32 194.89L214.39 194.68L214.45 194.56L214.51 194.54L214.57 194.60L214.64 194.75L214.70 194.98L214.76 195.31L214.82 195.72L214.89 196.21L214.95 196.79L215.01 197.44L215.07 198.17L215.14 198.97L215.20 199.84L215.26 200.77L215.32 201.77L215.39 202.81L215.45 203.91L215.51 205.05L215.57 206.22L215.64 207.43L215.70 208.66L215.76 209.90L215.82 211.16L215.89 212.43L215.95 213.69L216.01 214.94L216.07 216.18L216.14 217.40L216.20 218.59L216.26 219.74L216.32 220.86L216.39 221.92L216.45 222.94L216.51 223.89L216.57 224.78L216.64 225.61L216.70 226.36L216.76 227.03L216.82 227.62L216.89 228.13L216.95 228.55L217.01 228.89L217.07 229.13L217.14 229.28L217.20 229.34L217.26 229.30L217.32 229.17L217.39 228.95L217.45 228.64L217.51 228.23L217.57 227.74L217.64 227.17L217.70 226.51L217.76 225.77L217.82 224.96L217.89 224.08L217.95 223.14L218.01 222.13L218.07 221.07L218.14 219.96L218.20 218.80L218.26 217.61L218.32 216.39L218.39 215.15L218.45 213.89L218.51 212.62L218.57 211.34L218.64 210.07L218.70 208.81L218.76 207.56L218.82 206.34L218.89 205.15L218.95 203.99L219.01 202.88L219.07 201.81L219.14 200.80L219.20 199.85L219.26 198.96L219.32 198.14L219.39 197.39L219.45 196.72L219.51 196.13L219.57 195.62L219.64 195.20L219.70 194.86L219.76 194.61L219.82 194.46L219.89 194.39L219.95 194.42L220.01 194.54L220.07 194.74L220.14 195.04L220.20 195.42L220.26 195.88L220.32 196.43L220.39 197.05L220.45 197.76L220.51 198.53L220.57 199.37L220.64 200.27L220.70 201.24L220.76 202.25L220.82 203.32L220.89 204.43L220.95 205.57L221.01 206.75L221.07 207.95L221.14 209.17L221.20 210.41L221.26 211.65L221.32 212.89L221.39 214.13L221.45 215.35L221.51 216.56L221.57 217.75L221.64 218.90L221.70 220.03L221.76 221.11L221.82 222.14L221.89 223.12L221.95 224.05L222.01 224.92L222.07 225.72L222.14 226.45L222.20 227.11L222.26 227.69L222.32 228.20L222.39 228.62L222.45 228.96L222.51 229.22L222.57 229.39L222.64 229.47L222.70 229.46L222.76 229.37L222.82 229.19L222.89 228.92L222.95 228.57L223.01 228.13L223.07 227.61L223.14 227.01L223.20 226.34L223.26 225.59L223.32 224.77L223.39 223.89L223.45 222.94L223.51 221.94L223.57 220.89L223.64 219.79L223.70 218.65L223.76 217.48L223.82 216.27L223.89 215.05L223.95 213.80L224.01 212.54L224.07 211.28L224.14 210.03L224.20 208.78L224.26 207.54L224.32 206.32L224.39 205.14L224.45 203.98L224.51 202.87L224.57 201.80L224.64 200.79L224.70 199.82L224.76 198.93L224.82 198.10L224.89 197.34L224.95 196.65L225.01 196.05L225.07 195.53L225.14 195.09L225.20 194.74L225.26 194.49L225.32 194.33L225.39 194.26L225.45 194.29L225.51 194.41L225.57 194.63L225.64 194.94L225.70 195.34L225.76 195.84L225.82 196.42L225.89 197.09L225.95 197.84L226.01 198.67L226.07 199.58L226.14 200.55L226.20 201.59L226.26 202.69L226.32 203.84L226.39 205.03L226.45 206.27L226.51 207.53L226.57 208.83L226.64 210.14L226.70 211.47L226.76 212.79L226.82 214.12L226.89 215.43L226.95 216.73L227.01 217.99L227.07 219.23L227.14 220.42L227.20 221.57L227.26 222.66L227.32 223.69L227.39 224.65L227.45 225.55L227.51 226.36L227.57 227.09L227.64 227.74L227.70 228.29L227.76 228.75L227.82 229.11L227.89 229.38L227.95 229.54L228.01 229.60L228.07 229.56L228.14 229.42L228.20 229.17L228.26 228.83L228.32 228.39L228.39 227.85L228.45 227.22L228.51 226.50L228.57 225.69L228.64 224.81L228.70 223.84L228.76 222.81L228.82 221.72L228.89 220.57L228.95 219.37L229.01 218.12L229.07 216.84L229.14 215.53L229.20 214.20L229.26 212.86L229.32 211.50L229.39 210.16L229.45 208.82L229.51 207.50L229.57 206.21L229.64 204.94L229.70 203.72L229.76 202.55L229.82 201.43L229.89 200.37L229.95 199.38L230.01 198.46L230.07 197.62L230.14 196.86L230.20 196.19L230.26 195.61L230.32 195.12L230.39 194.73L230.45 194.43L230.51 194.24L230.57 194.15L230.64 194.16L230.70 194.27L230.76 194.48L230.82 194.78L230.89 195.19L230.95 195.69L231.01 196.29L231.07 196.97L231.14 197.73L231.20 198.58L231.26 199.50L231.32 200.49L231.39 201.55L231.45 202.66L231.51 203.83L231.57 205.04L231.64 206.29L231.70 207.57L231.76 208.87L231.82 210.20L231.89 211.53L231.95 212.86L232.01 214.19L232.07 215.51L232.14 216.81L232.20 218.08L232.26 219.31L232.32 220.50L232.39 221.65L232.45 222.74L232.51 223.77L232.57 224.73L232.64 225.62L232.70 226.43L232.76 227.16L232.82 227.81L232.89 228.37L232.95 228.83L233.01 229.20L233.07 229.47L233.14 229.64L233.20 229.72L233.26 229.69L233.32 229.56L233.39 229.33L233.45 229.00L233.51 228.58L233.57 228.06L233.64 227.45L233.70 226.75L233.76 225.97L233.82 225.10L233.89 224.16L233.95 223.15L234.01 222.08L234.07 220.95L234.14 219.76L234.20 218.53L234.26 217.26L234.32 215.96L234.39 214.63L234.45 213.29L234.51 211.94L234.57 210.59L234.64 209.24L234.70 207.91L234.76 206.60L234.82 205.32L234.89 204.08L234.95 202.88L235.01 201.73L235.07 200.64L235.14 199.62L235.20 198.66L235.26 197.78L235.32 196.99L235.39 196.28L235.45 195.66L235.51 195.14L235.57 194.71L235.64 194.38L235.70 194.16L235.76 194.04L235.82 194.03L235.89 194.13L235.95 194.33L236.01 194.63L236.07 195.04L236.14 195.55L236.20 196.16L236.26 196.86L236.32 197.66L236.39 198.54L236.45 199.51L236.51 200.55L236.57 201.66L236.64 202.84L236.70 204.07L236.76 205.35L236.82 206.67L236.89 208.03L236.95 209.41L237.01 210.80L237.07 212.21L237.14 213.61L237.20 215.00L237.26 216.38L237.32 217.73L237.39 219.04L237.45 220.31L237.51 221.53L237.57 222.69L237.64 223.79L237.70 224.81L237.76 225.75L237.82 226.60L237.89 227.37L237.95 228.04L238.01 228.60L238.07 229.07L238.14 229.42L238.20 229.67L238.26 229.80L238.32 229.83L238.39 229.74L238.45 229.54L238.51 229.23L238.57 228.81L238.64 228.28L238.70 227.65L238.76 226.93L238.82 226.11L238.89 225.20L238.95 224.20L239.01 223.13L239.07 221.99L239.14 220.79L239.20 219.53L239.26 218.23L239.32 216.88L239.39 215.51L239.45 214.11L239.51 212.70L239.57 211.28L239.64 209.87L239.70 208.47L239.76 207.09L239.82 205.75L239.89 204.44L239.95 203.18L240.01 201.97L240.07 200.82L240.14 199.75L240.20 198.75L240.26 197.83L240.32 197.00L240.39 196.25L240.45 195.61L240.51 195.06L240.57 194.62L240.64 194.29L240.70 194.06L240.76 193.94L240.82 193.92L240.89 194.02L240.95 194.22L241.01 194.53L241.07 194.95L241.14 195.47L241.20 196.08L241.26 196.79L241.32 197.59L241.39 198.47L241.45 199.44L241.51 200.48L241.57 201.58L241.64 202.75L241.70 203.97L241.76 205.24L241.82 206.54L241.89 207.88L241.95 209.24L242.01 210.62L242.07 212.01L242.14 213.39L242.20 214.76L242.26 216.12L242.32 217.45L242.39 218.75L242.45 220.01L242.51 221.22L242.57 222.38L242.64 223.47L242.70 224.50L242.76 225.45L242.82 226.32L242.89 227.11L242.95 227.81L243.01 228.41L243.07 228.92L243.14 229.33L243.20 229.63L243.26 229.84L243.32 229.93L243.39 229.92L243.45 229.81L243.51 229.59L243.57 229.26L243.64 228.84L243.70 228.31L243.76 227.69L243.82 226.98L243.89 226.17L243.95 225.28L244.01 224.32L244.07 223.28L244.14 222.17L244.20 221.00L244.26 219.78L244.32 218.51L244.39 217.20L244.45 215.86L244.51 214.50L244.57 213.12L244.64 211.73L244.70 210.34L244.76 208.96L244.82 207.60L244.89 206.26L244.95 204.95L245.01 203.69L245.07 202.47L245.14 201.31L245.20 200.21L245.26 199.18L245.32 198.22L245.39 197.35L245.45 196.56L245.51 195.86L245.57 195.26L245.64 194.76L245.70 194.36L245.76 194.07L245.82 193.88L245.89 193.81L245.95 193.84L246.01 193.98L246.07 194.23L246.14 194.58L246.20 195.04L246.26 195.61L246.32 196.27L246.39 197.02L246.45 197.87L246.51 198.80L246.57 199.81L246.64 200.89L246.70 202.04L246.76 203.25L246.82 204.52L246.89 205.83L246.95 207.17L247.01 208.55L247.07 209.94L247.14 211.35L247.20 212.76L247.26 214.17L247.32 215.56L247.39 216.93L247.45 218.28L247.51 219.58L247.57 220.84L247.64 222.04L247.70 223.18L247.76 224.26L247.82 225.26L247.89 226.17L247.95 227.01L248.01 227.75L248.07 228.39L248.14 228.93L248.20 229.37L248.26 229.70L248.32 229.93L248.39 230.04L248.45 230.04L248.51 229.93L248.57 229.71L248.64 229.38L248.70 228.94L248.76 228.40L248.82 227.76L248.89 227.01L248.95 226.18L249.01 225.25L249.07 224.24L249.14 223.16L249.20 222.00L249.26 220.78L249.32 219.51L249.39 218.18L249.45 216.82L249.51 215.42L249.57 214.00L249.64 212.57L249.70 211.13L249.76 209.70L249.82 208.28L249.89 206.88L249.95 205.51L250.01 204.18L250.07 202.89L250.14 201.67L250.20 200.50L250.26 199.41L250.32 198.40L250.39 197.47L250.45 196.63L250.51 195.89L250.57 195.25L250.64 194.71L250.70 194.29L250.76 193.97L250.82 193.77L250.89 193.69L250.95 193.72L251.01 193.87L251.07 194.14L251.14 194.52L251.20 195.02L251.26 195.63L251.32 196.34L251.39 197.16L251.45 198.07L251.51 199.07L251.57 200.17L251.64 201.34L251.70 202.58L251.76 203.88L251.82 205.24L251.89 206.64L251.95 208.08L252.01 209.55L252.07 211.03L252.14 212.52L252.20 214.01L252.26 215.49L252.32 216.94L252.39 218.36L252.45 219.74L252.51 221.06L252.57 222.33L252.64 223.52L252.70 224.64L252.76 225.67L252.82 226.61L252.89 227.45L252.95 228.19L253.01 228.81L253.07 229.32L253.14 229.72L253.20 229.99L253.26 230.14L253.32 230.17L253.39 230.07L253.45 229.85L253.51 229.50L253.57 229.04L253.64 228.46L253.70 227.77L253.76 226.96L253.82 226.06L253.89 225.06L253.95 223.97L254.01 222.80L254.07 221.56L254.14 220.25L254.20 218.88L254.26 217.47L254.32 216.02L254.39 214.54L254.45 213.05L254.51 211.54L254.57 210.04L254.64 208.55L254.70 207.09L254.76 205.66L254.82 204.27L254.89 202.93L254.95 201.66L255.01 200.45L255.07 199.32L255.14 198.28L255.20 197.32L255.26 196.47L255.32 195.71L255.39 195.07L255.45 194.53L255.51 194.11L255.57 193.81L255.64 193.63L255.70 193.57L255.76 193.63L255.82 193.81L255.89 194.10L255.95 194.51L256.01 195.04L256.07 195.67L256.14 196.40L256.20 197.24L256.26 198.17L256.32 199.18L256.39 200.28L256.45 201.45L256.51 202.69L256.57 203.98L256.64 205.32L256.70 206.71L256.76 208.13L256.82 209.57L256.89 211.02L256.95 212.48L257.01 213.93L257.07 215.38L257.14 216.80L257.20 218.18L257.26 219.53L257.32 220.83L257.39 222.08L257.45 223.26L257.51 224.37L257.57 225.40L257.64 226.34L257.70 227.20L257.76 227.96L257.82 228.62L257.89 229.17L257.95 229.62L258.01 229.95L258.07 230.18L258.14 230.28L258.20 230.28L258.26 230.15L258.32 229.91L258.39 229.56L258.45 229.10L258.51 228.52L258.57 227.85L258.64 227.07L258.70 226.19L258.76 225.22L258.82 224.17L258.89 223.04L258.95 221.83L259.01 220.57L259.07 219.24L259.14 217.87L259.20 216.45L259.26 215.01L259.32 213.55L259.39 212.07L259.45 210.59L259.51 209.11L259.57 207.65L259.64 206.22L259.70 204.82L259.76 203.47L259.82 202.17L259.89 200.93L259.95 199.76L260.01 198.67L260.07 197.67L260.14 196.76L260.20 195.95L260.26 195.24L260.32 194.65L260.39 194.17L260.45 193.81L260.51 193.57L260.57 193.45L260.64 193.46L260.70 193.60L260.76 193.86L260.82 194.25L260.89 194.76L260.95 195.39L261.01 196.14L261.07 197.00L261.14 197.97L261.20 199.03L261.26 200.19L261.32 201.43L261.39 202.75L261.45 204.13L261.51 205.57L261.57 207.06L261.64 208.59L261.70 210.14L261.76 211.70L261.82 213.27L261.89 214.83L261.95 216.38L262.01 217.89L262.07 219.36L262.14 220.77L262.20 222.13L262.26 223.41L262.32 224.61L262.39 225.71L262.45 226.72L262.51 227.61L262.57 228.40L262.64 229.06L262.70 229.59L262.76 230.00L262.82 230.27L262.89 230.41L262.95 230.41L263.01 230.27L263.07 230.00L263.14 229.59L263.20 229.05L263.26 228.38L263.32 227.59L263.39 226.69L263.45 225.67L263.51 224.55L263.57 223.34L263.64 222.04L263.70 220.66L263.76 219.22L263.82 217.73L263.89 216.19L263.95 214.62L264.01 213.03L264.07 211.43L264.14 209.84L264.20 208.26L264.26 206.70L264.32 205.19L264.39 203.72L264.45 202.32L264.51 200.99L264.57 199.74L264.64 198.58L264.70 197.51L264.76 196.56L264.82 195.71L264.89 194.99L264.95 194.39L265.01 193.92L265.07 193.58L265.14 193.38L265.20 193.31L265.26 193.37L265.32 193.57L265.39 193.91L265.45 194.37L265.51 194.96L265.57 195.68L265.64 196.51L265.70 197.45L265.76 198.49L265.82 199.64L265.89 200.87L265.95 202.18L266.01 203.56L266.07 205.00L266.14 206.49L266.20 208.02L266.26 209.57L266.32 211.15L266.39 212.72L266.45 214.30L266.51 215.85L266.57 217.38L266.64 218.87L266.70 220.31L266.76 221.69L266.82 223.00L266.89 224.23L266.95 225.37L267.01 226.41L267.07 227.35L267.14 228.18L267.20 228.90L267.26 229.49L267.32 229.95L267.39 230.29L267.45 230.49L267.51 230.57L267.57 230.50L267.64 230.30L267.70 229.97L267.76 229.51L267.82 228.92L267.89 228.21L267.95 227.37L268.01 226.43L268.07 225.38L268.14 224.23L268.20 222.99L268.26 221.67L268.32 220.28L268.39 218.82L268.45 217.31L268.51 215.77L268.57 214.19L268.64 212.59L268.70 210.99L268.76 209.39L268.82 207.81L268.89 206.26L268.95 204.74L269.01 203.28L269.07 201.88L269.14 200.56L269.20 199.31L269.26 198.16L269.32 197.11L269.39 196.17L269.45 195.35L269.51 194.65L269.57 194.08L269.64 193.64L269.70 193.35L269.76 193.19L269.82 193.17L269.89 193.30L269.95 193.57L270.01 193.98L270.07 194.53L270.14 195.21L270.20 196.02L270.26 196.96L270.32 198.02L270.39 199.19L270.45 200.45L270.51 201.81L270.57 203.25L270.64 204.76L270.70 206.33L270.76 207.95L270.82 209.59L270.89 211.26L270.95 212.94L271.01 214.60L271.07 216.25L271.14 217.87L271.20 219.44L271.26 220.95L271.32 222.38L271.39 223.74L271.45 225.00L271.51 226.16L271.57 227.20L271.64 228.12L271.70 228.91L271.76 229.56L271.82 230.07L271.89 230.44L271.95 230.65L272.01 230.71L272.07 230.62L272.14 230.38L272.20 229.99L272.26 229.45L272.32 228.77L272.39 227.96L272.45 227.01L272.51 225.94L272.57 224.76L272.64 223.47L272.70 222.09L272.76 220.63L272.82 219.09L272.89 217.50L272.95 215.87L273.01 214.20L273.07 212.51L273.14 210.82L273.20 209.14L273.26 207.48L273.32 205.86L273.39 204.29L273.45 202.78L273.51 201.34L273.57 199.99L273.64 198.73L273.70 197.58L273.76 196.54L273.82 195.62L273.89 194.84L273.95 194.18L274.01 193.67L274.07 193.30L274.14 193.08L274.20 193.01L274.26 193.08L274.32 193.29L274.39 193.66L274.45 194.16L274.51 194.80L274.57 195.57L274.64 196.46L274.70 197.48L274.76 198.60L274.82 199.83L274.89 201.15L274.95 202.55L275.01 204.02L275.07 205.55L275.14 207.13L275.20 208.74L275.26 210.38L275.32 212.03L275.39 213.67L275.45 215.31L275.51 216.91L275.57 218.48L275.64 220.00L275.70 221.46L275.76 222.85L275.82 224.15L275.89 225.36L275.95 226.47L276.01 227.47L276.07 228.35L276.14 229.11L276.20 229.74L276.26 230.23L276.32 230.59L276.39 230.80L276.45 230.88L276.51 230.81L276.57 230.60L276.64 230.25L276.70 229.75L276.76 229.13L276.82 228.37L276.89 227.50L276.95 226.50L277.01 225.39L277.07 224.18L277.14 222.88L277.20 221.49L277.26 220.03L277.32 218.51L277.39 216.93L277.45 215.32L277.51 213.68L277.57 212.03L277.64 210.37L277.70 208.72L277.76 207.10L277.82 205.51L277.89 203.97L277.95 202.49L278.01 201.08L278.07 199.75L278.14 198.51L278.20 197.38L278.26 196.35L278.32 195.45L278.39 194.67L278.45 194.02L278.51 193.51L278.57 193.14L278.64 192.91L278.70 192.84L278.76 192.91L278.82 193.13L278.89 193.49L278.95 194.00L279.01 194.65L279.07 195.43L279.14 196.35L279.20 197.38L279.26 198.53L279.32 199.78L279.39 201.12L279.45 202.55L279.51 204.06L279.57 205.62L279.64 207.24L279.70 208.89L279.76 210.57L279.82 212.25L279.89 213.94L279.95 215.61L280.01 217.25L280.07 218.86L280.14 220.40L280.20 221.89L280.26 223.29L280.32 224.61L280.39 225.82L280.45 226.93L280.51 227.92L280.57 228.79L280.64 229.52L280.70 230.12L280.76 230.57L280.82 230.87L280.89 231.03L280.95 231.03L281.01 230.88L281.07 230.59L281.14 230.14L281.20 229.54L281.26 228.81L281.32 227.94L281.39 226.95L281.45 225.83L281.51 224.60L281.57 223.26L281.64 221.84L281.70 220.33L281.76 218.75L281.82 217.12L281.89 215.44L281.95 213.74L282.01 212.02L282.07 210.29L282.14 208.58L282.20 206.89L282.26 205.24L282.32 203.64L282.39 202.11L282.45 200.65L282.51 199.29L282.57 198.03L282.64 196.88L282.70 195.85L282.76 194.96L282.82 194.20L282.89 193.59L282.95 193.13L283.01 192.82L283.07 192.68L283.14 192.69L283.20 192.86L283.26 193.20L283.32 193.69L283.39 194.34L283.45 195.13L283.51 196.07L283.57 197.14L283.64 198.34L283.70 199.66L283.76 201.09L283.82 202.61L283.89 204.21L283.95 205.88L284.01 207.60L284.07 209.36L284.14 211.15L284.20 212.94L284.26 214.73L284.32 216.50L284.39 218.22L284.45 219.90L284.51 221.50L284.57 223.02L284.64 224.45L284.70 225.77L284.76 226.97L284.82 228.03L284.89 228.96L284.95 229.73L285.01 230.35L285.07 230.81L285.14 231.10L285.20 231.22L285.26 231.17L285.32 230.95L285.39 230.56L285.45 230.01L285.51 229.29L285.57 228.42L285.64 227.41L285.70 226.25L285.76 224.97L285.82 223.57L285.89 222.07L285.95 220.47L286.01 218.81L286.07 217.07L286.14 215.30L286.20 213.49L286.26 211.67L286.32 209.85L286.39 208.04L286.45 206.28L286.51 204.56L286.57 202.90L286.64 201.33L286.70 199.85L286.76 198.48L286.82 197.22L286.89 196.10L286.95 195.11L287.01 194.27L287.07 193.59L287.14 193.07L287.20 192.71L287.26 192.52L287.32 192.50L287.39 192.65L287.45 192.97L287.51 193.45L287.57 194.10L287.64 194.90L287.70 195.85L287.76 196.95L287.82 198.17L287.89 199.52L287.95 200.97L288.01 202.52L288.07 204.16L288.14 205.86L288.20 207.62L288.26 209.42L288.32 211.24L288.39 213.06L288.45 214.88L288.51 216.67L288.57 218.42L288.64 220.11L288.70 221.73L288.76 223.26L288.82 224.70L288.89 226.02L288.95 227.22L289.01 228.28L289.07 229.20L289.14 229.97L289.20 230.58L289.26 231.02L289.32 231.30L289.39 231.41L289.45 231.34L289.51 231.10L289.57 230.70L289.64 230.13L289.70 229.40L289.76 228.52L289.82 227.49L289.89 226.32L289.95 225.03L290.01 223.62L290.07 222.11L290.14 220.52L290.20 218.84L290.26 217.11L290.32 215.33L290.39 213.52L290.45 211.70L290.51 209.88L290.57 208.07L290.64 206.30L290.70 204.58L290.76 202.93L290.82 201.35L290.89 199.86L290.95 198.48L291.01 197.21L291.07 196.07L291.14 195.07L291.20 194.21L291.26 193.51L291.32 192.96L291.39 192.57L291.45 192.35L291.51 192.30L291.57 192.41L291.64 192.69L291.70 193.13L291.76 193.74L291.82 194.49L291.89 195.39L291.95 196.43L292.01 197.60L292.07 198.89L292.14 200.29L292.20 201.78L292.26 203.36L292.32 205.01L292.39 206.72L292.45 208.47L292.51 210.25L292.57 212.04L292.64 213.83L292.70 215.60L292.76 217.34L292.82 219.04L292.89 220.67L292.95 222.24L293.01 223.72L293.07 225.10L293.14 226.37L293.20 227.53L293.26 228.55L293.32 229.44L293.39 230.18L293.45 230.77L293.51 231.21L293.57 231.49L293.64 231.60L293.70 231.56L293.76 231.35L293.82 230.98L293.89 230.46L293.95 229.78L294.01 228.95L294.07 227.99L294.14 226.89L294.20 225.66L294.26 224.32L294.32 222.88L294.39 221.35L294.45 219.73L294.51 218.05L294.57 216.32L294.64 214.55L294.70 212.76L294.76 210.96L294.82 209.16L294.89 207.39L294.95 205.65L295.01 203.96L295.07 202.34L295.14 200.79L295.20 199.34L295.26 197.99L295.32 196.76L295.39 195.65L295.45 194.68L295.51 193.85L295.57 193.18L295.64 192.66L295.70 192.30L295.76 192.11L295.82 192.09L295.89 192.24L295.95 192.56L296.01 193.04L296.07 193.68L296.14 194.48L296.20 195.43L296.26 196.52L296.32 197.74L296.39 199.08L296.45 200.53L296.51 202.08L296.57 203.72L296.64 205.42L296.70 207.18L296.76 208.99L296.82 210.82L296.89 212.65L296.95 214.49L297.01 216.30L297.07 218.08L297.14 219.80L297.20 221.46L297.26 223.03L297.32 224.52L297.39 225.89L297.45 227.15L297.51 228.27L297.57 229.25L297.64 230.09L297.70 230.77L297.76 231.28L297.82 231.63L297.89 231.81L297.95 231.81L298.01 231.64L298.07 231.30L298.14 230.79L298.20 230.12L298.26 229.28L298.32 228.29L298.39 227.16L298.45 225.89L298.51 224.50L298.57 223.00L298.64 221.40L298.70 219.71L298.76 217.95L298.82 216.13L298.89 214.28L298.95 212.40L299.01 210.52L299.07 208.65L299.14 206.80L299.20 204.99L299.26 203.25L299.32 201.58L299.39 200.00L299.45 198.53L299.51 197.17L299.57 195.95L299.64 194.87L299.70 193.94L299.76 193.17L299.82 192.58L299.89 192.16L299.95 191.92L300.01 191.86L300.07 191.98L300.14 192.29L300.20 192.78L300.26 193.45L300.32 194.29L300.39 195.30L300.45 196.46L300.51 197.77L300.57 199.22L300.64 200.78L300.70 202.46L300.76 204.22L300.82 206.06L300.89 207.96L300.95 209.90L301.01 211.86L301.07 213.83L301.14 215.77L301.20 217.69L301.26 219.55L301.32 221.33L301.39 223.03L301.45 224.63L301.51 226.10L301.57 227.44L301.64 228.62L301.70 229.65L301.76 230.51L301.82 231.18L301.89 231.67L301.95 231.96L302.01 232.06L302.07 231.97L302.14 231.68L302.20 231.19L302.26 230.52L302.32 229.66L302.39 228.63L302.45 227.43L302.51 226.09L302.57 224.60L302.64 222.99L302.70 221.27L302.76 219.45L302.82 217.57L302.89 215.62L302.95 213.64L303.01 211.64L303.07 209.65L303.14 207.67L303.20 205.74L303.26 203.87L303.32 202.07L303.39 200.37L303.45 198.79L303.51 197.33L303.57 196.01L303.64 194.85L303.70 193.85L303.76 193.03L303.82 192.39L303.89 191.94L303.95 191.68L304.01 191.62L304.07 191.75L304.14 192.08L304.20 192.59L304.26 193.30L304.32 194.18L304.39 195.23L304.45 196.44L304.51 197.80L304.57 199.30L304.64 200.91L304.70 202.63L304.76 204.44L304.82 206.33L304.89 208.26L304.95 210.23L305.01 212.22L305.07 214.21L305.14 216.17L305.20 218.09L305.26 219.96L305.32 221.75L305.39 223.44L305.45 225.03L305.51 226.49L305.57 227.81L305.64 228.99L305.70 229.99L305.76 230.83L305.82 231.49L305.89 231.95L305.95 232.23L306.01 232.31L306.07 232.20L306.14 231.89L306.20 231.40L306.26 230.71L306.32 229.84L306.39 228.80L306.45 227.60L306.51 226.24L306.57 224.75L306.64 223.13L306.70 221.40L306.76 219.58L306.82 217.69L306.89 215.73L306.95 213.74L307.01 211.73L307.07 209.71L307.14 207.72L307.20 205.77L307.26 203.87L307.32 202.05L307.39 200.32L307.45 198.71L307.51 197.22L307.57 195.87L307.64 194.68L307.70 193.66L307.76 192.81L307.82 192.15L307.89 191.69L307.95 191.42L308.01 191.35L308.07 191.49L308.14 191.83L308.20 192.37L308.26 193.10L308.32 194.02L308.39 195.12L308.45 196.39L308.51 197.81L308.57 199.37L308.64 201.05L308.70 202.85L308.76 204.74L308.82 206.70L308.89 208.72L308.95 210.77L309.01 212.83L309.07 214.88L309.14 216.91L309.20 218.89L309.26 220.80L309.32 222.62L309.39 224.33L309.45 225.92L309.51 227.38L309.57 228.67L309.64 229.80L309.70 230.75L309.76 231.51L309.82 232.07L309.89 232.43L309.95 232.58L310.01 232.52L310.07 232.26L310.14 231.78L310.20 231.11L310.26 230.23L310.32 229.17L310.39 227.94L310.45 226.54L310.51 224.98L310.57 223.30L310.64 221.49L310.70 219.59L310.76 217.60L310.82 215.56L310.89 213.48L310.95 211.37L311.01 209.28L311.07 207.20L311.14 205.18L311.20 203.22L311.26 201.35L311.32 199.58L311.39 197.94L311.45 196.45L311.51 195.11L311.57 193.95L311.64 192.97L311.70 192.18L311.76 191.60L311.82 191.23L311.89 191.07L311.95 191.13L312.01 191.41L312.07 191.90L312.14 192.60L312.20 193.51L312.26 194.60L312.32 195.88L312.39 197.33L312.45 198.94L312.51 200.68L312.57 202.55L312.64 204.51L312.70 206.56L312.76 208.66L312.82 210.80L312.89 212.95L312.95 215.10L313.01 217.21L313.07 219.27L313.14 221.25L313.20 223.14L313.26 224.90L313.32 226.53L313.39 228.00L313.45 229.31L313.51 230.42L313.57 231.34L313.64 232.05L313.70 232.55L313.76 232.82L313.82 232.87L313.89 232.69L313.95 232.30L314.01 231.68L314.07 230.84L314.14 229.81L314.20 228.58L314.26 227.17L314.32 225.59L314.39 223.87L314.45 222.02L314.51 220.06L314.57 218.00L314.64 215.89L314.70 213.73L314.76 211.54L314.82 209.36L314.89 207.21L314.95 205.11L315.01 203.08L315.07 201.14L315.14 199.32L315.20 197.63L315.26 196.10L315.32 194.73L315.39 193.55L315.45 192.57L315.51 191.79L315.57 191.23L315.64 190.88L315.70 190.77L315.76 190.87L315.82 191.20L315.89 191.75L315.95 192.52L316.01 193.48L316.07 194.64L316.14 195.97L316.20 197.48L316.26 199.13L316.32 200.91L316.39 202.81L316.45 204.79L316.51 206.86L316.57 208.97L316.64 211.12L316.70 213.27L316.76 215.41L316.82 217.51L316.89 219.55L316.95 221.52L317.01 223.39L317.07 225.15L317.14 226.76L317.20 228.23L317.26 229.53L317.32 230.65L317.39 231.58L317.45 232.30L317.51 232.82L317.57 233.12L317.64 233.20L317.70 233.05L317.76 232.69L317.82 232.11L317.89 231.32L317.95 230.32L318.01 229.13L318.07 227.75L318.14 226.20L318.20 224.50L318.26 222.66L318.32 220.70L318.39 218.64L318.45 216.50L318.51 214.30L318.57 212.08L318.64 209.84L318.70 207.62L318.76 205.44L318.82 203.33L318.89 201.31L318.95 199.39L319.01 197.62L319.07 195.99L319.14 194.55L319.20 193.30L319.26 192.25L319.32 191.44L319.39 190.86L319.45 190.52L319.51 190.44L319.57 190.61L319.64 191.05L319.70 191.73L319.76 192.67L319.82 193.84L319.89 195.24L319.95 196.86L320.01 198.66L320.07 200.64L320.14 202.77L320.20 205.03L320.26 207.38L320.32 209.79L320.39 212.24L320.45 214.69L320.51 217.11L320.57 219.47L320.64 221.73L320.70 223.88L320.76 225.86L320.82 227.67L320.89 229.27L320.95 230.64L321.01 231.77L321.07 232.62L321.14 233.20L321.20 233.49L321.26 233.49L321.32 233.19L321.39 232.60L321.45 231.73L321.51 230.58L321.57 229.17L321.64 227.53L321.70 225.67L321.76 223.61L321.82 221.39L321.89 219.04L321.95 216.59L322.01 214.07L322.07 211.51L322.14 208.97L322.20 206.46L322.26 204.02L322.32 201.69L322.39 199.51L322.45 197.49L322.51 195.67L322.57 194.08L322.64 192.73L322.70 191.65L322.76 190.85L322.82 190.34L322.89 190.12L322.95 190.21L323.01 190.59L323.07 191.26L323.14 192.22L323.20 193.45L323.26 194.93L323.32 196.65L323.39 198.57L323.45 200.69L323.51 202.96L323.57 205.35L323.64 207.84L323.70 210.38L323.76 212.95L323.82 215.51L323.89 218.02L323.95 220.45L324.01 222.77L324.07 224.93L324.14 226.92L324.20 228.71L324.26 230.26L324.32 231.56L324.39 232.59L324.45 233.33L324.51 233.77L324.57 233.90L324.64 233.73L324.70 233.25L324.76 232.47L324.82 231.39L324.89 230.04L324.95 228.43L325.01 226.58L325.07 224.51L325.14 222.26L325.20 219.86L325.26 217.34L325.32 214.73L325.39 212.08L325.45 209.42L325.51 206.79L325.57 204.22L325.64 201.77L325.70 199.45L325.76 197.31L325.82 195.38L325.89 193.69L325.95 192.26L326.01 191.13L326.07 190.29L326.14 189.78L326.20 189.61L326.26 189.76L326.32 190.25L326.39 191.08L326.45 192.22L326.51 193.67L326.57 195.40L326.64 197.40L326.70 199.63L326.76 202.06L326.82 204.65L326.89 207.36L326.95 210.16L327.01 212.99L327.07 215.81L327.14 218.57L327.20 221.24L327.26 223.77L327.32 226.11L327.39 228.23L327.45 230.09L327.51 231.66L327.57 232.92L327.64 233.84L327.70 234.40L327.76 234.60L327.82 234.43L327.89 233.89L327.95 233.00L328.01 231.75L328.07 230.18L328.14 228.30L328.20 226.16L328.26 223.77L328.32 221.19L328.39 218.46L328.45 215.61L328.51 212.69L328.57 209.77L328.64 206.87L328.70 204.05L328.76 201.36L328.82 198.84L328.89 196.53L328.95 194.47L329.01 192.69L329.07 191.22L329.14 190.08L329.20 189.30L329.26 188.88L329.32 188.83L329.39 189.16L329.45 189.84L329.51 190.89L329.57 192.27L329.64 193.96L329.70 195.95L329.76 198.19L329.82 200.65L329.89 203.30L329.95 206.09L330.01 208.97L330.07 211.90L330.14 214.83L330.20 217.72L330.26 220.52L330.32 223.18L330.39 225.66L330.45 227.92L330.51 229.93L330.57 231.65L330.64 233.05L330.70 234.11L330.76 234.82L330.82 235.17L330.89 235.14L330.95 234.73L331.01 233.96L331.07 232.84L331.14 231.38L331.20 229.61L331.26 227.55L331.32 225.24L331.39 222.72L331.45 220.02L331.51 217.18L331.57 214.27L331.64 211.31L331.70 208.36L331.76 205.46L331.82 202.67L331.89 200.02L331.95 197.56L332.01 195.32L332.07 193.35L332.14 191.68L332.20 190.33L332.26 189.32L332.32 188.68L332.39 188.40L332.45 188.51L332.51 188.98L332.57 189.82L332.64 191.01L332.70 192.54L332.76 194.37L332.82 196.48L332.89 198.83L332.95 201.39L333.01 204.11L333.07 206.96L333.14 209.89L333.20 212.85L333.26 215.80L333.32 218.69L333.39 221.48L333.45 224.12L333.51 226.58L333.57 228.80L333.64 230.77L333.70 232.44L333.76 233.79L333.82 234.80L333.89 235.45L333.95 235.73L334.01 235.64L334.07 235.17L334.14 234.34L334.20 233.14L334.26 231.61L334.32 229.76L334.39 227.61L334.45 225.22L334.51 222.60L334.57 219.80L334.64 216.86L334.70 213.84L334.76 210.78L334.82 207.72L334.89 204.72L334.95 201.83L335.01 199.09L335.07 196.56L335.14 194.27L335.20 192.27L335.26 190.59L335.32 189.26L335.39 188.30L335.45 187.75L335.51 187.60L335.57 187.87L335.64 188.56L335.70 189.65L335.76 191.14L335.82 192.99L335.89 195.18L335.95 197.68L336.01 200.44L336.07 203.42L336.14 206.55L336.20 209.80L336.26 213.10L336.32 216.39L336.39 219.62L336.45 222.71L336.51 225.63L336.57 228.30L336.64 230.68L336.70 232.73L336.76 234.40L336.82 235.66L336.89 236.49L336.95 236.87L337.01 236.78L337.07 236.23L337.14 235.22L337.20 233.78L337.26 231.92L337.32 229.68L337.39 227.11L337.45 224.24L337.51 221.12L337.57 217.83L337.64 214.42L337.70 210.95L337.76 207.49L337.82 204.11L337.89 200.86L337.95 197.82L338.01 195.04L338.07 192.56L338.14 190.45L338.20 188.74L338.26 187.45L338.32 186.63L338.39 186.27L338.45 186.40L338.51 187.00L338.57 188.06L338.64 189.57L338.70 191.49L338.76 193.79L338.82 196.43L338.89 199.36L338.95 202.53L339.01 205.87L339.07 209.32L339.14 212.83L339.20 216.32L339.26 219.74L339.32 223.01L339.39 226.09L339.45 228.90L339.51 231.41L339.57 233.56L339.64 235.30L339.70 236.62L339.76 237.48L339.82 237.86L339.89 237.75L339.95 237.16L340.01 236.10L340.07 234.58L340.14 232.62L340.20 230.27L340.26 227.56L340.32 224.55L340.39 221.29L340.45 217.84L340.51 214.27L340.57 210.64L340.64 207.02L340.70 203.49L340.76 200.11L340.82 196.95L340.89 194.08L340.95 191.55L341.01 189.41L341.07 187.72L341.14 186.51L341.20 185.81L341.26 185.63L341.32 185.99L341.39 186.88L341.45 188.29L341.51 190.20L341.57 192.56L341.64 195.32L341.70 198.45L341.76 201.87L341.82 205.51L341.89 209.29L341.95 213.15L342.01 216.99L342.07 220.73L342.14 224.29L342.20 227.60L342.26 230.58L342.32 233.16L342.39 235.29L342.45 236.91L342.51 237.99L342.57 238.51L342.64 238.43L342.70 237.77L342.76 236.54L342.82 234.76L342.89 232.46L342.95 229.69L343.01 226.52L343.07 223.01L343.14 219.24L343.20 215.30L343.26 211.26L343.32 207.23L343.39 203.30L343.45 199.55L343.51 196.07L343.57 192.94L343.64 190.25L343.70 188.04L343.76 186.38L343.82 185.31L343.89 184.84L343.95 185.01L344.01 185.80L344.07 187.21L344.14 189.19L344.20 191.71L344.26 194.71L344.32 198.12L344.39 201.87L344.45 205.87L344.51 210.02L344.57 214.23L344.64 218.40L344.70 222.43L344.76 226.22L344.82 229.68L344.89 232.73L344.95 235.28L345.01 237.27L345.07 238.66L345.14 239.40L345.20 239.46L345.26 238.86L345.32 237.58L345.39 235.66L345.45 233.14L345.51 230.09L345.57 226.56L345.64 222.65L345.70 218.45L345.76 214.07L345.82 209.61L345.89 205.19L345.95 200.93L346.01 196.93L346.07 193.30L346.14 190.14L346.20 187.54L346.26 185.57L346.32 184.29L346.39 183.73L346.45 183.93L346.51 184.89L346.57 186.60L346.64 189.02L346.70 192.09L346.76 195.74L346.82 199.87L346.89 204.37L346.95 209.11L347.01 213.96L347.07 218.76L347.14 223.39L347.20 227.69L347.26 231.55L347.32 234.83L347.39 237.44L347.45 239.30L347.51 240.33L347.57 240.52L347.64 239.85L347.70 238.34L347.76 236.03L347.82 233.00L347.89 229.32L347.95 225.13L348.01 220.53L348.07 215.68L348.14 210.72L348.20 205.79L348.26 201.04L348.32 196.61L348.39 192.64L348.45 189.22L348.51 186.47L348.57 184.44L348.64 183.19L348.70 182.76L348.76 183.13L348.82 184.30L348.89 186.22L348.95 188.84L349.01 192.07L349.07 195.84L349.14 200.02L349.20 204.52L349.26 209.22L349.32 213.98L349.39 218.69L349.45 223.23L349.51 227.47L349.57 231.31L349.64 234.66L349.70 237.43L349.76 239.54L349.82 240.94L349.89 241.59L349.95 241.48L350.01 240.60L350.07 238.97L350.14 236.63L350.20 233.64L350.26 230.06L350.32 225.99L350.39 221.53L350.45 216.79L350.51 211.90L350.57 206.97L350.64 202.16L350.70 197.57L350.76 193.36L350.82 189.63L350.89 186.49L350.95 184.06L351.01 182.39L351.07 181.57L351.14 181.62L351.20 182.55L351.26 184.34L351.32 186.93L351.39 190.26L351.45 194.22L351.51 198.71L351.57 203.60L351.64 208.75L351.70 214.01L351.76 219.24L351.82 224.27L351.89 228.97L351.95 233.17L352.01 236.77L352.07 239.63L352.14 241.67L352.20 242.81L352.26 243.00L352.32 242.22L352.39 240.48L352.45 237.82L352.51 234.31L352.57 230.03L352.64 225.12L352.70 219.73L352.76 214.02L352.82 208.19L352.89 202.42L352.95 196.92L353.01 191.91L353.07 187.55L353.14 184.05L353.20 181.54L353.26 180.15L353.32 179.97L353.39 181.03L353.45 183.35L353.51 186.87L353.57 191.46L353.64 196.99L353.70 203.22L353.76 209.91L353.82 216.77L353.89 223.49L353.95 229.76L354.01 235.28L354.07 239.76L354.14 242.98L354.20 244.74L354.26 244.92L354.32 243.49L354.39 240.48L354.45 236.01L354.51 230.28L354.57 223.56L354.64 216.18L354.70 208.51L354.76 200.94L354.82 193.88L354.89 187.70L354.95 182.74L355.01 179.29L355.07 177.54L355.14 177.61L355.20 179.51L355.26 183.17L355.32 188.40L355.39 194.96L355.45 202.50L355.51 210.64L355.57 218.94L355.64 226.95L355.70 234.21L355.76 240.31L355.82 244.87L355.89 247.58L355.95 248.23L356.00 247.21L356.01 246.74L356.02 246.18L356.04 245.54L356.05 244.81L356.06 244.00L356.07 243.11L356.07 243.11L356.09 242.15L356.10 241.10L356.11 239.98L356.12 238.78L356.14 237.52L356.14 237.52L356.15 236.18L356.16 234.78L356.17 233.32L356.19 231.80L356.20 230.22L356.20 230.22L356.21 228.60L356.22 226.92L356.24 225.20L356.25 223.44L356.26 221.64L356.26 221.64L356.27 219.81L356.29 217.95L356.30 216.07L356.31 214.18L356.32 212.27L356.32 212.27L356.34 210.35L356.35 208.43L356.36 206.50L356.37 204.59L356.39 202.69L356.39 202.69L356.40 200.80L356.41 198.94L356.42 197.11L356.44 195.30L356.45 193.54L356.45 193.54L356.46 191.81L356.47 190.14L356.49 188.52L356.50 186.95L356.51 185.45L356.51 185.45L356.52 184.02L356.54 182.65L356.55 181.37L356.56 180.16L356.57 179.04L356.57 179.04L356.59 178.00L356.60 177.06L356.61 176.21L356.62 175.47L356.64 174.82L356.64 174.82L356.65 174.28L356.66 173.84L356.67 173.52L356.69 173.30L356.70 173.20L356.70 173.20L356.71 173.21L356.72 173.34L356.74 173.58L356.75 173.93L356.76 174.39L356.76 174.39L356.77 174.96L356.79 175.64L356.80 176.43L356.81 177.32L356.82 178.31L356.82 178.31L356.84 179.40L356.85 180.59L356.86 181.87L356.87 183.25L356.89 184.71L356.89 184.71L356.90 186.25L356.91 187.87L356.92 189.57L356.94 191.34L356.95 193.17L356.95 193.17L356.96 195.07L356.97 197.02L356.99 199.02L357.00 201.07L357.01 203.16L357.01 203.16L357.02 205.28L357.04 207.44L357.05 209.61L357.06 211.80L357.07 214.01L357.07 214.01L357.09 216.22L357.10 218.42L357.11 220.62L357.12 222.80L357.14 224.96L357.14 224.96L357.15 227.10L357.16 229.20L357.17 231.26L357.19 233.27L357.20 235.22L357.20 235.22L357.21 237.11L357.22 238.94L357.24 240.69L357.25 242.37L357.26 243.95L357.26 243.95L357.27 245.44L357.29 246.84L357.30 248.13L357.31 249.30L357.32 250.37L357.32 250.37L357.34 251.31L357.35 252.13L357.36 252.82L357.37 253.37L357.39 253.78L357.39 253.78L357.40 254.06L357.41 254.18L357.42 254.17L357.44 254.00L357.45 253.68L357.45 253.68L357.46 253.20L357.47 252.57L357.49 251.79L357.50 250.86L357.51 249.77L357.51 249.77L357.52 248.53L357.54 247.14L357.55 245.60L357.56 243.92L357.57 242.10L357.57 242.10L357.59 240.15L357.60 238.07L357.61 235.86L357.62 233.53L357.64 231.10L357.64 231.10L357.65 228.57L357.66 225.94L357.67 223.23L357.69 220.44L357.70 217.60L357.70 217.60L357.71 214.70L357.72 211.77L357.74 208.81L357.75 205.83L357.76 202.86L357.76 202.86L357.77 199.90L357.79 196.97L357.80 194.08L357.81 191.25L357.82 188.50L357.82 188.50L357.84 185.83L357.85 183.27L357.86 180.83L357.87 178.52L357.89 176.37L357.89 176.37L357.90 174.38L357.91 172.57L357.92 170.95L357.94 169.54L357.95 168.35L357.95 168.35L357.96 167.39L357.97 166.68L357.99 166.21L358.00 166.00L358.01 166.06L358.01 166.06L358.02 166.40L358.04 167.00L358.05 167.88L358.06 169.03L358.07 170.45L358.07 170.45L358.09 172.14L358.10 174.10L358.11 176.30L358.12 178.76L358.14 181.44L358.14 181.44L358.15 184.36L358.16 187.47L358.17 190.79L358.19 194.27L358.20 197.92L358.20 197.92L358.21 201.69L358.22 205.58L358.24 209.55L358.25 213.58L358.26 217.64L358.26 217.64L358.27 221.70L358.29 225.72L358.30 229.69L358.31 233.56L358.32 237.30L358.32 237.30L358.34 240.88L358.35 244.26L358.36 247.41L358.37 250.29L358.39 252.87L358.39 252.87L358.40 255.11L358.41 256.99L358.42 258.48L358.44 259.55L358.45 260.18L358.45 260.18L358.46 260.34L358.47 260.01L358.49 259.20L358.50 257.88L358.51 256.06L358.51 256.06L358.52 253.74L358.54 250.92L358.55 247.62L358.56 243.87L358.57 239.69L358.57 239.69L358.59 235.12L358.60 230.19L358.61 224.97L358.62 219.51L358.64 213.86L358.64 213.86L358.65 208.11L358.66 202.33L358.67 196.59L358.69 190.99L358.70 185.61L358.70 185.61L358.71 180.53L358.72 175.86L358.74 171.68L358.75 168.08L358.76 165.13L358.76 165.13L358.77 162.91L358.79 161.50L358.80 160.94L358.81 161.29L358.82 162.70L358.82 162.70L358.84 165.30L358.85 169.19L358.86 174.43L358.87 181.00L358.89 188.80L358.89 188.80L358.90 197.66L358.91 207.32L358.92 217.45L358.94 227.66L358.95 237.52L358.95 237.52L358.96 246.56L358.97 254.35L358.99 260.47L359.00 264.60L359.01 266.47L359.01 266.47L359.02 265.97L359.04 263.08L359.05 257.93L359.06 250.75L359.07 241.90L359.07 241.90L359.09 231.79L359.10 220.90L359.11 209.74L359.12 198.77L359.14 188.46L359.14 188.46L359.15 179.18L359.16 171.22L359.17 164.79L359.19 160.00L359.20 156.86L359.20 156.86L359.21 155.29L359.22 155.16L359.24 156.34L359.25 158.75L359.26 162.30L359.26 162.30L359.27 166.87L359.29 172.32L359.30 178.51L359.31 185.28L359.32 192.48L359.32 192.48L359.34 199.94L359.35 207.52L359.36 215.05L359.37 222.42L359.39 229.49L359.39 229.49L359.40 236.15L359.41 242.31L359.42 247.87L359.44 252.77L359.45 256.96L359.45 256.96L359.46 260.40L359.47 263.08L359.49 265.01L359.50 266.21L359.51 266.68L359.51 266.68L359.52 266.42L359.54 264.83L359.55 261.80L359.56 257.45L359.57 251.91L359.57 251.91L359.59 245.35L359.60 237.95L359.61 229.49L359.62 221.05L359.64 212.88L359.64 212.88L359.65 205.18L359.66 198.13L359.67 191.88L359.69 186.55L359.70 182.24L359.70 182.24L359.71 179.00L359.72 176.85L359.74 175.78L359.75 175.77L359.76 176.74L359.76 176.74L359.77 178.61L359.79 181.27L359.80 184.61L359.81 188.49L359.82 192.77L359.82 192.77L359.84 197.31L359.85 201.98L359.86 206.63L359.87 211.15L359.89 215.41L359.89 215.41L359.90 219.32L359.91 222.79L359.92 225.75L359.94 228.16L359.95 229.97L359.95 229.97L359.96 231.19L359.97 231.80L359.99 231.84L360.00 231.33L360.01 230.32L360.01 230.32L360.02 228.87L360.04 227.04L360.05 224.92L360.06 222.56L360.07 220.06L360.07 220.06L360.09 217.49L360.10 214.93L360.11 212.43L360.12 210.07L360.14 207.91L360.14 207.91L360.15 205.98L360.16 204.33L360.17 202.99L360.19 201.97L360.20 201.29L360.20 201.29L360.21 200.94L360.22 200.90L360.24 201.17L360.25 201.71L360.26 202.50L360.26 202.50L360.27 203.50L360.29 204.66L360.30 205.96L360.31 207.33L360.32 208.75L360.32 208.75L360.34 210.17L360.35 211.54L360.36 212.85L360.37 214.05L360.39 215.12L360.39 215.12L360.40 216.03L360.41 216.78L360.42 217.35L360.44 217.74L360.45 217.94L360.45 217.94L360.46 217.97L360.47 217.83L360.49 217.54L360.50 217.11L360.51 216.56L360.51 216.56L360.52 215.92L360.54 215.21L360.55 214.46L360.56 213.68L360.57 212.89L360.57 212.89L360.59 212.13L360.60 211.41L360.61 210.75L360.62 210.15L360.64 209.64L360.64 209.64L360.65 209.23L360.66 208.91L360.67 208.69L360.69 208.57L360.70 208.55L360.70 208.55L360.71 208.63L360.72 208.78L360.74 209.02L360.75 209.31L360.76 209.66L360.76 209.66L360.77 210.05L360.79 210.47L360.80 210.90L360.81 211.33L360.82 211.75L360.82 211.75L360.84 212.15L360.85 212.52L360.86 212.85L360.87 213.13L360.89 213.36L360.89 213.36L360.90 213.54L360.91 213.67L360.92 213.73L360.94 213.75L360.95 213.71L360.95 213.71L360.96 213.62L360.97 213.50L360.99 213.33L361.00 213.14L361.01 212.93L361.01 212.93L361.02 212.70L361.04 212.46L361.05 212.22L361.06 211.99L361.07 211.77L361.07 211.77L361.09 211.57L361.10 211.38L361.11 211.23L361.12 211.10L361.14 211.00L361.14 211.00L361.15 210.93L361.16 210.89L361.17 210.88L361.19 210.90L361.20 210.95L361.20 210.95L361.21 211.02L361.22 211.10L361.24 211.21L361.25 211.33L361.26 211.45L361.26 211.45L361.27 211.58L361.29 211.71L361.30 211.84L361.31 211.97L361.32 212.08L361.32 212.08L361.34 212.18L361.35 212.27L361.36 212.34L361.37 212.40L361.39 212.43L361.39 212.43L361.40 212.46L361.41 212.46L361.42 212.45L361.44 212.43L361.45 212.39L361.45 212.39L361.46 212.34L361.47 212.28L361.49 212.22L361.51 212.08L361.57 211.75L361.64 211.59L361.70 211.66L361.76 211.84L361.82 212.01L361.89 212.07L361.95 212.02L362.01 211.91L362.07 211.83L362.14 211.81L362.20 211.84L362.26 211.90L362.32 211.94L362.39 211.95L362.45 211.92L362.51 211.89L362.57 211.87L362.64 211.87L362.70 211.89L362.76 211.91L362.82 211.92L362.89 211.91L362.95 211.90L363.01 211.89L363.07 211.89L363.14 211.89L363.20 211.90L363.26 211.90L363.32 211.90L363.39 211.90L363.45 211.90L363.51 211.90L363.57 211.90L363.64 211.90L363.70 211.90L363.76 211.90L363.82 211.90L363.89 211.90L363.95 211.90L364.01 211.90L364.07 211.90L364.14 211.90L364.20 211.90L364.26 211.90L364.32 211.90L364.39 211.90L364.45 211.90L364.51 211.90L364.57 211.90L364.64 211.90L364.70 211.90L364.76 211.90L364.82 211.90L364.89 211.90L364.95 211.90L365.01 211.90L365.07 211.90L365.14 211.90L365.20 211.90L365.26 211.90L365.32 211.90L365.39 211.90L365.45 211.90L365.51 211.90L365.57 211.90L365.64 211.90L365.70 211.90L365.76 211.90L365.82 211.90L365.89 211.90L365.95 211.90" fill="none" stroke="#008b00" stroke-width="0.9" stroke-linejoin="round"/>
<path d="M31.80 1.50L372.40 1.50M31.80 141.65L372.40 141.65M31.80 281.70L372.40 281.70M31.80 1.00L31.80 282.20M372.40 1.00L372.40 282.20M31.90 1.50L31.90 7.40M31.90 135.75L31.90 147.55M31.90 281.70L31.90 275.80M64.65 1.50L64.65 5.30M64.65 137.85L64.65 145.45M64.65 281.70L64.65 277.90M97.40 1.50L97.40 7.40M97.40 135.75L97.40 147.55M97.40 281.70L97.40 275.80M130.15 1.50L130.15 5.30M130.15 137.85L130.15 145.45M130.15 281.70L130.15 277.90M162.90 1.50L162.90 7.40M162.90 135.75L162.90 147.55M162.90 281.70L162.90 275.80M195.65 1.50L195.65 5.30M195.65 137.85L195.65 145.45M195.65 281.70L195.65 277.90M228.40 1.50L228.40 7.40M228.40 135.75L228.40 147.55M228.40 281.70L228.40 275.80M261.15 1.50L261.15 5.30M261.15 137.85L261.15 145.45M261.15 281.70L261.15 277.90M293.90 1.50L293.90 7.40M293.90 135.75L293.90 147.55M293.90 281.70L293.90 275.80M326.65 1.50L326.65 5.30M326.65 137.85L326.65 145.45M326.65 281.70L326.65 277.90M359.40 1.50L359.40 7.40M359.40 135.75L359.40 147.55M359.40 281.70L359.40 275.80M31.80 135.60L37.70 135.60M372.40 135.60L366.50 135.60M31.80 119.60L35.60 119.60M372.40 119.60L368.60 119.60M31.80 103.60L37.70 103.60M372.40 103.60L366.50 103.60M31.80 87.60L35.60 87.60M372.40 87.60L368.60 87.60M31.80 71.60L37.70 71.60M372.40 71.60L366.50 71.60M31.80 55.60L35.60 55.60M372.40 55.60L368.60 55.60M31.80 39.60L37.70 39.60M372.40 39.60L366.50 39.60M31.80 23.60L35.60 23.60M372.40 23.60L368.60 23.60M31.80 7.60L37.70 7.60M372.40 7.60L366.50 7.60M31.80 275.60L37.70 275.60M372.40 275.60L366.50 275.60M31.80 259.68L35.60 259.68M372.40 259.68L368.60 259.68M31.80 243.75L37.70 243.75M372.40 243.75L366.50 243.75M31.80 227.83L35.60 227.83M372.40 227.83L368.60 227.83M31.80 211.90L37.70 211.90M372.40 211.90L366.50 211.90M31.80 195.97L35.60 195.97M372.40 195.97L368.60 195.97M31.80 180.05L37.70 180.05M372.40 180.05L366.50 180.05M31.80 164.12L35.60 164.12M372.40 164.12L368.60 164.12M31.80 148.20L37.70 148.20M372.40 148.20L366.50 148.20" fill="none" stroke="#0c0c0c" stroke-width="1.05"/>
<g style="font-family:'Liberation Serif',serif;font-size:16px;text-rendering:geometricPrecision;filter:blur(0px)" fill="#000" stroke="#000" stroke-width="0.12">
<g style="font-size:16.8px" letter-spacing="0.12" stroke-width="0.04">
<text x="28.2" y="13.3" text-anchor="end">0.4</text>
<text x="28.2" y="45.3" text-anchor="end">0.2</text>
<text x="28.2" y="77.3" text-anchor="end">0</text>
<text x="28.2" y="109.3" text-anchor="end">-0.2</text>
<text x="28.2" y="141.3" text-anchor="end">-0.4</text>
<text x="28.2" y="153.9" text-anchor="end">0.2</text>
<text x="28.2" y="185.8" text-anchor="end">0.1</text>
<text x="28.2" y="217.6" text-anchor="end">0</text>
<text x="28.2" y="249.4" text-anchor="end">-0.1</text>
<text x="28.2" y="281.3" text-anchor="end">-0.2</text>
<text x="31.9" y="297.6" text-anchor="middle">-10000</text>
<text x="97.4" y="297.6" text-anchor="middle">-8000</text>
<text x="162.9" y="297.6" text-anchor="middle">-6000</text>
<text x="228.4" y="297.6" text-anchor="middle">-4000</text>
<text x="293.9" y="297.6" text-anchor="middle">-2000</text>
<text x="359.4" y="297.6" text-anchor="middle">0</text>
</g>
<text y="42.5" fill="#ff0000" stroke="#ff0000"><tspan x="66.1">q</tspan> <tspan x="78.1" dy="1.3" textLength="11.2" lengthAdjust="spacingAndGlyphs">=</tspan> <tspan x="92.80" dy="-1.3" letter-spacing="0.6">1,</tspan> <tspan x="109.1">33</tspan> <tspan x="130.1" letter-spacing="0.35">orbits</tspan></text>
<text y="110.0"><tspan x="232.1">q</tspan> <tspan x="244.1" dy="1.3" textLength="11.2" lengthAdjust="spacingAndGlyphs">=</tspan> <tspan x="258.80" dy="-1.3" letter-spacing="0.6">1,</tspan> <tspan x="275.1">15</tspan> <tspan x="296.1" letter-spacing="0.35">orbits</tspan></text>
<text y="184.2" fill="#008b00" stroke="#008b00"><tspan x="187.3">q</tspan> <tspan x="199.3" dy="1.3" textLength="11.2" lengthAdjust="spacingAndGlyphs">=</tspan> <tspan x="213.25" dy="-1.3" letter-spacing="0.6">6,</tspan> <tspan x="230.3">20</tspan> <tspan x="251.3" letter-spacing="0.35">orbits</tspan></text>
<text y="314" style="font-size:17.2px"><tspan x="165.2" letter-spacing="0.1">time</tspan> <tspan x="201.2" letter-spacing="0.55">(t/M)</tspan></text>
</g>
</svg>
</body></html>
